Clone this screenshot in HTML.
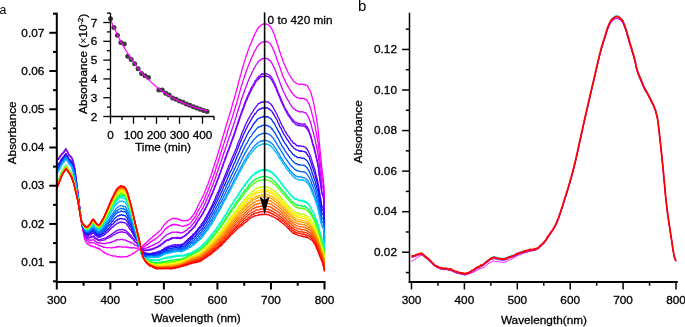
<!DOCTYPE html>
<html><head><meta charset="utf-8"><style>html,body{margin:0;padding:0;background:#fff;overflow:hidden}svg{display:block;will-change:transform}</style></head><body>
<svg width="685" height="327" viewBox="0 0 685 327">
<rect width="685" height="327" fill="#fff"/>
<g fill="none" stroke-width="1.3" stroke-linejoin="round">
<path stroke="#ff00ff" d="M56.8,166.8L57.3,167.5L57.9,166.4L58.4,166.2L58.9,165.8L59.5,165.3L60.0,165.1L60.5,164.1L61.1,163.7L61.6,162.2L62.2,162.3L62.7,162.4L63.2,162.0L63.8,161.8L64.3,161.1L64.8,160.2L65.4,159.2L65.9,158.5L66.4,159.0L67.0,160.1L67.5,160.8L68.0,161.4L68.6,162.6L69.1,163.7L69.6,164.2L70.2,164.8L70.7,165.2L71.3,166.5L71.8,167.2L72.3,168.4L72.9,170.3L73.4,172.0L73.9,174.0L74.5,176.3L75.0,178.6L75.5,181.8L76.1,186.0L76.6,188.4L77.1,191.9L77.7,195.6L78.2,198.8L78.8,202.5L79.3,206.6L79.8,211.1L80.4,215.3L80.9,219.4L81.4,222.3L82.0,225.5L82.5,228.4L83.0,230.9L83.6,233.8L84.1,236.6L84.6,238.9L85.2,240.2L85.7,241.5L86.2,242.5L86.8,242.9L87.3,244.1L87.9,243.8L88.4,244.3L88.9,245.1L89.5,245.1L90.0,245.6L90.5,245.4L91.1,246.3L91.6,246.2L92.1,246.0L92.7,246.1L93.2,247.0L93.7,246.8L94.3,246.8L94.8,247.2L95.3,246.9L95.9,247.8L96.4,247.6L97.0,248.2L97.5,247.8L98.0,248.4L98.6,248.7L99.1,249.3L99.6,248.8L100.2,249.3L100.7,249.7L101.2,250.0L101.8,250.5L102.3,251.2L102.8,251.6L103.4,252.0L103.9,251.9L104.5,252.9L105.0,253.1L105.5,253.3L106.1,253.4L106.6,253.6L107.1,254.2L107.7,254.6L108.2,254.4L108.7,254.3L109.3,254.7L109.8,255.0L110.3,255.3L110.9,255.4L111.4,255.7L111.9,255.6L112.5,256.1L113.0,256.0L113.6,256.2L114.1,256.1L114.6,256.2L115.2,255.8L115.7,256.1L116.2,256.1L116.8,257.0L117.3,256.7L117.8,256.8L118.4,256.6L118.9,257.2L119.4,256.5L120.0,256.6L120.5,257.1L121.0,257.1L121.6,257.1L122.1,256.9L122.7,256.8L123.2,256.5L123.7,257.0L124.3,256.8L124.8,256.9L125.3,256.6L125.9,256.7L126.4,256.5L126.9,256.9L127.5,256.5L128.0,256.5L128.5,255.7L129.1,255.6L129.6,255.6L130.1,255.3L130.7,254.8L131.2,254.7L131.8,254.5L132.3,253.8L132.8,253.0L133.4,253.3L133.9,253.1L134.4,252.9L135.0,252.6L135.5,251.8L136.0,251.4L136.6,251.2L137.1,250.7L137.6,250.3L138.2,249.8L138.7,249.8L139.3,249.1L139.8,248.4L140.3,248.2L140.9,247.6L141.4,247.2L141.9,246.7L142.5,245.9L143.0,245.8L143.5,245.2L144.1,244.5L144.6,244.1L145.1,243.4L145.7,243.8L146.2,242.6L146.7,242.4L147.3,241.8L147.8,241.1L148.4,240.6L148.9,240.1L149.4,239.8L150.0,239.0L150.5,239.0L151.0,238.5L151.6,237.8L152.1,237.6L152.6,236.5L153.2,236.4L153.7,235.6L154.2,235.7L154.8,235.3L155.3,234.8L155.8,234.2L156.4,234.0L156.9,233.3L157.5,233.0L158.0,232.1L158.5,232.1L159.1,231.2L159.6,231.1L160.1,230.6L160.7,229.9L161.2,229.4L161.7,228.4L162.3,227.5L162.8,226.9L163.3,226.1L163.9,225.1L164.4,224.7L165.0,224.0L165.5,223.4L166.0,223.1L166.6,222.0L167.1,222.1L167.6,221.1L168.2,220.9L168.7,220.3L169.2,220.2L169.8,220.0L170.3,219.4L170.8,219.3L171.4,219.0L171.9,218.7L172.4,218.5L173.0,218.4L173.5,218.5L174.1,218.3L174.6,218.8L175.1,218.4L175.7,218.7L176.2,218.3L176.7,218.4L177.3,219.2L177.8,218.8L178.3,219.0L178.9,219.4L179.4,219.2L179.9,219.7L180.5,220.3L181.0,220.2L181.5,220.3L182.1,220.5L182.6,220.9L183.2,220.4L183.7,220.4L184.2,220.8L184.8,220.7L185.3,220.6L185.8,220.7L186.4,220.2L186.9,220.5L187.4,220.8L188.0,220.7L188.5,220.3L189.0,219.5L189.6,219.6L190.1,219.0L190.6,218.3L191.2,217.8L191.7,216.5L192.3,216.5L192.8,215.4L193.3,214.8L193.9,214.0L194.4,213.5L194.9,211.9L195.5,211.3L196.0,210.2L196.5,209.2L197.1,208.0L197.6,206.5L198.1,205.3L198.7,204.3L199.2,203.2L199.8,202.3L200.3,201.4L200.8,200.3L201.4,199.3L201.9,198.4L202.4,197.2L203.0,195.9L203.5,195.0L204.0,193.9L204.6,192.4L205.1,190.9L205.6,190.0L206.2,188.6L206.7,187.2L207.2,185.5L207.8,184.8L208.3,182.8L208.9,181.2L209.4,180.1L209.9,178.0L210.5,176.7L211.0,175.4L211.5,173.6L212.1,172.4L212.6,170.6L213.1,168.4L213.7,167.4L214.2,165.1L214.7,163.8L215.3,161.9L215.8,160.4L216.3,159.2L216.9,157.1L217.4,155.2L218.0,153.7L218.5,152.0L219.0,149.8L219.6,148.3L220.1,146.7L220.6,144.7L221.2,142.5L221.7,141.0L222.2,138.8L222.8,136.8L223.3,135.4L223.8,133.8L224.4,132.0L224.9,129.9L225.5,127.9L226.0,126.2L226.5,124.3L227.1,122.8L227.6,120.8L228.1,119.2L228.7,117.4L229.2,115.9L229.7,114.2L230.3,112.2L230.8,110.5L231.3,108.7L231.9,106.5L232.4,104.9L232.9,102.4L233.5,101.0L234.0,99.5L234.6,97.3L235.1,95.4L235.6,93.7L236.2,91.4L236.7,89.8L237.2,88.3L237.8,85.4L238.3,83.8L238.8,81.3L239.4,79.7L239.9,77.9L240.4,75.2L241.0,73.9L241.5,71.6L242.0,69.4L242.6,67.9L243.1,66.0L243.7,64.2L244.2,62.3L244.7,60.9L245.3,58.9L245.8,57.2L246.3,55.2L246.9,54.2L247.4,52.8L247.9,50.9L248.5,49.7L249.0,48.1L249.5,46.7L250.1,45.1L250.6,44.2L251.2,42.7L251.7,41.9L252.2,40.2L252.8,38.4L253.3,37.7L253.8,36.4L254.4,35.4L254.9,33.8L255.4,32.8L256.0,32.1L256.5,30.6L257.0,29.8L257.6,28.8L258.1,28.4L258.6,27.1L259.2,26.8L259.7,26.4L260.3,26.0L260.8,25.5L261.3,24.9L261.9,24.9L262.4,24.3L262.9,24.3L263.5,23.9L264.0,23.9L264.5,24.0L265.1,24.4L265.6,23.9L266.1,23.9L266.7,24.1L267.2,24.2L267.7,24.7L268.3,24.9L268.8,25.4L269.4,25.4L269.9,26.2L270.4,27.0L271.0,28.0L271.5,28.6L272.0,29.2L272.6,30.6L273.1,32.1L273.6,32.9L274.2,34.3L274.7,35.9L275.2,37.5L275.8,39.0L276.3,40.7L276.8,42.3L277.4,44.4L277.9,45.5L278.5,47.5L279.0,48.8L279.5,51.4L280.1,52.4L280.6,54.0L281.1,55.9L281.7,57.3L282.2,58.7L282.7,60.2L283.3,61.9L283.8,63.2L284.3,64.2L284.9,65.4L285.4,66.9L286.0,68.1L286.5,69.1L287.0,70.0L287.6,71.5L288.1,72.6L288.6,73.2L289.2,74.5L289.7,75.3L290.2,76.0L290.8,76.8L291.3,78.0L291.8,78.4L292.4,79.7L292.9,79.9L293.4,81.0L294.0,81.6L294.5,81.7L295.1,82.4L295.6,82.9L296.1,83.2L296.7,83.3L297.2,83.6L297.7,83.8L298.3,83.8L298.8,84.3L299.3,84.3L299.9,84.4L300.4,84.1L300.9,84.1L301.5,84.1L302.0,84.4L302.5,84.5L303.1,84.3L303.6,84.6L304.2,84.4L304.7,84.5L305.2,85.0L305.8,85.1L306.3,85.4L306.8,85.4L307.4,85.7L307.9,86.9L308.4,87.7L309.0,89.0L309.5,89.3L310.0,90.5L310.6,92.0L311.1,93.1L311.7,95.5L312.2,97.3L312.7,99.4L313.3,101.9L313.8,103.8L314.3,106.3L314.9,109.5L315.4,112.5L315.9,115.2L316.5,118.6L317.0,122.0L317.5,125.2L318.1,129.3L318.6,134.6L319.1,140.4L319.7,146.6L320.2,151.8L320.8,157.2L321.3,162.6L321.8,167.6L322.4,172.3L322.9,175.8L323.4,180.3L324.0,187.4L324.5,223.9"/>
<path stroke="#f200ff" d="M56.8,168.7L57.3,168.5L57.9,167.8L58.4,167.2L58.9,166.4L59.5,166.1L60.0,165.5L60.5,164.6L61.1,164.0L61.6,163.2L62.2,162.4L62.7,162.2L63.2,161.3L63.8,161.4L64.3,160.5L64.8,159.7L65.4,158.7L65.9,158.4L66.4,159.0L67.0,159.6L67.5,160.3L68.0,161.4L68.6,162.4L69.1,163.5L69.6,163.7L70.2,164.2L70.7,165.2L71.3,166.0L71.8,166.7L72.3,168.4L72.9,169.7L73.4,171.6L73.9,173.7L74.5,176.0L75.0,178.6L75.5,181.4L76.1,184.7L76.6,188.5L77.1,191.3L77.7,195.0L78.2,198.5L78.8,202.9L79.3,206.0L79.8,210.8L80.4,214.9L80.9,219.2L81.4,222.3L82.0,225.1L82.5,227.5L83.0,230.3L83.6,232.6L84.1,234.9L84.6,237.5L85.2,238.1L85.7,239.2L86.2,240.1L86.8,240.4L87.3,241.3L87.9,241.5L88.4,241.4L88.9,241.8L89.5,242.7L90.0,243.1L90.5,242.7L91.1,242.2L91.6,242.6L92.1,242.6L92.7,242.4L93.2,242.9L93.7,242.8L94.3,242.9L94.8,243.3L95.3,243.6L95.9,244.1L96.4,244.2L97.0,244.6L97.5,244.5L98.0,244.5L98.6,245.5L99.1,246.0L99.6,245.8L100.2,245.7L100.7,245.8L101.2,246.0L101.8,246.6L102.3,246.8L102.8,246.6L103.4,247.3L103.9,247.0L104.5,247.4L105.0,247.3L105.5,247.4L106.1,247.4L106.6,247.5L107.1,247.9L107.7,247.6L108.2,247.7L108.7,247.7L109.3,247.5L109.8,247.8L110.3,247.9L110.9,247.9L111.4,247.8L111.9,247.5L112.5,247.8L113.0,247.3L113.6,247.4L114.1,247.5L114.6,247.6L115.2,247.2L115.7,247.0L116.2,247.5L116.8,246.7L117.3,246.6L117.8,246.8L118.4,246.8L118.9,246.3L119.4,246.5L120.0,247.0L120.5,246.8L121.0,246.9L121.6,246.9L122.1,247.4L122.7,246.7L123.2,247.1L123.7,247.0L124.3,247.1L124.8,246.9L125.3,247.2L125.9,247.4L126.4,247.1L126.9,247.0L127.5,247.5L128.0,247.2L128.5,247.5L129.1,247.8L129.6,247.3L130.1,247.9L130.7,247.4L131.2,247.8L131.8,247.6L132.3,248.0L132.8,248.0L133.4,247.6L133.9,247.9L134.4,247.9L135.0,248.1L135.5,247.9L136.0,248.4L136.6,248.3L137.1,248.0L137.6,248.1L138.2,248.1L138.7,247.8L139.3,247.8L139.8,247.7L140.3,247.2L140.9,247.4L141.4,247.2L141.9,247.5L142.5,247.4L143.0,247.5L143.5,246.9L144.1,247.1L144.6,246.4L145.1,245.8L145.7,245.2L146.2,245.0L146.7,245.1L147.3,244.4L147.8,244.3L148.4,243.6L148.9,243.4L149.4,242.8L150.0,242.1L150.5,242.0L151.0,241.3L151.6,241.5L152.1,241.2L152.6,240.5L153.2,240.0L153.7,240.2L154.2,239.7L154.8,239.6L155.3,239.0L155.8,238.4L156.4,238.2L156.9,237.9L157.5,237.7L158.0,236.9L158.5,236.3L159.1,235.9L159.6,235.5L160.1,235.4L160.7,234.2L161.2,234.0L161.7,233.5L162.3,232.6L162.8,232.6L163.3,231.5L163.9,230.9L164.4,230.1L165.0,229.2L165.5,228.9L166.0,228.8L166.6,228.0L167.1,227.5L167.6,227.1L168.2,227.1L168.7,226.9L169.2,226.1L169.8,225.8L170.3,225.6L170.8,225.7L171.4,224.7L171.9,225.5L172.4,224.8L173.0,224.1L173.5,224.5L174.1,224.4L174.6,224.8L175.1,224.2L175.7,224.9L176.2,224.6L176.7,224.7L177.3,225.0L177.8,224.7L178.3,225.3L178.9,225.2L179.4,225.3L179.9,225.5L180.5,225.6L181.0,225.7L181.5,226.1L182.1,226.3L182.6,226.3L183.2,226.2L183.7,225.8L184.2,226.0L184.8,225.7L185.3,225.7L185.8,225.7L186.4,225.2L186.9,225.4L187.4,225.0L188.0,224.5L188.5,224.8L189.0,224.2L189.6,224.0L190.1,223.3L190.6,223.0L191.2,222.1L191.7,221.5L192.3,220.6L192.8,219.6L193.3,219.2L193.9,218.5L194.4,217.9L194.9,217.0L195.5,216.2L196.0,215.4L196.5,213.9L197.1,212.5L197.6,211.7L198.1,210.9L198.7,209.4L199.2,208.9L199.8,208.0L200.3,207.2L200.8,206.3L201.4,205.2L201.9,203.7L202.4,203.2L203.0,202.3L203.5,201.1L204.0,199.9L204.6,199.1L205.1,197.4L205.6,196.1L206.2,194.9L206.7,193.5L207.2,192.6L207.8,191.4L208.3,189.4L208.9,188.0L209.4,187.2L209.9,185.4L210.5,184.0L211.0,182.4L211.5,181.0L212.1,179.7L212.6,178.0L213.1,176.5L213.7,175.0L214.2,173.9L214.7,172.6L215.3,170.5L215.8,169.1L216.3,167.0L216.9,165.3L217.4,163.8L218.0,162.3L218.5,160.5L219.0,158.6L219.6,157.4L220.1,155.3L220.6,153.7L221.2,152.1L221.7,150.1L222.2,148.9L222.8,146.8L223.3,145.6L223.8,143.8L224.4,142.2L224.9,140.1L225.5,138.7L226.0,136.8L226.5,135.4L227.1,133.2L227.6,131.4L228.1,130.1L228.7,128.1L229.2,126.7L229.7,124.6L230.3,123.5L230.8,122.2L231.3,119.8L231.9,118.5L232.4,117.0L232.9,115.2L233.5,113.7L234.0,111.6L234.6,110.1L235.1,107.7L235.6,106.1L236.2,104.8L236.7,102.9L237.2,100.8L237.8,99.3L238.3,97.0L238.8,95.1L239.4,93.4L239.9,91.5L240.4,89.4L241.0,87.4L241.5,85.5L242.0,84.1L242.6,82.2L243.1,80.8L243.7,78.9L244.2,77.5L244.7,75.5L245.3,74.4L245.8,72.8L246.3,71.1L246.9,69.5L247.4,68.5L247.9,66.9L248.5,65.3L249.0,64.0L249.5,62.9L250.1,61.4L250.6,60.2L251.2,58.5L251.7,57.5L252.2,56.7L252.8,55.7L253.3,54.0L253.8,52.7L254.4,51.8L254.9,50.6L255.4,49.8L256.0,49.1L256.5,47.7L257.0,47.0L257.6,46.1L258.1,45.8L258.6,44.8L259.2,44.4L259.7,43.6L260.3,43.5L260.8,43.1L261.3,42.8L261.9,42.1L262.4,42.1L262.9,42.1L263.5,42.0L264.0,41.9L264.5,41.3L265.1,42.0L265.6,41.8L266.1,41.5L266.7,41.5L267.2,41.9L267.7,41.9L268.3,42.2L268.8,42.5L269.4,43.2L269.9,43.3L270.4,44.3L271.0,44.7L271.5,46.1L272.0,46.6L272.6,48.1L273.1,49.3L273.6,50.1L274.2,51.7L274.7,52.8L275.2,54.5L275.8,55.4L276.3,57.3L276.8,59.1L277.4,60.3L277.9,61.7L278.5,63.6L279.0,64.9L279.5,66.1L280.1,67.9L280.6,69.6L281.1,71.2L281.7,72.4L282.2,74.3L282.7,76.1L283.3,76.9L283.8,78.2L284.3,78.8L284.9,80.4L285.4,81.8L286.0,82.9L286.5,83.6L287.0,84.9L287.6,85.9L288.1,86.7L288.6,87.6L289.2,88.5L289.7,89.4L290.2,90.0L290.8,90.7L291.3,92.3L291.8,92.1L292.4,93.4L292.9,93.8L293.4,94.9L294.0,95.2L294.5,95.8L295.1,96.3L295.6,96.5L296.1,96.9L296.7,97.6L297.2,97.6L297.7,97.6L298.3,97.8L298.8,98.2L299.3,98.3L299.9,98.3L300.4,98.6L300.9,98.6L301.5,98.0L302.0,98.5L302.5,98.4L303.1,98.7L303.6,98.3L304.2,98.3L304.7,99.0L305.2,99.1L305.8,99.7L306.3,99.6L306.8,100.4L307.4,101.5L307.9,101.9L308.4,103.1L309.0,104.1L309.5,105.3L310.0,107.0L310.6,108.5L311.1,110.1L311.7,112.5L312.2,114.7L312.7,116.1L313.3,118.7L313.8,121.0L314.3,123.2L314.9,125.3L315.4,127.9L315.9,130.9L316.5,133.6L317.0,137.0L317.5,139.5L318.1,142.9L318.6,147.3L319.1,152.4L319.7,158.3L320.2,162.0L320.8,167.6L321.3,171.8L321.8,176.3L322.4,179.2L322.9,181.4L323.4,185.2L324.0,191.3L324.5,225.4"/>
<path stroke="#cc00ff" d="M56.8,168.6L57.3,167.9L57.9,167.5L58.4,165.9L58.9,165.3L59.5,164.9L60.0,163.8L60.5,162.8L61.1,162.1L61.6,161.0L62.2,159.9L62.7,159.4L63.2,158.5L63.8,158.1L64.3,157.4L64.8,156.5L65.4,155.9L65.9,155.3L66.4,155.5L67.0,156.7L67.5,157.5L68.0,158.3L68.6,159.7L69.1,160.3L69.6,160.8L70.2,161.6L70.7,162.2L71.3,163.1L71.8,164.2L72.3,165.1L72.9,166.6L73.4,168.1L73.9,170.6L74.5,173.1L75.0,175.3L75.5,178.7L76.1,182.5L76.6,186.3L77.1,189.6L77.7,193.6L78.2,197.4L78.8,201.4L79.3,205.7L79.8,210.1L80.4,214.9L80.9,219.2L81.4,222.1L82.0,224.6L82.5,226.7L83.0,229.0L83.6,231.7L84.1,234.0L84.6,235.6L85.2,236.8L85.7,238.2L86.2,238.3L86.8,239.0L87.3,239.1L87.9,239.6L88.4,239.7L88.9,239.9L89.5,240.3L90.0,240.2L90.5,240.3L91.1,239.9L91.6,240.2L92.1,240.2L92.7,239.7L93.2,239.6L93.7,239.8L94.3,240.1L94.8,241.1L95.3,241.3L95.9,241.6L96.4,241.8L97.0,242.6L97.5,242.4L98.0,242.6L98.6,243.1L99.1,243.0L99.6,242.9L100.2,243.2L100.7,243.0L101.2,243.1L101.8,243.3L102.3,243.4L102.8,243.7L103.4,243.4L103.9,243.8L104.5,243.8L105.0,243.5L105.5,243.7L106.1,243.3L106.6,243.0L107.1,243.2L107.7,243.0L108.2,242.7L108.7,242.6L109.3,243.0L109.8,242.8L110.3,242.0L110.9,242.1L111.4,242.5L111.9,242.1L112.5,241.6L113.0,241.7L113.6,241.2L114.1,241.1L114.6,240.8L115.2,240.9L115.7,240.3L116.2,239.8L116.8,240.3L117.3,239.7L117.8,239.7L118.4,239.7L118.9,239.8L119.4,239.9L120.0,239.8L120.5,239.4L121.0,239.4L121.6,239.3L122.1,239.4L122.7,239.5L123.2,239.9L123.7,240.1L124.3,239.8L124.8,239.8L125.3,240.0L125.9,240.6L126.4,240.5L126.9,241.0L127.5,240.9L128.0,241.5L128.5,241.5L129.1,241.7L129.6,242.0L130.1,241.9L130.7,242.7L131.2,243.2L131.8,242.8L132.3,243.0L132.8,243.3L133.4,243.9L133.9,244.2L134.4,244.6L135.0,245.2L135.5,245.2L136.0,245.2L136.6,245.7L137.1,245.3L137.6,246.3L138.2,246.3L138.7,246.2L139.3,246.8L139.8,247.2L140.3,247.6L140.9,247.8L141.4,247.6L141.9,248.2L142.5,248.4L143.0,248.7L143.5,248.4L144.1,248.5L144.6,248.7L145.1,248.5L145.7,248.2L146.2,247.9L146.7,248.0L147.3,247.7L147.8,247.1L148.4,247.6L148.9,247.4L149.4,246.7L150.0,246.6L150.5,246.4L151.0,246.1L151.6,245.9L152.1,245.5L152.6,245.4L153.2,244.9L153.7,245.1L154.2,244.8L154.8,244.3L155.3,244.1L155.8,243.6L156.4,243.5L156.9,243.3L157.5,242.8L158.0,242.6L158.5,242.5L159.1,242.0L159.6,241.6L160.1,241.1L160.7,240.5L161.2,239.9L161.7,239.4L162.3,238.6L162.8,238.2L163.3,238.0L163.9,237.0L164.4,236.6L165.0,236.5L165.5,235.8L166.0,235.2L166.6,235.0L167.1,234.5L167.6,234.3L168.2,234.0L168.7,233.9L169.2,233.5L169.8,233.4L170.3,232.9L170.8,233.2L171.4,232.6L171.9,232.2L172.4,232.2L173.0,232.2L173.5,232.0L174.1,232.3L174.6,232.3L175.1,232.2L175.7,232.1L176.2,231.9L176.7,232.4L177.3,232.0L177.8,232.6L178.3,232.5L178.9,232.4L179.4,232.2L179.9,232.8L180.5,233.2L181.0,232.6L181.5,232.7L182.1,232.8L182.6,232.7L183.2,232.3L183.7,231.9L184.2,231.5L184.8,231.7L185.3,230.5L185.8,230.7L186.4,230.4L186.9,229.8L187.4,229.6L188.0,228.6L188.5,228.5L189.0,228.3L189.6,227.7L190.1,227.2L190.6,226.7L191.2,225.9L191.7,225.6L192.3,224.4L192.8,224.2L193.3,223.6L193.9,222.7L194.4,222.7L194.9,221.6L195.5,220.4L196.0,219.6L196.5,218.6L197.1,217.5L197.6,216.8L198.1,215.8L198.7,215.1L199.2,214.4L199.8,212.8L200.3,212.5L200.8,211.6L201.4,210.2L201.9,209.4L202.4,208.8L203.0,207.8L203.5,206.6L204.0,205.8L204.6,204.4L205.1,203.3L205.6,202.2L206.2,200.8L206.7,199.7L207.2,198.2L207.8,197.0L208.3,196.5L208.9,194.6L209.4,193.8L209.9,192.5L210.5,190.7L211.0,189.6L211.5,188.2L212.1,186.5L212.6,185.5L213.1,184.1L213.7,182.4L214.2,180.8L214.7,179.5L215.3,178.5L215.8,176.8L216.3,175.2L216.9,173.2L217.4,171.9L218.0,170.4L218.5,168.8L219.0,167.6L219.6,165.8L220.1,164.3L220.6,163.0L221.2,161.2L221.7,159.5L222.2,158.3L222.8,156.3L223.3,154.7L223.8,153.0L224.4,151.9L224.9,150.1L225.5,148.2L226.0,146.7L226.5,145.5L227.1,143.7L227.6,141.9L228.1,140.6L228.7,139.0L229.2,136.9L229.7,136.0L230.3,134.4L230.8,133.1L231.3,131.4L231.9,129.4L232.4,128.2L232.9,126.8L233.5,125.2L234.0,123.3L234.6,121.5L235.1,120.2L235.6,118.2L236.2,116.7L236.7,114.8L237.2,113.1L237.8,111.3L238.3,109.8L238.8,108.0L239.4,106.2L239.9,104.9L240.4,102.8L241.0,101.0L241.5,99.2L242.0,97.8L242.6,96.3L243.1,94.6L243.7,93.2L244.2,91.6L244.7,89.9L245.3,88.5L245.8,87.4L246.3,85.8L246.9,84.8L247.4,82.8L247.9,81.8L248.5,80.3L249.0,79.4L249.5,77.9L250.1,76.6L250.6,75.3L251.2,74.6L251.7,73.0L252.2,72.1L252.8,71.1L253.3,69.8L253.8,68.9L254.4,67.9L254.9,67.0L255.4,65.9L256.0,65.0L256.5,64.2L257.0,63.6L257.6,62.8L258.1,61.9L258.6,61.1L259.2,60.9L259.7,60.1L260.3,60.0L260.8,59.9L261.3,59.2L261.9,59.3L262.4,58.8L262.9,58.5L263.5,58.7L264.0,58.5L264.5,57.9L265.1,58.4L265.6,58.4L266.1,58.3L266.7,58.6L267.2,58.7L267.7,58.8L268.3,59.7L268.8,59.2L269.4,60.2L269.9,60.7L270.4,60.9L271.0,61.7L271.5,62.7L272.0,63.3L272.6,64.5L273.1,65.5L273.6,66.8L274.2,67.8L274.7,68.8L275.2,70.2L275.8,71.5L276.3,72.8L276.8,74.4L277.4,76.0L277.9,77.3L278.5,78.3L279.0,80.1L279.5,81.5L280.1,83.0L280.6,84.4L281.1,85.7L281.7,87.2L282.2,88.5L282.7,90.0L283.3,91.2L283.8,92.1L284.3,93.2L284.9,94.3L285.4,95.6L286.0,96.8L286.5,97.5L287.0,98.5L287.6,99.9L288.1,100.3L288.6,101.2L289.2,101.9L289.7,103.3L290.2,104.2L290.8,104.5L291.3,105.9L291.8,106.4L292.4,107.2L292.9,107.8L293.4,108.7L294.0,108.8L294.5,109.1L295.1,109.6L295.6,110.0L296.1,110.6L296.7,110.4L297.2,110.9L297.7,111.0L298.3,111.7L298.8,111.4L299.3,111.8L299.9,111.6L300.4,111.7L300.9,112.0L301.5,111.8L302.0,111.6L302.5,111.8L303.1,111.9L303.6,112.3L304.2,112.4L304.7,112.7L305.2,112.7L305.8,112.9L306.3,113.6L306.8,114.3L307.4,115.3L307.9,115.9L308.4,117.2L309.0,118.6L309.5,119.8L310.0,121.0L310.6,122.7L311.1,124.1L311.7,126.7L312.2,128.9L312.7,130.7L313.3,132.2L313.8,134.7L314.3,136.4L314.9,138.6L315.4,140.8L315.9,143.7L316.5,146.5L317.0,148.9L317.5,151.5L318.1,154.3L318.6,158.5L319.1,162.7L319.7,168.0L320.2,172.2L320.8,176.6L321.3,180.6L321.8,184.7L322.4,186.7L322.9,187.9L323.4,190.5L324.0,196.3L324.5,228.0"/>
<path stroke="#8800ff" d="M56.8,159.6L57.3,159.2L57.9,158.3L58.4,157.9L58.9,158.2L59.5,157.1L60.0,156.1L60.5,155.4L61.1,154.9L61.6,153.7L62.2,153.5L62.7,153.1L63.2,152.4L63.8,151.7L64.3,150.8L64.8,150.1L65.4,149.6L65.9,148.5L66.4,149.8L67.0,150.7L67.5,151.2L68.0,152.6L68.6,153.5L69.1,154.9L69.6,155.2L70.2,155.8L70.7,156.3L71.3,156.9L71.8,157.4L72.3,158.5L72.9,159.7L73.4,162.0L73.9,164.3L74.5,166.6L75.0,169.5L75.5,174.0L76.1,177.7L76.6,182.1L77.1,186.1L77.7,190.4L78.2,195.0L78.8,199.9L79.3,204.0L79.8,209.3L80.4,213.5L80.9,218.2L81.4,221.1L82.0,223.4L82.5,225.8L83.0,228.5L83.6,230.3L84.1,232.7L84.6,234.5L85.2,235.4L85.7,236.0L86.2,237.1L86.8,237.2L87.3,237.7L87.9,238.2L88.4,238.0L88.9,237.6L89.5,237.9L90.0,237.8L90.5,237.6L91.1,237.7L91.6,237.1L92.1,236.8L92.7,236.6L93.2,236.7L93.7,237.3L94.3,237.7L94.8,238.2L95.3,238.7L95.9,239.1L96.4,239.0L97.0,239.3L97.5,240.1L98.0,240.0L98.6,240.7L99.1,240.6L99.6,240.8L100.2,240.9L100.7,240.4L101.2,240.3L101.8,240.4L102.3,240.4L102.8,240.4L103.4,240.1L103.9,240.1L104.5,239.8L105.0,239.9L105.5,239.3L106.1,239.0L106.6,238.5L107.1,238.3L107.7,238.2L108.2,238.2L108.7,238.1L109.3,237.4L109.8,236.8L110.3,236.4L110.9,237.1L111.4,236.3L111.9,235.9L112.5,235.8L113.0,235.2L113.6,234.9L114.1,234.7L114.6,234.3L115.2,234.3L115.7,233.8L116.2,233.5L116.8,232.9L117.3,233.3L117.8,232.8L118.4,232.4L118.9,232.5L119.4,232.1L120.0,232.4L120.5,232.1L121.0,232.0L121.6,231.7L122.1,232.1L122.7,232.0L123.2,232.4L123.7,232.4L124.3,232.2L124.8,232.5L125.3,232.5L125.9,232.9L126.4,232.9L126.9,233.3L127.5,234.4L128.0,234.3L128.5,235.2L129.1,235.6L129.6,236.3L130.1,236.5L130.7,237.4L131.2,237.8L131.8,238.4L132.3,238.7L132.8,239.1L133.4,239.8L133.9,240.5L134.4,241.3L135.0,242.1L135.5,242.1L136.0,242.7L136.6,243.1L137.1,243.3L137.6,244.2L138.2,244.7L138.7,245.7L139.3,245.6L139.8,246.3L140.3,247.1L140.9,247.6L141.4,248.6L141.9,249.1L142.5,249.1L143.0,249.7L143.5,249.8L144.1,250.0L144.6,250.1L145.1,250.2L145.7,249.8L146.2,250.3L146.7,250.1L147.3,250.2L147.8,250.2L148.4,250.6L148.9,250.3L149.4,249.4L150.0,249.2L150.5,249.5L151.0,249.2L151.6,248.9L152.1,249.1L152.6,248.2L153.2,248.7L153.7,248.4L154.2,248.7L154.8,247.6L155.3,247.7L155.8,247.1L156.4,247.5L156.9,246.9L157.5,246.7L158.0,246.4L158.5,245.7L159.1,245.3L159.6,245.2L160.1,245.3L160.7,244.6L161.2,244.1L161.7,243.9L162.3,243.4L162.8,243.0L163.3,242.9L163.9,242.1L164.4,241.4L165.0,241.5L165.5,240.9L166.0,240.3L166.6,240.5L167.1,239.9L167.6,240.0L168.2,239.5L168.7,239.5L169.2,239.1L169.8,238.8L170.3,238.6L170.8,238.4L171.4,238.7L171.9,237.6L172.4,237.9L173.0,238.0L173.5,237.8L174.1,237.5L174.6,237.8L175.1,237.6L175.7,237.7L176.2,237.4L176.7,237.7L177.3,237.5L177.8,237.5L178.3,237.7L178.9,237.4L179.4,237.7L179.9,238.1L180.5,237.7L181.0,237.7L181.5,237.6L182.1,237.3L182.6,236.6L183.2,236.7L183.7,236.3L184.2,236.1L184.8,235.4L185.3,235.3L185.8,235.0L186.4,234.7L186.9,233.8L187.4,233.3L188.0,233.3L188.5,232.6L189.0,231.7L189.6,230.9L190.1,231.0L190.6,230.3L191.2,229.5L191.7,229.3L192.3,228.7L192.8,228.1L193.3,227.7L193.9,226.8L194.4,226.1L194.9,225.8L195.5,224.6L196.0,223.5L196.5,222.8L197.1,221.8L197.6,221.2L198.1,219.9L198.7,219.6L199.2,218.2L199.8,217.9L200.3,217.2L200.8,216.5L201.4,215.5L201.9,214.7L202.4,213.8L203.0,212.8L203.5,211.6L204.0,210.6L204.6,209.9L205.1,208.4L205.6,207.9L206.2,206.8L206.7,205.7L207.2,204.2L207.8,203.5L208.3,202.3L208.9,200.5L209.4,199.2L209.9,198.0L210.5,197.4L211.0,195.8L211.5,194.3L212.1,193.2L212.6,192.3L213.1,190.7L213.7,189.7L214.2,188.2L214.7,186.1L215.3,185.1L215.8,184.2L216.3,182.8L216.9,181.0L217.4,179.8L218.0,178.1L218.5,176.9L219.0,175.4L219.6,173.8L220.1,172.7L220.6,171.4L221.2,169.8L221.7,168.2L222.2,166.6L222.8,165.1L223.3,163.6L223.8,161.9L224.4,160.8L224.9,158.7L225.5,157.1L226.0,156.0L226.5,154.6L227.1,152.8L227.6,151.5L228.1,150.2L228.7,148.8L229.2,147.4L229.7,146.1L230.3,144.2L230.8,142.6L231.3,141.7L231.9,140.0L232.4,138.5L232.9,137.1L233.5,135.7L234.0,134.1L234.6,132.9L235.1,130.9L235.6,129.4L236.2,127.3L236.7,126.0L237.2,124.7L237.8,123.0L238.3,121.0L238.8,119.4L239.4,118.1L239.9,116.6L240.4,115.3L241.0,113.5L241.5,111.9L242.0,110.5L242.6,108.4L243.1,107.8L243.7,105.9L244.2,104.4L244.7,103.0L245.3,101.3L245.8,100.7L246.3,99.2L246.9,97.7L247.4,96.5L247.9,95.4L248.5,94.2L249.0,92.6L249.5,92.0L250.1,90.7L250.6,89.2L251.2,88.0L251.7,87.1L252.2,86.5L252.8,85.5L253.3,84.5L253.8,83.6L254.4,82.5L254.9,81.2L255.4,80.5L256.0,80.0L256.5,79.2L257.0,78.6L257.6,77.3L258.1,77.5L258.6,76.4L259.2,76.3L259.7,75.8L260.3,75.5L260.8,74.6L261.3,74.6L261.9,73.7L262.4,74.4L262.9,74.2L263.5,73.7L264.0,73.6L264.5,73.8L265.1,74.2L265.6,73.4L266.1,73.6L266.7,73.8L267.2,74.1L267.7,74.1L268.3,74.6L268.8,74.8L269.4,75.2L269.9,75.3L270.4,76.3L271.0,76.9L271.5,77.2L272.0,78.2L272.6,79.2L273.1,80.2L273.6,81.0L274.2,82.5L274.7,83.4L275.2,84.2L275.8,85.9L276.3,87.4L276.8,88.8L277.4,89.8L277.9,91.5L278.5,92.9L279.0,94.1L279.5,95.5L280.1,96.3L280.6,98.2L281.1,98.8L281.7,100.6L282.2,101.6L282.7,102.7L283.3,104.0L283.8,105.0L284.3,106.5L284.9,107.8L285.4,108.4L286.0,109.7L286.5,110.4L287.0,111.0L287.6,112.2L288.1,113.1L288.6,114.1L289.2,114.8L289.7,115.6L290.2,116.7L290.8,117.0L291.3,118.1L291.8,118.5L292.4,119.3L292.9,119.6L293.4,120.3L294.0,121.0L294.5,121.5L295.1,121.8L295.6,122.0L296.1,122.4L296.7,122.9L297.2,123.1L297.7,123.0L298.3,123.9L298.8,123.5L299.3,124.0L299.9,123.5L300.4,124.0L300.9,124.0L301.5,124.2L302.0,124.0L302.5,123.9L303.1,123.8L303.6,124.6L304.2,124.6L304.7,123.8L305.2,124.8L305.8,125.4L306.3,125.8L306.8,127.2L307.4,127.0L307.9,128.3L308.4,129.8L309.0,130.2L309.5,131.9L310.0,133.4L310.6,134.7L311.1,136.6L311.7,139.0L312.2,140.8L312.7,142.9L313.3,144.7L313.8,146.1L314.3,147.9L314.9,150.1L315.4,152.3L315.9,155.0L316.5,157.3L317.0,160.0L317.5,161.6L318.1,164.8L318.6,168.2L319.1,172.6L319.7,177.2L320.2,180.4L320.8,184.7L321.3,188.6L321.8,192.2L322.4,193.9L322.9,194.6L323.4,196.6L324.0,201.3L324.5,231.2"/>
<path stroke="#7700ff" d="M56.8,161.0L57.3,159.9L57.9,159.6L58.4,159.3L58.9,158.5L59.5,157.9L60.0,156.8L60.5,156.7L61.1,155.5L61.6,154.9L62.2,154.0L62.7,154.0L63.2,153.2L63.8,152.4L64.3,152.1L64.8,151.6L65.4,150.3L65.9,149.7L66.4,150.4L67.0,151.2L67.5,152.4L68.0,153.1L68.6,154.5L69.1,155.5L69.6,155.7L70.2,156.3L70.7,157.1L71.3,157.6L71.8,158.4L72.3,159.6L72.9,160.7L73.4,162.6L73.9,165.3L74.5,167.4L75.0,169.6L75.5,173.8L76.1,178.6L76.6,182.7L77.1,186.4L77.7,190.7L78.2,194.9L78.8,199.7L79.3,204.1L79.8,209.0L80.4,213.9L80.9,218.1L81.4,221.0L82.0,223.4L82.5,226.0L83.0,228.0L83.6,229.9L84.1,232.3L84.6,234.0L85.2,234.8L85.7,235.8L86.2,236.6L86.8,236.6L87.3,237.1L87.9,237.5L88.4,236.9L88.9,237.6L89.5,237.2L90.0,237.3L90.5,237.0L91.1,236.6L91.6,236.7L92.1,236.2L92.7,236.1L93.2,236.3L93.7,236.0L94.3,236.6L94.8,237.2L95.3,237.8L95.9,238.1L96.4,238.3L97.0,238.8L97.5,238.8L98.0,240.0L98.6,240.1L99.1,239.7L99.6,240.1L100.2,239.6L100.7,239.6L101.2,239.2L101.8,239.2L102.3,238.8L102.8,238.8L103.4,238.6L103.9,238.6L104.5,238.3L105.0,238.2L105.5,238.1L106.1,237.9L106.6,237.6L107.1,236.9L107.7,237.2L108.2,236.3L108.7,236.2L109.3,235.5L109.8,235.3L110.3,235.1L110.9,234.6L111.4,234.7L111.9,233.8L112.5,233.4L113.0,233.5L113.6,232.6L114.1,232.4L114.6,232.0L115.2,232.0L115.7,231.2L116.2,230.9L116.8,230.7L117.3,230.8L117.8,230.2L118.4,229.9L118.9,229.9L119.4,229.6L120.0,229.9L120.5,229.7L121.0,229.6L121.6,229.7L122.1,229.1L122.7,229.7L123.2,230.0L123.7,229.8L124.3,230.3L124.8,230.1L125.3,230.2L125.9,230.8L126.4,231.1L126.9,231.7L127.5,232.0L128.0,232.7L128.5,232.8L129.1,233.6L129.6,234.3L130.1,235.1L130.7,234.9L131.2,235.6L131.8,236.4L132.3,237.2L132.8,237.9L133.4,238.7L133.9,238.9L134.4,239.9L135.0,241.0L135.5,241.4L136.0,242.5L136.6,242.3L137.1,242.9L137.6,243.2L138.2,243.7L138.7,245.0L139.3,245.3L139.8,245.9L140.3,246.7L140.9,247.8L141.4,248.3L141.9,249.0L142.5,249.4L143.0,250.0L143.5,250.3L144.1,250.5L144.6,250.6L145.1,250.7L145.7,250.6L146.2,250.4L146.7,250.4L147.3,250.2L147.8,250.1L148.4,250.1L148.9,250.4L149.4,249.9L150.0,249.6L150.5,250.0L151.0,249.8L151.6,249.6L152.1,249.4L152.6,249.1L153.2,249.1L153.7,248.6L154.2,248.8L154.8,248.3L155.3,248.2L155.8,248.1L156.4,247.4L156.9,247.4L157.5,247.1L158.0,247.0L158.5,246.5L159.1,246.2L159.6,246.0L160.1,246.1L160.7,245.1L161.2,244.8L161.7,244.5L162.3,244.0L162.8,243.6L163.3,243.1L163.9,243.0L164.4,242.3L165.0,241.8L165.5,241.6L166.0,241.3L166.6,240.3L167.1,240.3L167.6,240.3L168.2,240.1L168.7,240.4L169.2,239.9L169.8,239.4L170.3,238.8L170.8,239.4L171.4,238.9L171.9,238.2L172.4,238.3L173.0,238.2L173.5,238.0L174.1,238.2L174.6,238.2L175.1,238.0L175.7,238.0L176.2,238.4L176.7,237.8L177.3,238.6L177.8,238.4L178.3,237.5L178.9,238.4L179.4,238.2L179.9,238.7L180.5,238.5L181.0,238.4L181.5,238.2L182.1,237.8L182.6,237.3L183.2,237.2L183.7,236.6L184.2,236.7L184.8,235.9L185.3,235.7L185.8,235.0L186.4,235.0L186.9,234.5L187.4,233.7L188.0,233.3L188.5,232.9L189.0,232.5L189.6,231.7L190.1,231.2L190.6,230.6L191.2,230.4L191.7,229.8L192.3,229.0L192.8,228.8L193.3,227.8L193.9,227.4L194.4,226.8L194.9,226.6L195.5,225.6L196.0,224.6L196.5,223.7L197.1,222.9L197.6,221.7L198.1,220.9L198.7,220.2L199.2,219.8L199.8,218.2L200.3,217.8L200.8,216.9L201.4,216.3L201.9,215.3L202.4,214.3L203.0,213.5L203.5,212.3L204.0,211.6L204.6,210.1L205.1,210.0L205.6,208.6L206.2,207.2L206.7,206.3L207.2,205.3L207.8,204.4L208.3,202.6L208.9,202.1L209.4,200.4L209.9,199.2L210.5,197.8L211.0,196.4L211.5,195.7L212.1,194.4L212.6,193.0L213.1,192.0L213.7,190.1L214.2,189.1L214.7,187.6L215.3,186.6L215.8,184.9L216.3,183.7L216.9,182.2L217.4,181.0L218.0,179.1L218.5,178.1L219.0,177.1L219.6,175.0L220.1,173.7L220.6,172.4L221.2,170.2L221.7,169.3L222.2,168.1L222.8,166.5L223.3,164.8L223.8,163.4L224.4,161.6L224.9,160.2L225.5,159.1L226.0,157.5L226.5,155.9L227.1,154.6L227.6,153.2L228.1,151.4L228.7,150.1L229.2,149.1L229.7,147.4L230.3,146.0L230.8,144.5L231.3,143.1L231.9,141.2L232.4,140.3L232.9,138.8L233.5,137.1L234.0,136.1L234.6,134.3L235.1,132.4L235.6,131.3L236.2,129.6L236.7,127.6L237.2,126.2L237.8,124.7L238.3,123.1L238.8,121.7L239.4,119.9L239.9,118.4L240.4,116.2L241.0,115.1L241.5,113.8L242.0,112.2L242.6,110.7L243.1,109.6L243.7,108.0L244.2,106.0L244.7,105.3L245.3,103.8L245.8,102.1L246.3,100.7L246.9,100.0L247.4,98.2L247.9,97.4L248.5,95.7L249.0,94.8L249.5,93.9L250.1,92.5L250.6,91.5L251.2,90.7L251.7,89.0L252.2,88.5L252.8,87.2L253.3,86.5L253.8,85.9L254.4,84.8L254.9,83.7L255.4,82.6L256.0,81.6L256.5,81.2L257.0,80.6L257.6,80.1L258.1,79.3L258.6,78.7L259.2,78.8L259.7,77.5L260.3,77.2L260.8,76.6L261.3,77.1L261.9,76.6L262.4,76.4L262.9,76.6L263.5,76.3L264.0,76.3L264.5,75.9L265.1,75.9L265.6,75.7L266.1,76.2L266.7,76.5L267.2,76.2L267.7,76.4L268.3,76.6L268.8,76.8L269.4,77.6L269.9,77.7L270.4,78.7L271.0,79.0L271.5,79.6L272.0,80.6L272.6,81.4L273.1,82.7L273.6,83.6L274.2,84.5L274.7,85.9L275.2,87.1L275.8,87.5L276.3,89.3L276.8,90.9L277.4,92.2L277.9,93.0L278.5,95.3L279.0,96.0L279.5,97.1L280.1,98.7L280.6,99.8L281.1,101.4L281.7,102.4L282.2,103.6L282.7,104.8L283.3,106.0L283.8,107.1L284.3,107.9L284.9,109.3L285.4,110.4L286.0,111.3L286.5,112.3L287.0,113.5L287.6,114.5L288.1,115.2L288.6,115.7L289.2,116.7L289.7,117.5L290.2,117.5L290.8,118.7L291.3,119.8L291.8,120.6L292.4,120.8L292.9,121.9L293.4,122.0L294.0,122.7L294.5,123.0L295.1,124.0L295.6,124.0L296.1,124.9L296.7,124.8L297.2,124.8L297.7,125.1L298.3,125.8L298.8,125.3L299.3,125.5L299.9,125.7L300.4,125.9L300.9,125.9L301.5,126.0L302.0,125.7L302.5,125.9L303.1,125.8L303.6,126.0L304.2,126.6L304.7,126.6L305.2,126.4L305.8,127.6L306.3,127.8L306.8,128.7L307.4,129.5L307.9,130.2L308.4,131.1L309.0,132.2L309.5,133.5L310.0,134.8L310.6,137.1L311.1,138.4L311.7,140.7L312.2,142.6L312.7,144.4L313.3,146.4L313.8,147.7L314.3,150.1L314.9,152.2L315.4,154.1L315.9,156.7L316.5,159.0L317.0,161.0L317.5,163.6L318.1,166.2L318.6,169.3L319.1,174.3L319.7,178.2L320.2,181.9L320.8,185.6L321.3,189.1L321.8,193.5L322.4,194.6L322.9,195.6L323.4,197.5L324.0,202.4L324.5,232.0"/>
<path stroke="#5d00ff" d="M56.8,165.6L57.3,164.9L57.9,164.6L58.4,163.5L58.9,163.1L59.5,162.6L60.0,162.1L60.5,160.3L61.1,159.5L61.6,158.9L62.2,158.0L62.7,157.9L63.2,156.7L63.8,156.1L64.3,155.3L64.8,154.6L65.4,154.2L65.9,153.5L66.4,153.8L67.0,155.2L67.5,155.6L68.0,156.5L68.6,158.0L69.1,158.6L69.6,159.1L70.2,159.7L70.7,160.6L71.3,161.1L71.8,161.6L72.3,162.6L72.9,164.2L73.4,166.3L73.9,169.0L74.5,171.0L75.0,173.6L75.5,177.4L76.1,181.2L76.6,185.0L77.1,188.4L77.7,192.5L78.2,196.6L78.8,200.7L79.3,205.4L79.8,209.8L80.4,214.0L80.9,218.4L81.4,220.9L82.0,223.2L82.5,225.1L83.0,227.2L83.6,229.7L84.1,231.0L84.6,232.5L85.2,233.3L85.7,234.1L86.2,234.3L86.8,234.9L87.3,235.6L87.9,235.6L88.4,235.8L88.9,234.8L89.5,235.1L90.0,234.9L90.5,235.0L91.1,234.4L91.6,233.8L92.1,233.6L92.7,233.4L93.2,233.4L93.7,233.0L94.3,234.0L94.8,234.8L95.3,235.1L95.9,235.5L96.4,235.9L97.0,236.3L97.5,236.9L98.0,237.0L98.6,237.1L99.1,237.5L99.6,236.7L100.2,236.5L100.7,237.1L101.2,236.5L101.8,235.9L102.3,235.6L102.8,235.3L103.4,235.8L103.9,235.3L104.5,234.8L105.0,234.2L105.5,234.1L106.1,233.2L106.6,232.8L107.1,232.2L107.7,232.2L108.2,231.4L108.7,230.9L109.3,230.5L109.8,229.6L110.3,229.5L110.9,228.5L111.4,228.5L111.9,227.4L112.5,226.9L113.0,227.0L113.6,226.3L114.1,225.8L114.6,225.6L115.2,224.7L115.7,224.3L116.2,224.2L116.8,223.6L117.3,223.2L117.8,223.2L118.4,223.1L118.9,222.3L119.4,222.7L120.0,222.3L120.5,222.0L121.0,222.0L121.6,222.7L122.1,222.4L122.7,222.4L123.2,222.5L123.7,222.4L124.3,222.6L124.8,222.8L125.3,223.0L125.9,223.2L126.4,223.7L126.9,225.0L127.5,224.8L128.0,226.2L128.5,226.7L129.1,228.1L129.6,228.6L130.1,229.5L130.7,229.7L131.2,230.6L131.8,231.7L132.3,232.7L132.8,233.5L133.4,234.8L133.9,235.7L134.4,236.7L135.0,237.2L135.5,238.3L136.0,239.4L136.6,239.9L137.1,240.7L137.6,241.4L138.2,242.7L138.7,243.4L139.3,243.9L139.8,245.5L140.3,246.7L140.9,247.6L141.4,249.0L141.9,250.0L142.5,251.0L143.0,251.6L143.5,251.7L144.1,252.3L144.6,252.8L145.1,252.9L145.7,253.0L146.2,253.1L146.7,253.1L147.3,253.0L147.8,253.8L148.4,253.6L148.9,254.0L149.4,253.5L150.0,253.4L150.5,253.6L151.0,253.6L151.6,253.5L152.1,253.6L152.6,253.0L153.2,252.6L153.7,253.2L154.2,252.5L154.8,252.8L155.3,253.0L155.8,252.4L156.4,252.2L156.9,252.2L157.5,252.1L158.0,251.5L158.5,251.7L159.1,251.3L159.6,251.0L160.1,251.1L160.7,251.1L161.2,250.7L161.7,250.1L162.3,249.6L162.8,249.8L163.3,249.2L163.9,248.3L164.4,248.7L165.0,247.9L165.5,247.6L166.0,247.2L166.6,247.5L167.1,246.8L167.6,247.0L168.2,246.2L168.7,246.6L169.2,246.1L169.8,246.2L170.3,245.8L170.8,246.1L171.4,245.5L171.9,245.3L172.4,245.3L173.0,244.8L173.5,245.0L174.1,244.8L174.6,244.9L175.1,244.5L175.7,245.1L176.2,245.0L176.7,244.9L177.3,244.7L177.8,244.8L178.3,244.6L178.9,244.8L179.4,245.0L179.9,244.9L180.5,244.7L181.0,245.2L181.5,244.1L182.1,244.3L182.6,244.0L183.2,243.5L183.7,243.2L184.2,243.1L184.8,242.4L185.3,241.6L185.8,241.2L186.4,240.7L186.9,240.6L187.4,240.0L188.0,239.1L188.5,238.5L189.0,238.3L189.6,237.9L190.1,237.8L190.6,236.6L191.2,236.8L191.7,235.9L192.3,235.3L192.8,234.2L193.3,234.4L193.9,234.0L194.4,233.3L194.9,232.7L195.5,231.8L196.0,231.3L196.5,230.9L197.1,230.5L197.6,229.2L198.1,228.7L198.7,227.5L199.2,227.5L199.8,226.4L200.3,226.0L200.8,225.3L201.4,224.0L201.9,223.6L202.4,222.9L203.0,221.9L203.5,221.4L204.0,220.4L204.6,219.6L205.1,218.1L205.6,217.5L206.2,216.5L206.7,215.4L207.2,214.7L207.8,213.7L208.3,213.1L208.9,211.5L209.4,210.5L209.9,209.6L210.5,208.2L211.0,207.8L211.5,206.2L212.1,205.5L212.6,204.3L213.1,202.9L213.7,201.4L214.2,200.8L214.7,199.6L215.3,198.5L215.8,196.5L216.3,195.7L216.9,194.5L217.4,192.9L218.0,192.1L218.5,191.4L219.0,189.8L219.6,188.7L220.1,186.6L220.6,186.2L221.2,184.5L221.7,183.4L222.2,182.1L222.8,180.7L223.3,179.4L223.8,178.2L224.4,177.1L224.9,175.6L225.5,174.4L226.0,173.0L226.5,171.5L227.1,170.3L227.6,168.8L228.1,167.7L228.7,165.9L229.2,165.2L229.7,164.0L230.3,162.3L230.8,161.4L231.3,159.9L231.9,158.4L232.4,157.4L232.9,156.2L233.5,154.5L234.0,153.4L234.6,152.3L235.1,151.1L235.6,149.5L236.2,148.5L236.7,146.9L237.2,145.6L237.8,143.9L238.3,142.4L238.8,141.3L239.4,139.9L239.9,138.7L240.4,137.4L241.0,135.8L241.5,134.3L242.0,133.0L242.6,131.7L243.1,130.6L243.7,129.9L244.2,127.8L244.7,126.5L245.3,125.4L245.8,124.3L246.3,123.1L246.9,121.6L247.4,121.1L247.9,119.7L248.5,118.8L249.0,117.8L249.5,117.0L250.1,116.1L250.6,115.3L251.2,113.9L251.7,113.2L252.2,112.5L252.8,111.6L253.3,110.8L253.8,109.3L254.4,109.0L254.9,108.1L255.4,107.7L256.0,107.0L256.5,105.8L257.0,105.5L257.6,104.9L258.1,104.0L258.6,103.4L259.2,103.4L259.7,103.1L260.3,102.8L260.8,102.6L261.3,101.9L261.9,102.4L262.4,102.0L262.9,102.3L263.5,102.0L264.0,101.6L264.5,101.5L265.1,101.5L265.6,101.7L266.1,101.8L266.7,101.9L267.2,102.0L267.7,101.8L268.3,101.9L268.8,102.5L269.4,103.0L269.9,103.5L270.4,103.7L271.0,104.4L271.5,105.4L272.0,105.3L272.6,106.4L273.1,107.3L273.6,108.3L274.2,109.3L274.7,109.9L275.2,111.3L275.8,112.2L276.3,113.1L276.8,113.9L277.4,115.4L277.9,116.7L278.5,117.9L279.0,118.7L279.5,119.8L280.1,121.3L280.6,122.2L281.1,123.5L281.7,125.0L282.2,125.9L282.7,126.5L283.3,127.4L283.8,128.6L284.3,129.8L284.9,130.8L285.4,131.4L286.0,132.4L286.5,133.7L287.0,134.0L287.6,135.2L288.1,135.7L288.6,136.5L289.2,137.2L289.7,137.9L290.2,138.7L290.8,139.9L291.3,140.6L291.8,140.7L292.4,141.5L292.9,142.6L293.4,143.3L294.0,143.1L294.5,143.2L295.1,144.0L295.6,144.6L296.1,144.8L296.7,145.8L297.2,145.6L297.7,145.3L298.3,145.5L298.8,146.4L299.3,145.7L299.9,145.9L300.4,145.9L300.9,146.2L301.5,146.2L302.0,146.5L302.5,146.3L303.1,146.2L303.6,146.8L304.2,146.7L304.7,147.1L305.2,147.1L305.8,147.5L306.3,148.8L306.8,148.7L307.4,149.4L307.9,150.6L308.4,151.6L309.0,152.6L309.5,154.0L310.0,155.1L310.6,156.2L311.1,158.2L311.7,159.9L312.2,161.7L312.7,163.2L313.3,165.1L313.8,166.5L314.3,167.9L314.9,169.8L315.4,172.0L315.9,174.4L316.5,176.6L317.0,178.5L317.5,180.3L318.1,183.2L318.6,185.7L319.1,189.2L319.7,192.8L320.2,196.4L320.8,198.9L321.3,202.5L321.8,206.2L322.4,206.9L322.9,207.0L323.4,208.3L324.0,212.4L324.5,237.5"/>
<path stroke="#3300ff" d="M56.8,167.4L57.3,166.7L57.9,166.1L58.4,165.0L58.9,165.1L59.5,163.9L60.0,162.5L60.5,162.1L61.1,161.3L61.6,159.6L62.2,158.9L62.7,158.8L63.2,158.2L63.8,157.3L64.3,156.6L64.8,155.8L65.4,155.2L65.9,154.1L66.4,155.2L67.0,156.3L67.5,157.1L68.0,157.8L68.6,159.0L69.1,160.3L69.6,159.9L70.2,160.8L70.7,161.7L71.3,162.3L71.8,162.8L72.3,163.9L72.9,165.8L73.4,167.5L73.9,170.0L74.5,172.2L75.0,174.8L75.5,178.8L76.1,182.1L76.6,186.0L77.1,189.1L77.7,193.3L78.2,196.8L78.8,201.3L79.3,205.1L79.8,210.1L80.4,214.1L80.9,218.5L81.4,221.0L82.0,223.0L82.5,225.7L83.0,227.4L83.6,228.4L84.1,230.7L84.6,232.0L85.2,232.6L85.7,233.1L86.2,234.1L86.8,234.3L87.3,234.8L87.9,234.6L88.4,234.2L88.9,234.2L89.5,234.0L90.0,233.7L90.5,233.5L91.1,233.0L91.6,232.7L92.1,232.4L92.7,231.7L93.2,232.1L93.7,231.8L94.3,232.0L94.8,232.7L95.3,233.1L95.9,234.4L96.4,234.5L97.0,235.2L97.5,235.6L98.0,236.1L98.6,236.2L99.1,235.7L99.6,235.7L100.2,235.3L100.7,235.0L101.2,234.8L101.8,234.8L102.3,234.3L102.8,233.8L103.4,233.4L103.9,233.3L104.5,232.9L105.0,232.4L105.5,231.4L106.1,231.1L106.6,230.7L107.1,230.3L107.7,229.4L108.2,229.4L108.7,228.5L109.3,228.0L109.8,227.4L110.3,226.6L110.9,226.0L111.4,224.7L111.9,224.9L112.5,224.2L113.0,224.0L113.6,223.6L114.1,222.4L114.6,221.7L115.2,221.8L115.7,221.1L116.2,220.3L116.8,220.2L117.3,220.5L117.8,219.4L118.4,219.4L118.9,218.9L119.4,219.1L120.0,218.5L120.5,218.4L121.0,218.8L121.6,218.5L122.1,218.8L122.7,218.9L123.2,219.1L123.7,219.1L124.3,219.3L124.8,219.0L125.3,219.6L125.9,220.2L126.4,220.2L126.9,221.1L127.5,221.8L128.0,222.9L128.5,223.7L129.1,224.8L129.6,225.9L130.1,226.5L130.7,227.3L131.2,228.3L131.8,229.2L132.3,230.8L132.8,231.5L133.4,232.8L133.9,233.9L134.4,234.8L135.0,236.0L135.5,237.2L136.0,237.9L136.6,239.2L137.1,240.0L137.6,241.0L138.2,242.5L138.7,243.8L139.3,244.6L139.8,245.7L140.3,247.1L140.9,248.8L141.4,250.2L141.9,251.2L142.5,252.1L143.0,252.4L143.5,252.9L144.1,253.0L144.6,253.5L145.1,253.3L145.7,253.8L146.2,253.8L146.7,254.1L147.3,254.0L147.8,253.9L148.4,254.0L148.9,253.9L149.4,254.3L150.0,254.0L150.5,253.7L151.0,254.0L151.6,254.0L152.1,253.9L152.6,254.0L153.2,253.7L153.7,253.4L154.2,253.5L154.8,253.5L155.3,253.6L155.8,253.6L156.4,252.7L156.9,253.2L157.5,252.9L158.0,252.8L158.5,252.5L159.1,252.4L159.6,252.0L160.1,251.5L160.7,251.7L161.2,251.1L161.7,251.0L162.3,250.5L162.8,250.5L163.3,249.9L163.9,249.9L164.4,249.8L165.0,249.3L165.5,248.9L166.0,248.7L166.6,248.3L167.1,247.7L167.6,248.1L168.2,247.6L168.7,247.5L169.2,247.5L169.8,247.4L170.3,246.9L170.8,246.7L171.4,246.8L171.9,246.6L172.4,246.5L173.0,246.7L173.5,246.2L174.1,246.1L174.6,245.7L175.1,246.4L175.7,246.3L176.2,246.0L176.7,246.2L177.3,246.1L177.8,246.0L178.3,246.0L178.9,246.0L179.4,245.9L179.9,246.4L180.5,245.8L181.0,246.3L181.5,245.2L182.1,245.1L182.6,245.2L183.2,244.5L183.7,244.4L184.2,243.9L184.8,243.4L185.3,243.0L185.8,242.7L186.4,242.1L186.9,241.8L187.4,241.3L188.0,240.9L188.5,240.7L189.0,239.3L189.6,238.9L190.1,239.1L190.6,238.3L191.2,237.9L191.7,238.0L192.3,237.2L192.8,236.5L193.3,235.6L193.9,235.3L194.4,234.7L194.9,234.3L195.5,233.5L196.0,233.4L196.5,232.3L197.1,231.5L197.6,231.3L198.1,230.3L198.7,229.3L199.2,228.6L199.8,228.1L200.3,227.9L200.8,227.1L201.4,226.5L201.9,225.4L202.4,225.1L203.0,224.3L203.5,223.6L204.0,222.4L204.6,221.4L205.1,220.8L205.6,219.9L206.2,218.9L206.7,217.6L207.2,217.3L207.8,216.0L208.3,215.0L208.9,213.9L209.4,212.7L209.9,211.8L210.5,210.9L211.0,209.5L211.5,208.5L212.1,207.7L212.6,206.6L213.1,205.8L213.7,204.4L214.2,203.5L214.7,202.4L215.3,201.1L215.8,200.3L216.3,198.9L216.9,197.7L217.4,196.3L218.0,195.2L218.5,193.9L219.0,192.4L219.6,191.4L220.1,190.6L220.6,189.5L221.2,188.1L221.7,186.8L222.2,185.8L222.8,184.5L223.3,183.2L223.8,181.7L224.4,180.0L224.9,178.6L225.5,178.0L226.0,176.6L226.5,175.6L227.1,174.4L227.6,172.7L228.1,171.5L228.7,170.4L229.2,168.8L229.7,167.8L230.3,166.3L230.8,165.4L231.3,163.8L231.9,162.8L232.4,161.5L232.9,160.1L233.5,159.3L234.0,157.9L234.6,156.5L235.1,155.2L235.6,153.8L236.2,152.7L236.7,151.5L237.2,149.9L237.8,148.5L238.3,147.4L238.8,145.6L239.4,144.4L239.9,143.1L240.4,141.8L241.0,140.8L241.5,138.9L242.0,138.3L242.6,136.8L243.1,135.4L243.7,134.3L244.2,133.2L244.7,132.2L245.3,131.0L245.8,129.8L246.3,128.4L246.9,127.8L247.4,126.4L247.9,125.4L248.5,124.5L249.0,123.6L249.5,122.5L250.1,121.9L250.6,120.6L251.2,119.6L251.7,118.9L252.2,117.8L252.8,117.0L253.3,116.4L253.8,115.3L254.4,114.8L254.9,113.4L255.4,113.5L256.0,112.8L256.5,112.1L257.0,111.3L257.6,110.6L258.1,110.4L258.6,110.0L259.2,109.1L259.7,109.0L260.3,109.0L260.8,108.7L261.3,108.8L261.9,108.2L262.4,107.7L262.9,108.2L263.5,108.1L264.0,107.7L264.5,108.3L265.1,107.4L265.6,108.1L266.1,107.9L266.7,107.9L267.2,107.7L267.7,108.1L268.3,108.8L268.8,109.1L269.4,108.9L269.9,109.9L270.4,109.9L271.0,110.6L271.5,110.8L272.0,111.4L272.6,113.0L273.1,113.1L273.6,113.9L274.2,115.1L274.7,116.0L275.2,117.2L275.8,118.0L276.3,118.9L276.8,119.7L277.4,120.8L277.9,122.3L278.5,123.5L279.0,124.2L279.5,126.2L280.1,127.0L280.6,127.6L281.1,128.3L281.7,130.0L282.2,130.9L282.7,132.2L283.3,133.0L283.8,133.9L284.3,135.0L284.9,135.7L285.4,136.7L286.0,137.4L286.5,138.4L287.0,139.5L287.6,140.0L288.1,140.6L288.6,141.8L289.2,142.1L289.7,143.0L290.2,143.9L290.8,144.6L291.3,145.4L291.8,146.1L292.4,146.3L292.9,146.9L293.4,147.8L294.0,148.2L294.5,148.7L295.1,148.9L295.6,149.1L296.1,149.9L296.7,149.9L297.2,150.2L297.7,150.3L298.3,150.3L298.8,150.9L299.3,151.3L299.9,150.9L300.4,151.3L300.9,150.6L301.5,151.3L302.0,151.2L302.5,151.2L303.1,151.3L303.6,151.6L304.2,151.7L304.7,151.7L305.2,152.3L305.8,152.2L306.3,153.0L306.8,154.2L307.4,154.2L307.9,155.7L308.4,156.2L309.0,156.8L309.5,158.2L310.0,160.0L310.6,161.4L311.1,162.9L311.7,164.5L312.2,166.6L312.7,167.7L313.3,169.4L313.8,171.1L314.3,172.7L314.9,174.0L315.4,176.6L315.9,178.6L316.5,180.2L317.0,182.3L317.5,184.7L318.1,186.8L318.6,189.8L319.1,192.8L319.7,196.5L320.2,199.3L320.8,202.5L321.3,205.7L321.8,208.8L322.4,209.6L322.9,209.9L323.4,211.2L324.0,215.0L324.5,238.9"/>
<path stroke="#0022ff" d="M56.8,168.5L57.3,167.5L57.9,167.0L58.4,166.4L58.9,165.4L59.5,164.3L60.0,163.4L60.5,163.2L61.1,161.8L61.6,161.0L62.2,160.1L62.7,159.6L63.2,158.9L63.8,158.2L64.3,157.4L64.8,156.5L65.4,156.1L65.9,155.3L66.4,156.0L67.0,156.9L67.5,157.4L68.0,158.7L68.6,159.5L69.1,160.4L69.6,160.8L70.2,161.6L70.7,162.1L71.3,163.0L71.8,163.6L72.3,164.9L72.9,166.8L73.4,168.3L73.9,170.3L74.5,173.0L75.0,175.3L75.5,178.6L76.1,182.7L76.6,186.1L77.1,190.2L77.7,193.5L78.2,197.5L78.8,201.5L79.3,205.4L79.8,210.1L80.4,214.6L80.9,219.1L81.4,220.7L82.0,222.8L82.5,225.0L83.0,226.9L83.6,228.3L84.1,229.6L84.6,231.0L85.2,231.5L85.7,232.8L86.2,233.5L86.8,233.4L87.3,233.3L87.9,233.7L88.4,233.4L88.9,233.4L89.5,233.2L90.0,232.8L90.5,232.8L91.1,231.8L91.6,231.2L92.1,230.6L92.7,230.7L93.2,230.6L93.7,231.0L94.3,231.5L94.8,231.5L95.3,231.7L95.9,233.1L96.4,233.4L97.0,233.5L97.5,234.3L98.0,234.4L98.6,234.8L99.1,234.8L99.6,234.3L100.2,234.3L100.7,234.2L101.2,233.3L101.8,233.1L102.3,232.8L102.8,232.5L103.4,231.8L103.9,231.6L104.5,230.9L105.0,230.1L105.5,229.7L106.1,228.8L106.6,228.7L107.1,227.7L107.7,227.1L108.2,226.1L108.7,225.9L109.3,225.0L109.8,224.6L110.3,224.1L110.9,223.4L111.4,222.7L111.9,221.7L112.5,221.5L113.0,220.7L113.6,219.9L114.1,219.2L114.6,218.6L115.2,217.9L115.7,217.9L116.2,217.3L116.8,216.6L117.3,216.1L117.8,216.0L118.4,215.9L118.9,215.5L119.4,215.6L120.0,214.9L120.5,215.3L121.0,214.9L121.6,214.7L122.1,214.8L122.7,215.4L123.2,215.1L123.7,215.4L124.3,215.5L124.8,215.3L125.3,215.8L125.9,216.7L126.4,217.3L126.9,217.7L127.5,218.7L128.0,220.0L128.5,221.1L129.1,221.9L129.6,222.9L130.1,223.6L130.7,224.9L131.2,225.7L131.8,226.7L132.3,228.5L132.8,229.6L133.4,230.4L133.9,232.1L134.4,233.3L135.0,234.3L135.5,236.0L136.0,237.2L136.6,238.7L137.1,239.5L137.6,241.0L138.2,242.3L138.7,244.2L139.3,244.7L139.8,246.1L140.3,248.0L140.9,249.0L141.4,251.3L141.9,252.0L142.5,253.4L143.0,253.0L143.5,254.6L144.1,254.6L144.6,254.7L145.1,254.5L145.7,254.6L146.2,254.8L146.7,254.9L147.3,254.4L147.8,255.1L148.4,254.9L148.9,254.6L149.4,255.3L150.0,255.2L150.5,254.7L151.0,254.8L151.6,255.1L152.1,254.8L152.6,254.3L153.2,254.8L153.7,254.5L154.2,254.6L154.8,254.7L155.3,254.1L155.8,254.2L156.4,254.0L156.9,254.2L157.5,254.0L158.0,253.8L158.5,253.5L159.1,253.5L159.6,253.3L160.1,252.7L160.7,253.0L161.2,252.6L161.7,252.3L162.3,252.0L162.8,251.9L163.3,251.5L163.9,250.8L164.4,250.8L165.0,250.6L165.5,249.7L166.0,250.2L166.6,249.4L167.1,249.3L167.6,249.6L168.2,249.2L168.7,249.0L169.2,248.5L169.8,248.5L170.3,248.6L170.8,248.6L171.4,248.6L171.9,248.1L172.4,248.3L173.0,247.9L173.5,247.8L174.1,247.6L174.6,247.4L175.1,247.6L175.7,247.5L176.2,247.6L176.7,247.3L177.3,247.3L177.8,247.1L178.3,247.1L178.9,247.6L179.4,247.8L179.9,247.3L180.5,247.1L181.0,247.4L181.5,246.7L182.1,246.9L182.6,246.7L183.2,246.2L183.7,246.3L184.2,246.0L184.8,245.3L185.3,245.1L185.8,244.5L186.4,244.0L186.9,244.2L187.4,243.3L188.0,242.5L188.5,242.8L189.0,241.8L189.6,241.5L190.1,241.3L190.6,240.2L191.2,239.8L191.7,239.7L192.3,239.3L192.8,238.4L193.3,238.0L193.9,237.8L194.4,237.1L194.9,236.7L195.5,236.2L196.0,235.4L196.5,235.0L197.1,234.1L197.6,233.7L198.1,233.1L198.7,232.5L199.2,231.6L199.8,230.9L200.3,230.4L200.8,230.1L201.4,229.1L201.9,228.8L202.4,228.1L203.0,227.1L203.5,226.0L204.0,225.3L204.6,224.5L205.1,223.5L205.6,222.7L206.2,222.1L206.7,221.0L207.2,220.3L207.8,219.3L208.3,218.3L208.9,217.5L209.4,216.8L209.9,215.6L210.5,214.6L211.0,213.6L211.5,212.6L212.1,211.8L212.6,210.8L213.1,209.3L213.7,208.2L214.2,207.2L214.7,206.2L215.3,204.7L215.8,203.9L216.3,202.9L216.9,201.6L217.4,200.7L218.0,199.4L218.5,198.4L219.0,197.2L219.6,196.1L220.1,195.1L220.6,193.7L221.2,192.4L221.7,191.7L222.2,190.4L222.8,189.3L223.3,187.6L223.8,186.7L224.4,185.2L224.9,184.4L225.5,182.8L226.0,181.9L226.5,180.7L227.1,179.2L227.6,178.3L228.1,177.1L228.7,175.6L229.2,174.6L229.7,173.1L230.3,171.6L230.8,171.2L231.3,169.9L231.9,169.0L232.4,167.7L232.9,166.1L233.5,165.0L234.0,163.8L234.6,162.5L235.1,161.6L235.6,160.6L236.2,158.7L236.7,157.6L237.2,156.2L237.8,155.2L238.3,153.7L238.8,152.8L239.4,151.4L239.9,150.2L240.4,148.8L241.0,147.3L241.5,146.3L242.0,145.9L242.6,144.1L243.1,142.9L243.7,141.6L244.2,140.6L244.7,139.7L245.3,138.6L245.8,137.5L246.3,136.5L246.9,135.0L247.4,134.2L247.9,133.3L248.5,132.1L249.0,130.9L249.5,130.5L250.1,129.6L250.6,128.7L251.2,128.1L251.7,127.1L252.2,126.4L252.8,125.2L253.3,124.5L253.8,123.6L254.4,123.3L254.9,122.2L255.4,122.0L256.0,121.2L256.5,120.2L257.0,119.7L257.6,119.2L258.1,118.6L258.6,118.4L259.2,118.3L259.7,118.0L260.3,117.8L260.8,117.3L261.3,117.3L261.9,117.1L262.4,117.1L262.9,117.1L263.5,116.1L264.0,116.4L264.5,117.0L265.1,116.4L265.6,116.7L266.1,117.1L266.7,116.7L267.2,116.7L267.7,116.8L268.3,116.9L268.8,117.6L269.4,117.8L269.9,118.0L270.4,118.4L271.0,119.0L271.5,119.6L272.0,120.0L272.6,121.2L273.1,122.1L273.6,122.1L274.2,123.3L274.7,124.0L275.2,125.2L275.8,126.3L276.3,127.3L276.8,128.1L277.4,129.3L277.9,130.3L278.5,131.3L279.0,132.1L279.5,133.2L280.1,134.0L280.6,135.6L281.1,136.5L281.7,137.2L282.2,138.4L282.7,140.0L283.3,140.3L283.8,141.3L284.3,142.3L284.9,143.2L285.4,144.1L286.0,144.6L286.5,145.5L287.0,146.4L287.6,147.0L288.1,147.8L288.6,149.0L289.2,149.8L289.7,150.5L290.2,150.8L290.8,151.7L291.3,152.1L291.8,152.9L292.4,153.6L292.9,154.4L293.4,154.8L294.0,154.7L294.5,155.8L295.1,156.2L295.6,156.4L296.1,156.4L296.7,157.0L297.2,157.5L297.7,157.5L298.3,157.6L298.8,157.7L299.3,157.6L299.9,157.3L300.4,157.6L300.9,157.9L301.5,158.1L302.0,158.3L302.5,158.1L303.1,158.0L303.6,158.3L304.2,158.7L304.7,158.7L305.2,159.2L305.8,159.6L306.3,160.1L306.8,160.6L307.4,161.3L307.9,161.9L308.4,163.1L309.0,164.1L309.5,164.9L310.0,166.3L310.6,167.6L311.1,169.6L311.7,171.0L312.2,172.8L312.7,174.5L313.3,175.8L313.8,177.6L314.3,179.1L314.9,180.6L315.4,182.1L315.9,184.5L316.5,186.1L317.0,188.3L317.5,189.6L318.1,192.1L318.6,194.8L319.1,197.8L319.7,201.6L320.2,204.5L320.8,207.6L321.3,210.4L321.8,213.1L322.4,213.9L322.9,214.1L323.4,215.4L324.0,219.1L324.5,241.3"/>
<path stroke="#004cff" d="M56.8,169.7L57.3,169.0L57.9,168.3L58.4,167.2L58.9,166.3L59.5,165.9L60.0,164.8L60.5,164.2L61.1,163.0L61.6,161.8L62.2,161.1L62.7,160.3L63.2,159.7L63.8,158.8L64.3,158.3L64.8,157.7L65.4,156.6L65.9,155.6L66.4,156.7L67.0,157.3L67.5,158.4L68.0,159.3L68.6,159.9L69.1,161.2L69.6,161.9L70.2,162.2L70.7,163.0L71.3,163.9L71.8,164.3L72.3,166.5L72.9,167.1L73.4,168.7L73.9,171.4L74.5,174.2L75.0,175.8L75.5,179.1L76.1,183.2L76.6,187.2L77.1,190.3L77.7,194.0L78.2,197.7L78.8,201.6L79.3,205.8L79.8,210.8L80.4,214.7L80.9,218.5L81.4,220.4L82.0,223.0L82.5,225.1L83.0,226.5L83.6,227.8L84.1,229.6L84.6,230.3L85.2,231.3L85.7,231.7L86.2,232.2L86.8,232.6L87.3,232.5L87.9,232.3L88.4,232.6L88.9,232.2L89.5,231.6L90.0,231.5L90.5,231.3L91.1,230.6L91.6,230.2L92.1,229.6L92.7,229.9L93.2,229.0L93.7,228.8L94.3,229.6L94.8,230.2L95.3,231.0L95.9,231.7L96.4,231.9L97.0,232.5L97.5,233.0L98.0,233.2L98.6,233.6L99.1,233.4L99.6,233.1L100.2,232.7L100.7,232.5L101.2,231.8L101.8,231.5L102.3,231.6L102.8,231.1L103.4,230.2L103.9,229.8L104.5,228.9L105.0,228.6L105.5,227.7L106.1,227.1L106.6,226.4L107.1,225.6L107.7,224.8L108.2,224.1L108.7,223.5L109.3,222.6L109.8,221.8L110.3,221.2L110.9,220.6L111.4,219.8L111.9,219.1L112.5,218.4L113.0,217.6L113.6,216.3L114.1,216.0L114.6,215.5L115.2,214.8L115.7,214.1L116.2,213.4L116.8,212.9L117.3,213.1L117.8,212.0L118.4,212.4L118.9,211.9L119.4,211.8L120.0,211.8L120.5,211.7L121.0,210.8L121.6,210.9L122.1,211.5L122.7,211.7L123.2,211.2L123.7,211.9L124.3,211.7L124.8,211.5L125.3,212.1L125.9,212.5L126.4,213.5L126.9,214.8L127.5,215.6L128.0,216.9L128.5,217.6L129.1,219.1L129.6,219.9L130.1,221.1L130.7,222.3L131.2,223.2L131.8,224.7L132.3,226.1L132.8,227.1L133.4,228.8L133.9,230.6L134.4,231.5L135.0,233.5L135.5,234.7L136.0,236.1L136.6,237.8L137.1,239.5L137.6,241.0L138.2,242.6L138.7,244.4L139.3,245.5L139.8,247.5L140.3,249.3L140.9,250.5L141.4,252.6L141.9,254.1L142.5,254.8L143.0,255.4L143.5,255.7L144.1,255.4L144.6,256.1L145.1,255.7L145.7,255.8L146.2,255.6L146.7,255.9L147.3,255.9L147.8,255.9L148.4,255.7L148.9,255.6L149.4,255.4L150.0,256.2L150.5,255.5L151.0,255.6L151.6,255.7L152.1,255.9L152.6,255.6L153.2,256.0L153.7,255.3L154.2,255.8L154.8,255.5L155.3,255.5L155.8,255.3L156.4,255.6L156.9,255.0L157.5,255.0L158.0,254.5L158.5,254.7L159.1,254.6L159.6,254.8L160.1,254.2L160.7,253.5L161.2,253.7L161.7,253.5L162.3,253.1L162.8,252.6L163.3,252.9L163.9,251.8L164.4,251.8L165.0,251.5L165.5,251.4L166.0,250.8L166.6,251.1L167.1,250.6L167.6,250.6L168.2,250.8L168.7,250.4L169.2,250.1L169.8,250.2L170.3,250.1L170.8,249.8L171.4,249.9L171.9,249.8L172.4,249.4L173.0,249.5L173.5,249.1L174.1,249.0L174.6,248.8L175.1,248.9L175.7,249.1L176.2,248.9L176.7,249.2L177.3,248.8L177.8,249.0L178.3,248.5L178.9,249.0L179.4,248.8L179.9,249.0L180.5,248.6L181.0,248.5L181.5,248.8L182.1,247.9L182.6,248.0L183.2,248.2L183.7,247.8L184.2,247.7L184.8,247.4L185.3,246.6L185.8,246.7L186.4,245.7L186.9,245.8L187.4,245.1L188.0,244.2L188.5,244.2L189.0,243.7L189.6,242.9L190.1,243.0L190.6,242.4L191.2,242.3L191.7,241.8L192.3,241.3L192.8,240.9L193.3,240.6L193.9,240.0L194.4,239.4L194.9,238.9L195.5,238.5L196.0,238.1L196.5,237.2L197.1,236.5L197.6,236.3L198.1,236.1L198.7,235.0L199.2,234.2L199.8,233.6L200.3,233.5L200.8,232.4L201.4,232.3L201.9,231.2L202.4,230.8L203.0,229.7L203.5,229.1L204.0,228.5L204.6,227.5L205.1,227.0L205.6,226.1L206.2,225.3L206.7,224.5L207.2,223.3L207.8,222.4L208.3,221.8L208.9,221.1L209.4,219.9L209.9,219.0L210.5,218.0L211.0,217.2L211.5,216.3L212.1,214.9L212.6,214.4L213.1,213.3L213.7,212.7L214.2,211.3L214.7,210.4L215.3,209.3L215.8,208.0L216.3,207.3L216.9,206.0L217.4,205.1L218.0,204.1L218.5,203.3L219.0,201.7L219.6,200.6L220.1,199.8L220.6,198.6L221.2,197.8L221.7,196.3L222.2,195.4L222.8,193.9L223.3,192.9L223.8,191.6L224.4,190.7L224.9,189.8L225.5,188.2L226.0,187.2L226.5,185.5L227.1,184.7L227.6,183.3L228.1,182.4L228.7,181.4L229.2,180.6L229.7,179.1L230.3,177.8L230.8,176.8L231.3,175.6L231.9,174.5L232.4,173.7L232.9,172.2L233.5,171.3L234.0,170.0L234.6,168.5L235.1,168.1L235.6,166.6L236.2,165.3L236.7,163.9L237.2,163.0L237.8,162.0L238.3,160.4L238.8,159.3L239.4,158.6L239.9,157.0L240.4,156.3L241.0,155.3L241.5,153.8L242.0,152.7L242.6,151.8L243.1,149.8L243.7,149.4L244.2,148.0L244.7,146.9L245.3,145.5L245.8,145.1L246.3,143.6L246.9,143.3L247.4,142.1L247.9,141.2L248.5,140.4L249.0,139.2L249.5,138.0L250.1,137.1L250.6,136.6L251.2,136.2L251.7,135.3L252.2,134.2L252.8,133.4L253.3,132.7L253.8,132.2L254.4,131.7L254.9,130.7L255.4,130.2L256.0,129.3L256.5,129.2L257.0,128.4L257.6,127.8L258.1,127.2L258.6,126.8L259.2,127.2L259.7,126.9L260.3,126.3L260.8,126.3L261.3,126.5L261.9,125.4L262.4,125.5L262.9,125.3L263.5,125.4L264.0,125.1L264.5,125.2L265.1,125.3L265.6,124.9L266.1,125.6L266.7,125.3L267.2,125.9L267.7,125.4L268.3,126.0L268.8,126.5L269.4,126.9L269.9,126.9L270.4,126.8L271.0,127.6L271.5,128.7L272.0,129.4L272.6,128.9L273.1,130.4L273.6,131.4L274.2,131.8L274.7,132.5L275.2,133.2L275.8,134.5L276.3,135.5L276.8,136.2L277.4,137.5L277.9,138.2L278.5,139.2L279.0,140.0L279.5,141.4L280.1,142.3L280.6,143.1L281.1,144.0L281.7,145.4L282.2,146.2L282.7,146.9L283.3,148.0L283.8,148.2L284.3,149.5L284.9,150.2L285.4,151.3L286.0,152.1L286.5,152.9L287.0,153.5L287.6,154.6L288.1,154.9L288.6,156.1L289.2,156.5L289.7,157.4L290.2,158.2L290.8,158.4L291.3,159.2L291.8,160.1L292.4,160.8L292.9,161.0L293.4,161.9L294.0,162.1L294.5,162.9L295.1,163.1L295.6,163.6L296.1,163.8L296.7,163.6L297.2,163.8L297.7,164.5L298.3,164.6L298.8,165.1L299.3,164.7L299.9,164.6L300.4,165.2L300.9,165.2L301.5,165.0L302.0,165.3L302.5,165.2L303.1,165.0L303.6,165.4L304.2,165.5L304.7,165.5L305.2,166.1L305.8,166.4L306.3,167.0L306.8,167.8L307.4,167.9L307.9,169.4L308.4,169.9L309.0,171.1L309.5,172.1L310.0,173.4L310.6,174.5L311.1,175.9L311.7,177.4L312.2,179.6L312.7,180.5L313.3,182.1L313.8,183.6L314.3,184.9L314.9,186.4L315.4,188.2L315.9,190.1L316.5,191.5L317.0,193.9L317.5,195.5L318.1,197.9L318.6,200.0L319.1,203.4L319.7,206.3L320.2,209.4L320.8,212.0L321.3,214.9L321.8,217.8L322.4,218.5L322.9,218.6L323.4,219.5L324.0,222.8L324.5,243.3"/>
<path stroke="#0066ff" d="M56.8,170.2L57.3,170.0L57.9,169.2L58.4,168.1L58.9,167.6L59.5,166.3L60.0,165.4L60.5,164.8L61.1,163.5L61.6,162.3L62.2,161.6L62.7,161.2L63.2,160.5L63.8,159.6L64.3,159.1L64.8,158.0L65.4,157.4L65.9,156.7L66.4,157.5L67.0,158.0L67.5,159.2L68.0,159.9L68.6,161.3L69.1,161.9L69.6,162.3L70.2,163.0L70.7,163.6L71.3,164.4L71.8,165.1L72.3,166.7L72.9,168.3L73.4,170.2L73.9,172.4L74.5,174.4L75.0,176.5L75.5,180.2L76.1,183.8L76.6,187.2L77.1,190.6L77.7,194.2L78.2,198.1L78.8,202.0L79.3,206.1L79.8,210.7L80.4,214.8L80.9,218.7L81.4,220.4L82.0,222.4L82.5,224.7L83.0,226.3L83.6,227.5L84.1,229.1L84.6,229.7L85.2,230.8L85.7,231.5L86.2,231.5L86.8,231.8L87.3,232.1L87.9,231.8L88.4,232.2L88.9,231.6L89.5,231.3L90.0,231.1L90.5,230.1L91.1,229.2L91.6,229.4L92.1,228.6L92.7,227.8L93.2,228.0L93.7,228.2L94.3,228.9L94.8,229.3L95.3,230.3L95.9,230.5L96.4,231.0L97.0,231.5L97.5,232.2L98.0,232.4L98.6,232.5L99.1,232.7L99.6,232.5L100.2,232.4L100.7,231.6L101.2,231.0L101.8,230.2L102.3,230.2L102.8,229.8L103.4,228.6L103.9,228.0L104.5,227.8L105.0,227.0L105.5,226.5L106.1,225.4L106.6,224.3L107.1,223.7L107.7,223.3L108.2,222.3L108.7,221.7L109.3,220.7L109.8,220.1L110.3,219.0L110.9,218.1L111.4,217.5L111.9,216.7L112.5,215.9L113.0,215.1L113.6,214.7L114.1,213.9L114.6,213.2L115.2,212.2L115.7,211.8L116.2,211.1L116.8,210.8L117.3,210.6L117.8,210.0L118.4,209.5L118.9,209.3L119.4,209.1L120.0,208.8L120.5,208.5L121.0,208.4L121.6,208.6L122.1,208.8L122.7,208.9L123.2,208.0L123.7,209.0L124.3,209.0L124.8,209.3L125.3,210.0L125.9,209.9L126.4,211.0L126.9,212.1L127.5,212.8L128.0,214.3L128.5,215.3L129.1,216.9L129.6,217.9L130.1,218.8L130.7,220.3L131.2,221.8L131.8,223.0L132.3,224.2L132.8,226.2L133.4,227.7L133.9,228.8L134.4,230.5L135.0,232.2L135.5,233.9L136.0,235.4L136.6,237.0L137.1,238.9L137.6,241.1L138.2,242.4L138.7,244.6L139.3,245.7L139.8,248.0L140.3,249.6L140.9,251.5L141.4,253.4L141.9,254.4L142.5,255.7L143.0,255.9L143.5,256.5L144.1,256.7L144.6,256.3L145.1,256.5L145.7,256.7L146.2,256.8L146.7,256.1L147.3,256.2L147.8,256.1L148.4,256.4L148.9,256.5L149.4,256.5L150.0,256.1L150.5,256.3L151.0,256.1L151.6,256.8L152.1,256.0L152.6,256.4L153.2,256.9L153.7,256.5L154.2,256.1L154.8,255.8L155.3,256.7L155.8,256.4L156.4,256.0L156.9,256.2L157.5,255.9L158.0,255.9L158.5,255.4L159.1,255.6L159.6,255.2L160.1,255.1L160.7,254.7L161.2,254.5L161.7,254.0L162.3,253.9L162.8,253.3L163.3,253.8L163.9,253.2L164.4,252.7L165.0,252.6L165.5,253.0L166.0,252.1L166.6,252.1L167.1,251.2L167.6,251.6L168.2,251.3L168.7,251.6L169.2,251.1L169.8,251.7L170.3,251.2L170.8,250.9L171.4,251.1L171.9,250.3L172.4,250.4L173.0,250.0L173.5,250.6L174.1,250.4L174.6,250.0L175.1,250.2L175.7,249.8L176.2,249.8L176.7,250.1L177.3,249.9L177.8,249.7L178.3,249.8L178.9,249.8L179.4,249.9L179.9,249.8L180.5,249.5L181.0,249.2L181.5,249.9L182.1,249.7L182.6,249.4L183.2,248.8L183.7,249.0L184.2,248.0L184.8,247.8L185.3,248.5L185.8,247.5L186.4,247.2L186.9,247.1L187.4,247.1L188.0,246.2L188.5,246.0L189.0,245.2L189.6,245.0L190.1,245.0L190.6,244.0L191.2,243.6L191.7,243.3L192.3,243.3L192.8,242.7L193.3,242.5L193.9,242.2L194.4,242.1L194.9,241.1L195.5,241.1L196.0,239.9L196.5,239.9L197.1,238.9L197.6,238.5L198.1,238.2L198.7,237.6L199.2,237.0L199.8,236.0L200.3,235.7L200.8,235.3L201.4,234.4L201.9,234.3L202.4,233.6L203.0,232.8L203.5,231.6L204.0,231.2L204.6,230.4L205.1,229.6L205.6,229.0L206.2,227.8L206.7,227.1L207.2,226.7L207.8,225.9L208.3,224.8L208.9,224.2L209.4,223.1L209.9,222.1L210.5,221.4L211.0,220.4L211.5,219.7L212.1,218.8L212.6,218.0L213.1,216.5L213.7,216.0L214.2,214.9L214.7,213.9L215.3,212.8L215.8,212.0L216.3,211.3L216.9,209.5L217.4,209.2L218.0,207.8L218.5,207.2L219.0,205.7L219.6,205.1L220.1,203.4L220.6,202.6L221.2,202.1L221.7,200.2L222.2,200.0L222.8,198.5L223.3,197.1L223.8,196.4L224.4,194.9L224.9,194.1L225.5,193.1L226.0,191.6L226.5,190.8L227.1,189.8L227.6,188.3L228.1,187.5L228.7,186.7L229.2,185.5L229.7,183.6L230.3,182.6L230.8,182.4L231.3,180.8L231.9,179.6L232.4,178.9L232.9,177.6L233.5,176.9L234.0,175.7L234.6,174.2L235.1,173.4L235.6,172.3L236.2,171.2L236.7,170.4L237.2,169.2L237.8,167.9L238.3,166.7L238.8,165.8L239.4,164.0L239.9,163.7L240.4,162.5L241.0,161.3L241.5,159.9L242.0,159.3L242.6,157.9L243.1,157.1L243.7,156.1L244.2,154.8L244.7,153.7L245.3,152.7L245.8,152.2L246.3,150.8L246.9,149.8L247.4,149.1L247.9,148.2L248.5,147.4L249.0,146.6L249.5,145.5L250.1,144.5L250.6,144.1L251.2,143.2L251.7,142.3L252.2,142.1L252.8,140.7L253.3,140.3L253.8,139.4L254.4,139.2L254.9,138.7L255.4,137.9L256.0,137.3L256.5,137.1L257.0,136.1L257.6,135.9L258.1,135.8L258.6,135.1L259.2,134.9L259.7,134.6L260.3,134.4L260.8,134.3L261.3,134.2L261.9,133.7L262.4,133.6L262.9,133.4L263.5,133.6L264.0,133.2L264.5,133.1L265.1,133.6L265.6,133.3L266.1,132.9L266.7,133.6L267.2,133.7L267.7,133.8L268.3,134.1L268.8,134.0L269.4,134.5L269.9,134.9L270.4,135.4L271.0,135.6L271.5,136.2L272.0,136.9L272.6,137.5L273.1,137.7L273.6,138.8L274.2,139.5L274.7,140.0L275.2,141.2L275.8,141.8L276.3,143.1L276.8,143.6L277.4,145.2L277.9,145.5L278.5,146.6L279.0,147.6L279.5,148.1L280.1,149.1L280.6,150.0L281.1,150.8L281.7,151.9L282.2,152.8L282.7,153.8L283.3,154.3L283.8,155.3L284.3,156.6L284.9,157.4L285.4,158.2L286.0,159.0L286.5,159.3L287.0,160.3L287.6,160.8L288.1,162.0L288.6,162.7L289.2,163.0L289.7,164.4L290.2,164.9L290.8,165.8L291.3,166.1L291.8,165.9L292.4,167.3L292.9,167.4L293.4,167.8L294.0,168.8L294.5,169.3L295.1,169.4L295.6,169.7L296.1,170.5L296.7,170.6L297.2,170.2L297.7,171.0L298.3,170.9L298.8,170.8L299.3,171.3L299.9,171.3L300.4,171.5L300.9,171.6L301.5,171.6L302.0,172.0L302.5,171.8L303.1,171.8L303.6,171.7L304.2,172.2L304.7,172.4L305.2,172.1L305.8,172.9L306.3,173.4L306.8,174.0L307.4,174.6L307.9,175.5L308.4,176.3L309.0,177.2L309.5,178.3L310.0,179.3L310.6,180.7L311.1,181.5L311.7,183.8L312.2,184.5L312.7,186.2L313.3,187.4L313.8,188.6L314.3,190.8L314.9,191.5L315.4,193.4L315.9,195.5L316.5,197.3L317.0,198.9L317.5,201.0L318.1,202.2L318.6,205.1L319.1,207.7L319.7,210.8L320.2,213.6L320.8,216.2L321.3,219.0L321.8,221.1L322.4,222.1L322.9,222.3L323.4,223.3L324.0,226.5L324.5,245.8"/>
<path stroke="#0088ff" d="M56.8,172.0L57.3,171.6L57.9,170.8L58.4,169.8L58.9,169.0L59.5,168.0L60.0,166.7L60.5,165.7L61.1,164.8L61.6,164.1L62.2,162.8L62.7,162.3L63.2,161.4L63.8,160.9L64.3,160.2L64.8,159.3L65.4,158.7L65.9,157.9L66.4,158.4L67.0,159.2L67.5,159.8L68.0,161.0L68.6,162.2L69.1,162.6L69.6,163.1L70.2,164.4L70.7,165.0L71.3,165.4L71.8,166.3L72.3,168.1L72.9,169.0L73.4,171.1L73.9,173.3L74.5,175.4L75.0,178.1L75.5,181.5L76.1,184.6L76.6,187.9L77.1,191.2L77.7,194.6L78.2,198.4L78.8,202.2L79.3,206.5L79.8,210.7L80.4,214.6L80.9,218.8L81.4,220.9L82.0,222.6L82.5,224.4L83.0,226.1L83.6,227.5L84.1,228.0L84.6,229.5L85.2,229.9L85.7,231.0L86.2,231.2L86.8,231.5L87.3,231.4L87.9,231.7L88.4,230.8L88.9,230.7L89.5,230.2L90.0,230.1L90.5,229.0L91.1,229.1L91.6,227.6L92.1,227.5L92.7,227.1L93.2,227.0L93.7,226.8L94.3,227.9L94.8,228.6L95.3,229.3L95.9,229.5L96.4,230.0L97.0,230.8L97.5,231.0L98.0,231.1L98.6,231.5L99.1,231.5L99.6,231.5L100.2,230.5L100.7,230.2L101.2,230.1L101.8,229.4L102.3,229.3L102.8,228.0L103.4,227.8L103.9,226.9L104.5,225.8L105.0,225.7L105.5,224.4L106.1,223.8L106.6,223.1L107.1,221.8L107.7,221.2L108.2,220.6L108.7,219.5L109.3,218.9L109.8,218.1L110.3,217.1L110.9,216.0L111.4,215.7L111.9,214.8L112.5,213.5L113.0,213.3L113.6,212.2L114.1,211.5L114.6,210.9L115.2,210.1L115.7,209.2L116.2,208.6L116.8,207.9L117.3,207.5L117.8,207.0L118.4,206.8L118.9,206.6L119.4,206.0L120.0,205.8L120.5,205.6L121.0,205.8L121.6,205.8L122.1,205.8L122.7,206.3L123.2,205.9L123.7,206.4L124.3,206.6L124.8,206.7L125.3,206.4L125.9,207.7L126.4,208.0L126.9,209.8L127.5,210.5L128.0,211.3L128.5,213.0L129.1,214.2L129.6,215.8L130.1,217.3L130.7,218.0L131.2,219.3L131.8,220.8L132.3,222.1L132.8,224.2L133.4,225.7L133.9,228.1L134.4,229.4L135.0,231.0L135.5,232.6L136.0,234.2L136.6,236.1L137.1,238.3L137.6,240.3L138.2,242.2L138.7,244.2L139.3,246.0L139.8,247.7L140.3,250.1L140.9,252.4L141.4,254.0L141.9,254.6L142.5,256.0L143.0,257.1L143.5,257.4L144.1,257.3L144.6,257.4L145.1,257.4L145.7,257.8L146.2,257.5L146.7,257.0L147.3,256.8L147.8,256.8L148.4,256.5L148.9,256.9L149.4,256.8L150.0,256.9L150.5,256.6L151.0,257.0L151.6,256.4L152.1,257.1L152.6,256.7L153.2,256.7L153.7,256.5L154.2,257.1L154.8,257.0L155.3,256.9L155.8,256.6L156.4,256.5L156.9,257.2L157.5,256.6L158.0,256.3L158.5,256.1L159.1,255.9L159.6,255.9L160.1,255.6L160.7,255.9L161.2,255.0L161.7,255.6L162.3,254.8L162.8,254.7L163.3,254.2L163.9,254.2L164.4,253.5L165.0,253.4L165.5,253.1L166.0,252.8L166.6,252.6L167.1,252.8L167.6,252.4L168.2,252.3L168.7,252.1L169.2,252.2L169.8,252.7L170.3,252.0L170.8,251.8L171.4,251.8L171.9,251.7L172.4,251.4L173.0,251.5L173.5,251.1L174.1,250.9L174.6,251.1L175.1,250.9L175.7,251.3L176.2,251.2L176.7,251.0L177.3,251.1L177.8,250.8L178.3,250.8L178.9,250.4L179.4,250.9L179.9,250.5L180.5,251.0L181.0,250.8L181.5,250.5L182.1,250.5L182.6,251.0L183.2,250.3L183.7,249.9L184.2,250.2L184.8,249.7L185.3,249.4L185.8,249.0L186.4,248.5L186.9,248.8L187.4,248.3L188.0,247.4L188.5,247.2L189.0,246.8L189.6,246.8L190.1,246.3L190.6,246.7L191.2,245.7L191.7,245.7L192.3,245.4L192.8,245.0L193.3,244.1L193.9,243.6L194.4,243.7L194.9,243.2L195.5,242.3L196.0,242.3L196.5,241.5L197.1,240.9L197.6,240.3L198.1,240.1L198.7,240.2L199.2,239.1L199.8,238.4L200.3,238.2L200.8,237.7L201.4,237.2L201.9,236.3L202.4,235.7L203.0,234.9L203.5,234.3L204.0,233.3L204.6,232.8L205.1,232.2L205.6,231.7L206.2,230.8L206.7,230.0L207.2,228.9L207.8,228.3L208.3,227.7L208.9,226.6L209.4,225.9L209.9,225.3L210.5,224.2L211.0,223.7L211.5,222.6L212.1,221.3L212.6,220.6L213.1,219.8L213.7,218.9L214.2,218.0L214.7,217.5L215.3,216.4L215.8,215.5L216.3,214.3L216.9,213.3L217.4,212.1L218.0,211.6L218.5,210.8L219.0,209.5L219.6,208.6L220.1,207.6L220.6,206.6L221.2,205.5L221.7,204.7L222.2,203.5L222.8,202.3L223.3,201.4L223.8,200.3L224.4,199.5L224.9,198.1L225.5,197.3L226.0,196.4L226.5,195.2L227.1,194.2L227.6,193.1L228.1,192.1L228.7,190.6L229.2,189.7L229.7,188.8L230.3,187.8L230.8,186.9L231.3,185.6L231.9,184.8L232.4,183.8L232.9,182.9L233.5,181.4L234.0,180.4L234.6,179.4L235.1,178.3L235.6,178.0L236.2,176.4L236.7,175.2L237.2,174.2L237.8,173.6L238.3,172.1L238.8,171.0L239.4,170.2L239.9,169.3L240.4,168.1L241.0,167.6L241.5,165.9L242.0,165.1L242.6,164.0L243.1,163.0L243.7,162.0L244.2,160.6L244.7,160.3L245.3,159.2L245.8,158.7L246.3,157.5L246.9,156.9L247.4,155.4L247.9,154.7L248.5,154.0L249.0,152.9L249.5,152.5L250.1,151.5L250.6,150.9L251.2,150.2L251.7,149.3L252.2,148.7L252.8,147.9L253.3,147.5L253.8,147.0L254.4,145.7L254.9,145.4L255.4,145.0L256.0,144.3L256.5,144.1L257.0,143.4L257.6,143.4L258.1,142.6L258.6,142.3L259.2,142.0L259.7,141.6L260.3,141.5L260.8,140.9L261.3,141.0L261.9,141.3L262.4,141.1L262.9,140.4L263.5,140.8L264.0,140.5L264.5,140.7L265.1,140.3L265.6,140.4L266.1,140.5L266.7,140.8L267.2,140.9L267.7,140.7L268.3,141.3L268.8,141.9L269.4,141.4L269.9,141.8L270.4,142.7L271.0,142.8L271.5,143.2L272.0,143.8L272.6,144.1L273.1,144.8L273.6,145.9L274.2,146.5L274.7,147.0L275.2,147.8L275.8,148.9L276.3,149.4L276.8,150.7L277.4,151.1L277.9,152.6L278.5,153.0L279.0,153.5L279.5,154.5L280.1,155.9L280.6,157.3L281.1,157.4L281.7,158.1L282.2,159.2L282.7,160.0L283.3,161.2L283.8,161.8L284.3,162.8L284.9,163.6L285.4,164.2L286.0,164.5L286.5,165.5L287.0,166.5L287.6,167.1L288.1,168.0L288.6,168.6L289.2,169.1L289.7,170.2L290.2,170.4L290.8,171.3L291.3,171.5L291.8,172.6L292.4,172.9L292.9,173.7L293.4,173.9L294.0,174.9L294.5,175.0L295.1,175.5L295.6,176.0L296.1,176.0L296.7,176.2L297.2,176.5L297.7,176.8L298.3,176.9L298.8,177.0L299.3,176.7L299.9,176.9L300.4,176.8L300.9,177.0L301.5,176.9L302.0,177.3L302.5,177.4L303.1,177.5L303.6,177.8L304.2,177.7L304.7,178.0L305.2,178.2L305.8,178.6L306.3,178.9L306.8,179.9L307.4,180.1L307.9,180.9L308.4,181.9L309.0,182.7L309.5,183.4L310.0,184.4L310.6,185.8L311.1,187.0L311.7,188.7L312.2,189.8L312.7,191.1L313.3,192.5L313.8,194.0L314.3,195.6L314.9,196.5L315.4,198.5L315.9,199.9L316.5,201.8L317.0,203.2L317.5,205.2L318.1,207.1L318.6,209.9L319.1,212.0L319.7,214.9L320.2,217.6L320.8,220.0L321.3,222.1L321.8,224.9L322.4,225.4L322.9,226.1L323.4,227.0L324.0,229.9L324.5,248.0"/>
<path stroke="#00bbff" d="M56.8,173.7L57.3,173.1L57.9,171.7L58.4,171.4L58.9,170.4L59.5,169.4L60.0,168.5L60.5,167.3L61.1,166.3L61.6,164.9L62.2,164.2L62.7,163.3L63.2,162.6L63.8,162.0L64.3,161.3L64.8,160.0L65.4,160.2L65.9,158.9L66.4,159.6L67.0,160.2L67.5,161.1L68.0,161.9L68.6,162.9L69.1,163.7L69.6,164.6L70.2,165.1L70.7,165.6L71.3,166.9L71.8,167.5L72.3,169.3L72.9,170.3L73.4,172.5L73.9,174.4L74.5,177.0L75.0,179.0L75.5,182.5L76.1,185.6L76.6,188.8L77.1,191.3L77.7,195.3L78.2,198.9L78.8,202.4L79.3,206.4L79.8,211.0L80.4,214.8L80.9,218.6L81.4,220.4L82.0,222.3L82.5,224.4L83.0,225.5L83.6,226.2L84.1,227.4L84.6,228.8L85.2,229.4L85.7,229.9L86.2,230.5L86.8,231.1L87.3,230.3L87.9,230.5L88.4,230.0L88.9,229.6L89.5,229.1L90.0,228.6L90.5,227.6L91.1,227.3L91.6,226.4L92.1,225.8L92.7,225.0L93.2,225.1L93.7,225.9L94.3,225.6L94.8,226.3L95.3,227.3L95.9,228.4L96.4,228.3L97.0,229.0L97.5,229.8L98.0,230.1L98.6,229.9L99.1,230.2L99.6,229.8L100.2,229.4L100.7,228.6L101.2,228.2L101.8,227.2L102.3,226.8L102.8,225.6L103.4,225.5L103.9,224.6L104.5,223.6L105.0,222.7L105.5,222.4L106.1,221.1L106.6,220.1L107.1,219.1L107.7,218.4L108.2,217.1L108.7,216.2L109.3,215.7L109.8,214.9L110.3,213.7L110.9,212.6L111.4,211.5L111.9,211.1L112.5,210.1L113.0,209.6L113.6,208.5L114.1,207.2L114.6,206.1L115.2,205.6L115.7,205.0L116.2,204.3L116.8,203.2L117.3,202.9L117.8,202.7L118.4,202.5L118.9,202.1L119.4,201.6L120.0,201.0L120.5,201.3L121.0,201.2L121.6,201.1L122.1,201.3L122.7,201.1L123.2,201.7L123.7,201.6L124.3,202.0L124.8,201.9L125.3,202.4L125.9,203.3L126.4,204.1L126.9,205.1L127.5,206.0L128.0,207.6L128.5,209.1L129.1,210.9L129.6,212.4L130.1,213.8L130.7,215.0L131.2,216.3L131.8,218.1L132.3,219.5L132.8,221.8L133.4,223.5L133.9,225.4L134.4,227.4L135.0,229.7L135.5,231.5L136.0,233.1L136.6,235.8L137.1,237.3L137.6,239.4L138.2,241.8L138.7,243.8L139.3,246.0L139.8,248.1L140.3,249.9L140.9,252.1L141.4,254.0L141.9,255.8L142.5,257.1L143.0,257.6L143.5,258.3L144.1,258.3L144.6,258.1L145.1,258.5L145.7,257.9L146.2,257.8L146.7,257.6L147.3,257.5L147.8,257.4L148.4,256.8L148.9,257.7L149.4,257.5L150.0,257.7L150.5,257.2L151.0,257.1L151.6,256.9L152.1,257.5L152.6,257.2L153.2,257.5L153.7,257.4L154.2,257.2L154.8,257.7L155.3,257.4L155.8,257.4L156.4,257.1L156.9,257.0L157.5,257.4L158.0,256.9L158.5,257.1L159.1,257.1L159.6,256.7L160.1,256.4L160.7,256.3L161.2,256.1L161.7,255.3L162.3,255.4L162.8,254.9L163.3,254.6L163.9,254.6L164.4,253.8L165.0,254.1L165.5,253.9L166.0,253.9L166.6,253.7L167.1,253.3L167.6,253.3L168.2,253.1L168.7,253.0L169.2,253.2L169.8,253.0L170.3,252.8L170.8,252.7L171.4,252.7L171.9,252.3L172.4,252.4L173.0,251.9L173.5,252.2L174.1,251.9L174.6,252.3L175.1,251.9L175.7,251.5L176.2,251.7L176.7,251.5L177.3,251.6L177.8,251.6L178.3,251.4L178.9,251.4L179.4,251.4L179.9,251.6L180.5,251.6L181.0,252.1L181.5,251.4L182.1,251.5L182.6,251.3L183.2,250.8L183.7,250.7L184.2,250.5L184.8,250.5L185.3,250.0L185.8,249.8L186.4,249.5L186.9,249.3L187.4,248.5L188.0,248.8L188.5,248.2L189.0,247.9L189.6,247.4L190.1,247.2L190.6,247.1L191.2,246.6L191.7,246.0L192.3,245.7L192.8,245.7L193.3,245.2L193.9,244.9L194.4,244.1L194.9,244.1L195.5,243.2L196.0,242.7L196.5,242.6L197.1,241.5L197.6,241.6L198.1,241.1L198.7,240.4L199.2,240.2L199.8,239.6L200.3,239.4L200.8,238.7L201.4,238.1L201.9,237.8L202.4,236.7L203.0,236.0L203.5,235.5L204.0,234.6L204.6,234.0L205.1,233.6L205.6,232.6L206.2,231.9L206.7,231.4L207.2,230.4L207.8,230.0L208.3,229.6L208.9,228.1L209.4,227.3L209.9,226.1L210.5,225.8L211.0,224.7L211.5,224.3L212.1,223.5L212.6,222.4L213.1,221.4L213.7,220.6L214.2,219.4L214.7,218.5L215.3,218.2L215.8,217.1L216.3,215.7L216.9,214.8L217.4,214.5L218.0,213.4L218.5,211.9L219.0,211.6L219.6,210.1L220.1,209.9L220.6,208.5L221.2,207.7L221.7,206.4L222.2,205.1L222.8,204.3L223.3,203.2L223.8,202.1L224.4,201.0L224.9,200.2L225.5,199.7L226.0,198.6L226.5,197.0L227.1,196.0L227.6,194.9L228.1,194.2L228.7,193.2L229.2,192.5L229.7,191.4L230.3,190.1L230.8,189.2L231.3,188.5L231.9,186.8L232.4,186.1L232.9,185.0L233.5,184.0L234.0,183.1L234.6,182.3L235.1,180.8L235.6,180.1L236.2,179.2L236.7,177.6L237.2,176.9L237.8,175.7L238.3,175.2L238.8,173.4L239.4,172.9L239.9,172.0L240.4,170.8L241.0,169.9L241.5,168.9L242.0,167.6L242.6,166.4L243.1,165.8L243.7,164.8L244.2,163.9L244.7,162.9L245.3,162.4L245.8,160.8L246.3,160.6L246.9,159.6L247.4,158.1L247.9,157.8L248.5,157.2L249.0,156.1L249.5,154.8L250.1,154.6L250.6,154.1L251.2,153.1L251.7,152.4L252.2,151.9L252.8,151.0L253.3,151.0L253.8,149.7L254.4,149.2L254.9,148.7L255.4,148.3L256.0,147.4L256.5,147.1L257.0,146.5L257.6,146.5L258.1,145.9L258.6,145.3L259.2,145.1L259.7,145.4L260.3,144.9L260.8,144.9L261.3,144.6L261.9,144.4L262.4,143.9L262.9,143.8L263.5,144.1L264.0,143.8L264.5,144.2L265.1,144.3L265.6,144.5L266.1,144.3L266.7,143.7L267.2,144.2L267.7,144.3L268.3,144.4L268.8,145.3L269.4,145.2L269.9,145.5L270.4,145.5L271.0,146.2L271.5,147.1L272.0,147.6L272.6,147.7L273.1,148.4L273.6,149.4L274.2,150.1L274.7,150.5L275.2,151.6L275.8,152.0L276.3,152.9L276.8,153.7L277.4,154.0L277.9,155.5L278.5,156.5L279.0,157.2L279.5,158.5L280.1,158.6L280.6,159.5L281.1,160.5L281.7,161.3L282.2,162.2L282.7,163.3L283.3,163.8L283.8,164.6L284.3,165.2L284.9,166.1L285.4,166.7L286.0,167.5L286.5,168.9L287.0,169.3L287.6,169.7L288.1,170.7L288.6,171.3L289.2,171.8L289.7,172.9L290.2,173.2L290.8,173.6L291.3,174.5L291.8,175.3L292.4,175.7L292.9,176.3L293.4,177.0L294.0,177.1L294.5,177.6L295.1,178.4L295.6,178.1L296.1,178.9L296.7,178.9L297.2,179.0L297.7,179.3L298.3,179.8L298.8,180.1L299.3,179.8L299.9,179.7L300.4,180.2L300.9,180.0L301.5,179.7L302.0,180.3L302.5,179.3L303.1,180.2L303.6,180.7L304.2,180.5L304.7,180.9L305.2,180.8L305.8,181.7L306.3,181.7L306.8,182.6L307.4,182.8L307.9,183.3L308.4,184.4L309.0,184.9L309.5,186.2L310.0,186.9L310.6,188.5L311.1,189.8L311.7,191.2L312.2,192.9L312.7,194.0L313.3,195.2L313.8,195.9L314.3,197.6L314.9,199.4L315.4,200.9L315.9,202.3L316.5,204.3L317.0,205.8L317.5,207.6L318.1,209.5L318.6,211.3L319.1,214.6L319.7,216.3L320.2,219.5L320.8,222.1L321.3,224.1L321.8,226.4L322.4,227.0L322.9,227.6L323.4,228.9L324.0,231.8L324.5,248.9"/>
<path stroke="#00ffea" d="M56.8,182.7L57.3,181.5L57.9,180.4L58.4,179.2L58.9,178.8L59.5,177.2L60.0,175.6L60.5,174.7L61.1,173.4L61.6,172.3L62.2,170.9L62.7,170.3L63.2,169.8L63.8,168.4L64.3,167.5L64.8,167.0L65.4,166.4L65.9,165.1L66.4,166.0L67.0,166.2L67.5,167.2L68.0,168.3L68.6,168.9L69.1,169.2L69.6,170.3L70.2,171.4L70.7,172.1L71.3,173.2L71.8,173.6L72.3,175.7L72.9,176.8L73.4,178.5L73.9,180.6L74.5,183.0L75.0,185.1L75.5,187.7L76.1,190.2L76.6,192.8L77.1,195.4L77.7,198.5L78.2,201.7L78.8,205.0L79.3,208.0L79.8,211.9L80.4,215.7L80.9,218.8L81.4,221.1L82.0,222.7L82.5,224.0L83.0,225.0L83.6,226.6L84.1,227.3L84.6,227.8L85.2,229.0L85.7,229.0L86.2,229.1L86.8,229.6L87.3,229.8L87.9,229.5L88.4,229.3L88.9,228.6L89.5,227.8L90.0,227.3L90.5,227.5L91.1,226.3L91.6,225.3L92.1,224.7L92.7,224.7L93.2,223.8L93.7,224.0L94.3,224.7L94.8,225.5L95.3,226.1L95.9,227.3L96.4,227.5L97.0,227.9L97.5,227.7L98.0,229.0L98.6,228.8L99.1,228.5L99.6,228.4L100.2,227.9L100.7,227.1L101.2,227.1L101.8,225.9L102.3,225.4L102.8,224.2L103.4,223.7L103.9,222.9L104.5,222.0L105.0,221.5L105.5,220.0L106.1,219.6L106.6,218.2L107.1,217.3L107.7,216.0L108.2,215.3L108.7,214.5L109.3,213.1L109.8,211.8L110.3,211.5L110.9,209.9L111.4,209.3L111.9,208.3L112.5,207.3L113.0,206.6L113.6,205.1L114.1,204.4L114.6,203.5L115.2,203.1L115.7,201.8L116.2,201.5L116.8,200.3L117.3,200.5L117.8,199.5L118.4,199.6L118.9,199.1L119.4,198.4L120.0,198.0L120.5,197.7L121.0,198.0L121.6,198.1L122.1,197.8L122.7,198.4L123.2,198.5L123.7,198.3L124.3,198.6L124.8,198.9L125.3,199.0L125.9,200.4L126.4,200.8L126.9,201.6L127.5,203.5L128.0,205.2L128.5,206.1L129.1,207.9L129.6,209.2L130.1,210.8L130.7,212.6L131.2,214.2L131.8,216.2L132.3,217.1L132.8,219.9L133.4,221.7L133.9,223.7L134.4,225.4L135.0,227.2L135.5,229.7L136.0,231.5L136.6,233.5L137.1,235.3L137.6,237.9L138.2,239.9L138.7,241.7L139.3,244.5L139.8,246.4L140.3,248.6L140.9,251.1L141.4,253.0L141.9,254.7L142.5,255.9L143.0,256.9L143.5,257.8L144.1,258.3L144.6,258.1L145.1,258.9L145.7,258.8L146.2,259.0L146.7,259.2L147.3,258.8L147.8,259.3L148.4,259.2L148.9,258.9L149.4,258.9L150.0,259.7L150.5,259.7L151.0,259.7L151.6,259.9L152.1,259.4L152.6,259.5L153.2,259.7L153.7,260.1L154.2,259.8L154.8,259.9L155.3,260.0L155.8,259.9L156.4,259.7L156.9,260.0L157.5,260.0L158.0,260.1L158.5,259.4L159.1,259.5L159.6,260.1L160.1,259.3L160.7,259.0L161.2,259.4L161.7,259.2L162.3,258.5L162.8,258.6L163.3,258.7L163.9,258.2L164.4,257.9L165.0,258.0L165.5,257.9L166.0,257.5L166.6,257.4L167.1,256.8L167.6,256.9L168.2,257.0L168.7,257.1L169.2,257.0L169.8,257.3L170.3,256.7L170.8,256.7L171.4,256.6L171.9,256.2L172.4,256.0L173.0,256.6L173.5,256.0L174.1,255.9L174.6,256.1L175.1,256.0L175.7,255.4L176.2,255.6L176.7,255.2L177.3,255.8L177.8,255.8L178.3,255.5L178.9,255.2L179.4,255.0L179.9,254.8L180.5,255.5L181.0,255.8L181.5,255.2L182.1,255.2L182.6,255.3L183.2,255.0L183.7,255.4L184.2,255.5L184.8,254.5L185.3,254.8L185.8,254.8L186.4,254.4L186.9,253.9L187.4,254.2L188.0,253.7L188.5,253.9L189.0,253.3L189.6,253.5L190.1,253.1L190.6,253.1L191.2,252.7L191.7,252.5L192.3,252.3L192.8,251.9L193.3,251.5L193.9,251.4L194.4,251.2L194.9,250.7L195.5,250.1L196.0,250.1L196.5,249.9L197.1,249.6L197.6,249.0L198.1,248.3L198.7,248.5L199.2,247.7L199.8,247.6L200.3,247.4L200.8,246.9L201.4,246.1L201.9,245.9L202.4,244.9L203.0,244.2L203.5,244.3L204.0,243.8L204.6,243.4L205.1,242.3L205.6,242.0L206.2,241.4L206.7,240.8L207.2,239.7L207.8,239.2L208.3,238.6L208.9,238.5L209.4,237.7L209.9,236.8L210.5,236.2L211.0,235.4L211.5,234.4L212.1,234.0L212.6,233.2L213.1,232.7L213.7,232.1L214.2,231.4L214.7,230.6L215.3,230.2L215.8,229.2L216.3,228.3L216.9,227.7L217.4,226.8L218.0,226.5L218.5,225.4L219.0,224.5L219.6,223.4L220.1,222.9L220.6,222.2L221.2,221.4L221.7,220.5L222.2,219.8L222.8,218.7L223.3,218.1L223.8,217.0L224.4,216.4L224.9,215.7L225.5,214.9L226.0,213.4L226.5,212.9L227.1,212.0L227.6,210.5L228.1,210.5L228.7,209.3L229.2,208.8L229.7,207.8L230.3,206.7L230.8,206.0L231.3,204.7L231.9,204.5L232.4,203.6L232.9,202.9L233.5,201.8L234.0,201.1L234.6,200.1L235.1,199.5L235.6,198.3L236.2,197.7L236.7,196.7L237.2,196.0L237.8,195.3L238.3,194.3L238.8,193.4L239.4,192.5L239.9,192.3L240.4,190.7L241.0,190.2L241.5,189.3L242.0,188.5L242.6,188.2L243.1,186.9L243.7,186.2L244.2,185.7L244.7,184.6L245.3,184.1L245.8,183.6L246.3,182.4L246.9,181.7L247.4,181.1L247.9,180.6L248.5,179.5L249.0,179.3L249.5,178.5L250.1,178.0L250.6,177.4L251.2,176.6L251.7,176.4L252.2,175.5L252.8,175.0L253.3,174.6L253.8,174.2L254.4,173.9L254.9,173.2L255.4,172.4L256.0,172.6L256.5,172.3L257.0,171.9L257.6,171.4L258.1,171.1L258.6,170.8L259.2,170.7L259.7,170.8L260.3,170.1L260.8,170.2L261.3,169.9L261.9,169.9L262.4,169.8L262.9,169.6L263.5,169.7L264.0,169.2L264.5,169.3L265.1,169.4L265.6,169.7L266.1,169.5L266.7,169.7L267.2,169.7L267.7,170.0L268.3,170.4L268.8,170.6L269.4,170.6L269.9,170.7L270.4,171.2L271.0,171.7L271.5,172.0L272.0,172.2L272.6,172.9L273.1,173.4L273.6,173.8L274.2,174.2L274.7,175.2L275.2,175.6L275.8,176.1L276.3,176.8L276.8,177.3L277.4,177.8L277.9,178.9L278.5,178.8L279.0,179.9L279.5,180.4L280.1,181.2L280.6,182.5L281.1,183.1L281.7,183.4L282.2,184.1L282.7,184.7L283.3,186.0L283.8,186.4L284.3,186.8L284.9,187.3L285.4,188.1L286.0,189.2L286.5,189.7L287.0,190.3L287.6,191.0L288.1,191.3L288.6,191.9L289.2,192.5L289.7,193.7L290.2,194.3L290.8,195.0L291.3,195.3L291.8,195.7L292.4,196.6L292.9,196.7L293.4,197.2L294.0,197.7L294.5,198.0L295.1,198.7L295.6,199.0L296.1,198.7L296.7,199.4L297.2,199.3L297.7,199.8L298.3,200.4L298.8,199.8L299.3,200.4L299.9,200.4L300.4,200.1L300.9,200.7L301.5,200.5L302.0,200.2L302.5,200.1L303.1,200.9L303.6,200.8L304.2,201.1L304.7,200.9L305.2,201.5L305.8,201.4L306.3,202.3L306.8,202.2L307.4,202.5L307.9,203.3L308.4,204.0L309.0,204.8L309.5,205.7L310.0,205.9L310.6,206.9L311.1,208.1L311.7,209.6L312.2,210.6L312.7,211.4L313.3,212.1L313.8,213.2L314.3,214.5L314.9,216.3L315.4,217.8L315.9,218.7L316.5,220.1L317.0,221.4L317.5,223.4L318.1,224.6L318.6,226.8L319.1,228.8L319.7,231.2L320.2,233.2L320.8,235.3L321.3,237.2L321.8,239.5L322.4,240.3L322.9,240.8L323.4,242.3L324.0,244.7L324.5,256.9"/>
<path stroke="#00ffbf" d="M56.8,183.5L57.3,182.0L57.9,181.3L58.4,179.6L58.9,179.2L59.5,177.8L60.0,176.2L60.5,175.6L61.1,173.9L61.6,172.4L62.2,171.6L62.7,170.2L63.2,169.3L63.8,168.8L64.3,168.0L64.8,167.0L65.4,166.1L65.9,165.5L66.4,166.2L67.0,166.3L67.5,167.4L68.0,168.3L68.6,169.3L69.1,170.6L69.6,170.7L70.2,171.5L70.7,172.4L71.3,173.3L71.8,174.0L72.3,175.7L72.9,177.3L73.4,179.1L73.9,181.3L74.5,183.3L75.0,185.6L75.5,187.7L76.1,190.5L76.6,193.1L77.1,195.1L77.7,198.5L78.2,202.1L78.8,205.2L79.3,208.3L79.8,212.2L80.4,215.6L80.9,219.0L81.4,220.7L82.0,222.2L82.5,223.6L83.0,225.4L83.6,226.3L84.1,227.1L84.6,227.6L85.2,228.3L85.7,228.4L86.2,228.9L86.8,229.0L87.3,229.4L87.9,229.1L88.4,228.4L88.9,228.4L89.5,227.7L90.0,226.7L90.5,226.0L91.1,226.1L91.6,224.8L92.1,224.3L92.7,224.0L93.2,223.5L93.7,223.5L94.3,224.0L94.8,224.9L95.3,225.5L95.9,226.6L96.4,227.0L97.0,227.2L97.5,227.8L98.0,228.6L98.6,228.8L99.1,228.4L99.6,228.0L100.2,227.5L100.7,226.9L101.2,226.1L101.8,225.5L102.3,224.7L102.8,224.1L103.4,223.4L103.9,222.2L104.5,221.5L105.0,220.6L105.5,219.2L106.1,218.3L106.6,216.9L107.1,215.9L107.7,215.4L108.2,214.4L108.7,213.4L109.3,212.6L109.8,210.8L110.3,210.0L110.9,209.2L111.4,207.6L111.9,206.9L112.5,205.9L113.0,205.2L113.6,204.8L114.1,203.1L114.6,202.5L115.2,201.8L115.7,200.5L116.2,199.7L116.8,199.4L117.3,198.7L117.8,198.1L118.4,197.8L118.9,197.5L119.4,196.6L120.0,196.8L120.5,196.2L121.0,196.5L121.6,196.5L122.1,196.2L122.7,196.8L123.2,196.7L123.7,196.9L124.3,196.9L124.8,197.4L125.3,198.2L125.9,199.0L126.4,200.0L126.9,201.0L127.5,202.2L128.0,203.7L128.5,205.3L129.1,206.8L129.6,208.6L130.1,209.9L130.7,211.5L131.2,212.7L131.8,215.0L132.3,216.9L132.8,218.9L133.4,221.0L133.9,222.6L134.4,225.1L135.0,226.5L135.5,229.4L136.0,231.1L136.6,232.9L137.1,235.1L137.6,237.2L138.2,239.9L138.7,241.4L139.3,243.6L139.8,245.6L140.3,248.2L140.9,250.5L141.4,253.0L141.9,254.4L142.5,256.2L143.0,256.9L143.5,257.2L144.1,258.2L144.6,258.3L145.1,258.7L145.7,258.9L146.2,259.4L146.7,259.1L147.3,259.0L147.8,258.9L148.4,259.0L148.9,259.5L149.4,259.4L150.0,259.8L150.5,260.0L151.0,260.0L151.6,259.8L152.1,259.9L152.6,260.6L153.2,260.1L153.7,260.4L154.2,260.2L154.8,260.4L155.3,260.8L155.8,260.8L156.4,260.5L156.9,260.5L157.5,260.4L158.0,260.6L158.5,259.9L159.1,260.7L159.6,259.7L160.1,259.9L160.7,259.9L161.2,259.2L161.7,259.5L162.3,259.2L162.8,259.2L163.3,258.8L163.9,258.6L164.4,258.2L165.0,258.1L165.5,258.3L166.0,258.3L166.6,258.1L167.1,258.0L167.6,257.9L168.2,257.8L168.7,257.5L169.2,257.5L169.8,257.6L170.3,257.3L170.8,257.8L171.4,257.2L171.9,257.6L172.4,257.0L173.0,256.7L173.5,256.7L174.1,256.9L174.6,256.6L175.1,256.6L175.7,256.6L176.2,256.3L176.7,256.5L177.3,256.4L177.8,256.4L178.3,256.0L178.9,256.2L179.4,256.3L179.9,255.8L180.5,256.2L181.0,256.3L181.5,255.9L182.1,256.1L182.6,256.0L183.2,256.0L183.7,255.5L184.2,255.4L184.8,255.2L185.3,255.4L185.8,254.6L186.4,255.1L186.9,255.0L187.4,254.6L188.0,254.8L188.5,254.4L189.0,254.1L189.6,253.7L190.1,253.2L190.6,253.2L191.2,253.1L191.7,252.7L192.3,252.7L192.8,251.8L193.3,251.8L193.9,251.5L194.4,251.4L194.9,251.2L195.5,250.9L196.0,250.5L196.5,250.1L197.1,249.4L197.6,249.4L198.1,248.8L198.7,248.3L199.2,248.1L199.8,247.6L200.3,248.0L200.8,247.0L201.4,246.7L201.9,245.8L202.4,245.4L203.0,245.0L203.5,244.3L204.0,243.7L204.6,242.8L205.1,242.8L205.6,242.0L206.2,241.6L206.7,240.8L207.2,240.2L207.8,239.6L208.3,239.1L208.9,238.1L209.4,237.5L209.9,237.0L210.5,236.6L211.0,235.7L211.5,235.1L212.1,234.2L212.6,233.6L213.1,233.2L213.7,232.2L214.2,231.2L214.7,230.8L215.3,230.4L215.8,229.5L216.3,228.4L216.9,227.6L217.4,227.5L218.0,226.2L218.5,225.2L219.0,224.5L219.6,224.4L220.1,223.3L220.6,222.2L221.2,221.5L221.7,221.0L222.2,220.3L222.8,219.2L223.3,218.2L223.8,217.8L224.4,216.7L224.9,215.5L225.5,214.6L226.0,214.0L226.5,212.9L227.1,212.4L227.6,211.6L228.1,210.8L228.7,210.0L229.2,209.0L229.7,208.2L230.3,206.7L230.8,206.2L231.3,205.0L231.9,205.0L232.4,203.7L232.9,203.2L233.5,202.6L234.0,201.3L234.6,200.8L235.1,199.6L235.6,198.3L236.2,198.1L236.7,197.3L237.2,196.6L237.8,196.0L238.3,194.9L238.8,194.2L239.4,193.1L239.9,192.5L240.4,191.5L241.0,190.7L241.5,189.7L242.0,189.5L242.6,188.6L243.1,187.3L243.7,186.7L244.2,186.3L244.7,184.9L245.3,185.4L245.8,184.1L246.3,183.4L246.9,182.5L247.4,182.2L247.9,181.2L248.5,180.5L249.0,179.6L249.5,179.7L250.1,178.8L250.6,178.1L251.2,177.2L251.7,176.4L252.2,175.9L252.8,175.9L253.3,175.2L253.8,174.8L254.4,174.4L254.9,174.1L255.4,173.5L256.0,173.2L256.5,172.7L257.0,172.5L257.6,171.6L258.1,172.3L258.6,171.8L259.2,171.6L259.7,171.2L260.3,170.9L260.8,170.9L261.3,170.1L261.9,170.6L262.4,170.2L262.9,170.5L263.5,170.6L264.0,169.8L264.5,170.6L265.1,170.7L265.6,170.6L266.1,170.4L266.7,170.2L267.2,170.7L267.7,170.9L268.3,170.9L268.8,171.0L269.4,171.6L269.9,171.6L270.4,172.1L271.0,172.2L271.5,172.6L272.0,172.9L272.6,173.1L273.1,174.2L273.6,174.8L274.2,175.0L274.7,175.6L275.2,176.2L275.8,176.6L276.3,177.4L276.8,177.9L277.4,178.7L277.9,179.4L278.5,180.2L279.0,180.6L279.5,181.4L280.1,181.8L280.6,182.6L281.1,183.6L281.7,184.1L282.2,184.8L282.7,185.5L283.3,186.5L283.8,186.8L284.3,187.5L284.9,188.5L285.4,188.8L286.0,189.5L286.5,190.5L287.0,191.1L287.6,191.4L288.1,192.0L288.6,192.7L289.2,193.8L289.7,194.3L290.2,194.5L290.8,195.5L291.3,195.6L291.8,196.1L292.4,197.1L292.9,197.3L293.4,197.7L294.0,198.2L294.5,198.8L295.1,199.1L295.6,199.4L296.1,199.3L296.7,199.7L297.2,199.8L297.7,200.2L298.3,200.3L298.8,200.4L299.3,200.7L299.9,200.9L300.4,200.8L300.9,201.0L301.5,201.1L302.0,201.3L302.5,201.5L303.1,201.3L303.6,201.6L304.2,201.8L304.7,201.8L305.2,202.3L305.8,202.2L306.3,202.4L306.8,203.2L307.4,203.5L307.9,204.0L308.4,204.7L309.0,205.2L309.5,205.8L310.0,206.9L310.6,207.5L311.1,209.1L311.7,210.1L312.2,210.7L312.7,212.0L313.3,212.9L313.8,213.8L314.3,214.9L314.9,216.7L315.4,218.0L315.9,219.4L316.5,220.9L317.0,222.2L317.5,224.1L318.1,225.2L318.6,227.2L319.1,229.0L319.7,231.8L320.2,233.4L320.8,235.6L321.3,237.7L321.8,239.4L322.4,240.3L322.9,241.5L323.4,242.2L324.0,245.1L324.5,257.1"/>
<path stroke="#00ff55" d="M56.8,184.1L57.3,182.8L57.9,181.7L58.4,180.4L58.9,179.8L59.5,177.9L60.0,176.7L60.5,175.6L61.1,174.2L61.6,173.0L62.2,171.5L62.7,170.7L63.2,170.0L63.8,169.9L64.3,168.1L64.8,167.5L65.4,166.5L65.9,166.0L66.4,166.5L67.0,167.2L67.5,167.7L68.0,168.5L68.6,169.4L69.1,170.2L69.6,170.8L70.2,171.6L70.7,172.6L71.3,173.8L71.8,174.4L72.3,176.3L72.9,177.7L73.4,179.2L73.9,181.9L74.5,183.9L75.0,186.3L75.5,187.9L76.1,190.8L76.6,193.3L77.1,195.8L77.7,198.9L78.2,202.2L78.8,205.0L79.3,208.6L79.8,212.0L80.4,215.6L80.9,218.7L81.4,221.1L82.0,222.5L82.5,223.9L83.0,225.3L83.6,226.1L84.1,226.7L84.6,227.3L85.2,227.8L85.7,228.7L86.2,228.7L86.8,229.1L87.3,228.9L87.9,228.5L88.4,228.0L88.9,227.5L89.5,227.1L90.0,226.6L90.5,225.9L91.1,225.0L91.6,224.3L92.1,223.4L92.7,222.9L93.2,222.5L93.7,223.2L94.3,223.7L94.8,224.4L95.3,225.3L95.9,226.4L96.4,226.2L97.0,226.7L97.5,227.9L98.0,228.2L98.6,227.8L99.1,228.3L99.6,227.5L100.2,227.0L100.7,226.4L101.2,225.5L101.8,225.0L102.3,224.4L102.8,223.4L103.4,222.5L103.9,221.5L104.5,220.4L105.0,219.2L105.5,218.4L106.1,217.5L106.6,216.3L107.1,215.7L107.7,214.5L108.2,213.5L108.7,212.6L109.3,211.0L109.8,210.3L110.3,209.3L110.9,208.2L111.4,206.5L111.9,205.6L112.5,204.8L113.0,203.7L113.6,203.4L114.1,202.2L114.6,201.0L115.2,200.4L115.7,199.6L116.2,198.7L116.8,197.6L117.3,196.9L117.8,197.0L118.4,196.0L118.9,196.2L119.4,195.5L120.0,195.2L120.5,195.1L121.0,194.6L121.6,194.8L122.1,195.1L122.7,195.0L123.2,195.5L123.7,195.4L124.3,195.4L124.8,195.9L125.3,196.0L125.9,197.4L126.4,198.4L126.9,199.5L127.5,200.8L128.0,202.5L128.5,203.6L129.1,205.5L129.6,207.5L130.1,209.0L130.7,210.3L131.2,212.4L131.8,213.9L132.3,216.2L132.8,218.0L133.4,219.9L133.9,222.4L134.4,224.2L135.0,226.3L135.5,228.2L136.0,230.2L136.6,232.4L137.1,234.8L137.6,236.7L138.2,239.0L138.7,241.0L139.3,242.9L139.8,245.2L140.3,247.5L140.9,250.4L141.4,252.8L141.9,254.7L142.5,256.1L143.0,257.3L143.5,258.2L144.1,258.6L144.6,258.7L145.1,259.5L145.7,259.6L146.2,259.5L146.7,260.3L147.3,260.2L147.8,260.9L148.4,261.0L148.9,261.1L149.4,261.0L150.0,261.4L150.5,261.7L151.0,261.6L151.6,261.5L152.1,261.6L152.6,262.3L153.2,262.1L153.7,262.5L154.2,262.3L154.8,262.3L155.3,262.9L155.8,262.2L156.4,263.2L156.9,262.7L157.5,263.1L158.0,262.8L158.5,262.3L159.1,262.2L159.6,262.0L160.1,262.4L160.7,262.5L161.2,262.4L161.7,261.4L162.3,261.7L162.8,262.0L163.3,261.7L163.9,261.6L164.4,261.2L165.0,261.4L165.5,261.6L166.0,261.3L166.6,260.9L167.1,260.9L167.6,261.0L168.2,261.1L168.7,260.5L169.2,260.5L169.8,260.8L170.3,260.7L170.8,260.0L171.4,260.4L171.9,260.0L172.4,260.2L173.0,260.1L173.5,260.1L174.1,259.8L174.6,259.7L175.1,259.9L175.7,259.3L176.2,259.6L176.7,259.6L177.3,259.1L177.8,259.5L178.3,259.2L178.9,259.1L179.4,258.8L179.9,259.4L180.5,259.1L181.0,259.4L181.5,258.6L182.1,258.5L182.6,258.3L183.2,258.1L183.7,258.1L184.2,257.6L184.8,257.8L185.3,257.5L185.8,257.1L186.4,256.6L186.9,256.8L187.4,255.6L188.0,256.2L188.5,256.1L189.0,255.4L189.6,255.4L190.1,254.8L190.6,254.5L191.2,254.7L191.7,254.1L192.3,254.1L192.8,253.6L193.3,253.5L193.9,253.2L194.4,252.8L194.9,252.3L195.5,252.4L196.0,251.8L196.5,251.3L197.1,251.5L197.6,250.8L198.1,250.8L198.7,250.3L199.2,250.0L199.8,249.8L200.3,249.0L200.8,248.7L201.4,248.5L201.9,248.1L202.4,247.5L203.0,246.8L203.5,246.3L204.0,246.2L204.6,245.2L205.1,244.7L205.6,244.3L206.2,243.9L206.7,243.5L207.2,242.5L207.8,242.1L208.3,241.5L208.9,240.2L209.4,240.5L209.9,240.0L210.5,238.8L211.0,238.8L211.5,237.8L212.1,237.1L212.6,236.6L213.1,235.5L213.7,235.1L214.2,234.4L214.7,233.9L215.3,233.3L215.8,232.4L216.3,231.2L216.9,231.0L217.4,230.1L218.0,229.4L218.5,229.0L219.0,227.9L219.6,227.4L220.1,227.0L220.6,226.2L221.2,224.9L221.7,223.8L222.2,223.3L222.8,222.4L223.3,222.2L223.8,221.8L224.4,219.9L224.9,219.2L225.5,219.0L226.0,217.7L226.5,217.0L227.1,216.2L227.6,215.6L228.1,214.4L228.7,213.5L229.2,213.2L229.7,212.0L230.3,211.6L230.8,210.3L231.3,209.7L231.9,208.7L232.4,208.0L232.9,207.7L233.5,206.8L234.0,205.7L234.6,204.8L235.1,203.9L235.6,203.7L236.2,202.6L236.7,201.3L237.2,201.0L237.8,200.5L238.3,199.9L238.8,198.6L239.4,197.8L239.9,197.4L240.4,196.3L241.0,195.5L241.5,194.6L242.0,194.1L242.6,193.6L243.1,193.0L243.7,191.9L244.2,191.7L244.7,190.3L245.3,189.8L245.8,189.4L246.3,189.1L246.9,188.2L247.4,187.7L247.9,186.9L248.5,185.9L249.0,184.9L249.5,185.0L250.1,184.4L250.6,183.1L251.2,183.0L251.7,182.4L252.2,182.2L252.8,181.2L253.3,181.0L253.8,180.4L254.4,180.0L254.9,179.4L255.4,179.3L256.0,179.2L256.5,178.6L257.0,178.5L257.6,178.6L258.1,178.1L258.6,178.1L259.2,177.5L259.7,177.4L260.3,177.2L260.8,177.4L261.3,176.8L261.9,176.8L262.4,176.5L262.9,176.9L263.5,176.7L264.0,176.7L264.5,176.4L265.1,176.7L265.6,176.4L266.1,176.9L266.7,176.6L267.2,176.8L267.7,176.9L268.3,177.1L268.8,177.3L269.4,177.3L269.9,177.5L270.4,177.9L271.0,178.4L271.5,178.9L272.0,179.3L272.6,179.6L273.1,180.0L273.6,180.6L274.2,181.3L274.7,181.7L275.2,181.9L275.8,182.8L276.3,183.2L276.8,183.9L277.4,184.3L277.9,185.1L278.5,185.4L279.0,186.2L279.5,187.1L280.1,187.5L280.6,188.4L281.1,188.9L281.7,189.3L282.2,190.4L282.7,190.7L283.3,191.5L283.8,191.8L284.3,192.7L284.9,193.2L285.4,194.0L286.0,194.4L286.5,195.2L287.0,196.1L287.6,196.5L288.1,197.2L288.6,197.4L289.2,198.6L289.7,199.4L290.2,199.4L290.8,200.4L291.3,201.2L291.8,201.5L292.4,202.0L292.9,202.4L293.4,202.3L294.0,203.2L294.5,203.4L295.1,203.8L295.6,204.4L296.1,204.9L296.7,204.4L297.2,205.1L297.7,205.4L298.3,205.2L298.8,205.7L299.3,205.7L299.9,205.5L300.4,205.9L300.9,205.8L301.5,206.0L302.0,205.7L302.5,206.5L303.1,206.8L303.6,206.3L304.2,206.6L304.7,206.0L305.2,206.9L305.8,207.1L306.3,207.3L306.8,207.7L307.4,208.1L307.9,208.9L308.4,209.4L309.0,209.5L309.5,210.8L310.0,211.3L310.6,212.0L311.1,212.9L311.7,214.2L312.2,215.0L312.7,215.9L313.3,217.1L313.8,218.3L314.3,219.2L314.9,220.6L315.4,221.9L315.9,222.8L316.5,224.4L317.0,226.3L317.5,227.8L318.1,229.2L318.6,230.8L319.1,232.7L319.7,234.9L320.2,236.4L320.8,238.8L321.3,240.9L321.8,242.6L322.4,243.3L322.9,244.3L323.4,245.6L324.0,247.9L324.5,258.8"/>
<path stroke="#55ff00" d="M56.8,184.2L57.3,183.4L57.9,182.1L58.4,180.9L58.9,179.7L59.5,178.1L60.0,177.1L60.5,175.9L61.1,174.9L61.6,173.4L62.2,172.0L62.7,171.3L63.2,170.7L63.8,169.5L64.3,168.8L64.8,167.7L65.4,166.9L65.9,166.0L66.4,167.0L67.0,167.7L67.5,168.0L68.0,168.3L68.6,169.6L69.1,170.5L69.6,171.4L70.2,171.8L70.7,173.0L71.3,174.0L71.8,174.8L72.3,176.6L72.9,178.0L73.4,179.8L73.9,182.0L74.5,184.3L75.0,186.4L75.5,188.7L76.1,191.6L76.6,193.8L77.1,196.0L77.7,199.1L78.2,201.6L78.8,205.6L79.3,208.5L79.8,212.3L80.4,215.9L80.9,219.3L81.4,221.0L82.0,222.3L82.5,223.7L83.0,224.3L83.6,225.8L84.1,226.4L84.6,227.0L85.2,227.7L85.7,228.3L86.2,228.6L86.8,228.8L87.3,228.8L87.9,228.3L88.4,227.6L88.9,227.0L89.5,227.0L90.0,226.1L90.5,225.6L91.1,224.8L91.6,223.9L92.1,222.9L92.7,222.7L93.2,222.5L93.7,222.3L94.3,223.6L94.8,224.1L95.3,224.7L95.9,225.5L96.4,226.1L97.0,226.2L97.5,226.8L98.0,227.4L98.6,227.4L99.1,227.5L99.6,227.2L100.2,226.3L100.7,225.5L101.2,225.3L101.8,223.9L102.3,223.0L102.8,222.5L103.4,222.1L103.9,220.7L104.5,220.1L105.0,218.6L105.5,217.8L106.1,216.8L106.6,215.9L107.1,214.6L107.7,213.5L108.2,212.8L108.7,211.6L109.3,210.5L109.8,209.0L110.3,208.0L110.9,207.1L111.4,205.6L111.9,204.8L112.5,203.9L113.0,202.9L113.6,201.6L114.1,200.9L114.6,200.3L115.2,199.1L115.7,198.2L116.2,197.9L116.8,196.4L117.3,195.8L117.8,195.8L118.4,194.9L118.9,194.6L119.4,194.3L120.0,194.2L120.5,193.4L121.0,193.6L121.6,193.9L122.1,193.7L122.7,193.9L123.2,194.3L123.7,194.1L124.3,194.4L124.8,195.2L125.3,195.2L125.9,195.9L126.4,196.8L126.9,198.0L127.5,199.6L128.0,201.2L128.5,203.2L129.1,204.6L129.6,206.4L130.1,207.7L130.7,209.2L131.2,211.4L131.8,213.7L132.3,215.1L132.8,217.0L133.4,219.4L133.9,221.7L134.4,223.3L135.0,225.8L135.5,227.6L136.0,229.8L136.6,231.7L137.1,234.3L137.6,235.8L138.2,238.2L138.7,239.9L139.3,242.8L139.8,245.4L140.3,247.4L140.9,250.1L141.4,252.1L141.9,254.7L142.5,255.7L143.0,257.1L143.5,257.8L144.1,258.6L144.6,259.5L145.1,259.4L145.7,259.8L146.2,260.0L146.7,260.8L147.3,260.9L147.8,261.1L148.4,261.6L148.9,261.8L149.4,262.0L150.0,262.0L150.5,262.8L151.0,262.2L151.6,262.7L152.1,262.8L152.6,263.1L153.2,262.9L153.7,263.1L154.2,263.4L154.8,263.3L155.3,263.7L155.8,263.5L156.4,263.9L156.9,263.8L157.5,263.4L158.0,263.9L158.5,263.9L159.1,263.7L159.6,263.5L160.1,263.4L160.7,263.4L161.2,263.3L161.7,263.2L162.3,262.5L162.8,263.4L163.3,262.8L163.9,262.6L164.4,262.9L165.0,262.5L165.5,262.4L166.0,263.0L166.6,261.9L167.1,262.1L167.6,262.1L168.2,262.4L168.7,262.2L169.2,262.2L169.8,262.2L170.3,261.7L170.8,262.4L171.4,262.3L171.9,261.9L172.4,261.5L173.0,261.8L173.5,261.3L174.1,261.5L174.6,261.3L175.1,261.2L175.7,261.0L176.2,260.9L176.7,260.9L177.3,261.0L177.8,261.0L178.3,260.3L178.9,260.4L179.4,260.2L179.9,260.5L180.5,260.1L181.0,259.9L181.5,259.6L182.1,259.7L182.6,259.2L183.2,259.6L183.7,259.1L184.2,259.0L184.8,258.8L185.3,258.2L185.8,257.7L186.4,257.8L186.9,257.5L187.4,257.2L188.0,256.9L188.5,256.3L189.0,255.9L189.6,256.2L190.1,255.5L190.6,255.3L191.2,255.3L191.7,255.3L192.3,254.7L192.8,254.7L193.3,254.1L193.9,253.8L194.4,253.3L194.9,253.5L195.5,253.0L196.0,252.8L196.5,252.4L197.1,252.3L197.6,252.0L198.1,251.8L198.7,251.3L199.2,250.9L199.8,250.2L200.3,250.2L200.8,250.0L201.4,249.3L201.9,248.8L202.4,248.6L203.0,247.9L203.5,247.5L204.0,247.0L204.6,246.4L205.1,245.9L205.6,245.5L206.2,244.7L206.7,244.4L207.2,244.1L207.8,243.3L208.3,242.3L208.9,241.9L209.4,241.3L209.9,240.8L210.5,240.4L211.0,239.9L211.5,239.3L212.1,238.3L212.6,237.8L213.1,237.0L213.7,236.6L214.2,235.2L214.7,235.3L215.3,234.1L215.8,233.8L216.3,232.8L216.9,231.9L217.4,231.3L218.0,230.6L218.5,230.2L219.0,229.9L219.6,229.2L220.1,228.1L220.6,227.2L221.2,227.0L221.7,225.6L222.2,225.1L222.8,224.6L223.3,223.5L223.8,222.3L224.4,222.1L224.9,221.1L225.5,220.3L226.0,219.7L226.5,218.5L227.1,217.6L227.6,217.0L228.1,216.0L228.7,215.5L229.2,214.6L229.7,214.2L230.3,212.9L230.8,212.5L231.3,212.1L231.9,210.9L232.4,210.5L232.9,209.6L233.5,208.4L234.0,207.7L234.6,207.3L235.1,206.9L235.6,205.4L236.2,205.1L236.7,203.9L237.2,203.1L237.8,202.5L238.3,201.3L238.8,200.9L239.4,200.4L239.9,199.7L240.4,198.9L241.0,198.1L241.5,197.7L242.0,196.8L242.6,196.0L243.1,195.7L243.7,195.0L244.2,193.9L244.7,193.6L245.3,192.3L245.8,191.8L246.3,191.2L246.9,190.8L247.4,190.3L247.9,189.3L248.5,188.7L249.0,187.9L249.5,188.2L250.1,186.9L250.6,186.2L251.2,186.0L251.7,185.3L252.2,185.0L252.8,184.5L253.3,184.3L253.8,183.3L254.4,183.1L254.9,182.8L255.4,182.5L256.0,182.0L256.5,181.4L257.0,181.1L257.6,181.1L258.1,181.1L258.6,180.6L259.2,180.9L259.7,180.0L260.3,180.0L260.8,180.2L261.3,180.0L261.9,180.0L262.4,179.7L262.9,179.9L263.5,179.6L264.0,179.7L264.5,180.0L265.1,179.6L265.6,179.7L266.1,179.9L266.7,180.0L267.2,180.0L267.7,180.1L268.3,180.3L268.8,180.5L269.4,180.6L269.9,181.0L270.4,180.9L271.0,181.3L271.5,181.6L272.0,182.3L272.6,182.6L273.1,182.9L273.6,183.4L274.2,184.1L274.7,184.6L275.2,184.8L275.8,185.3L276.3,185.7L276.8,186.7L277.4,187.0L277.9,187.6L278.5,188.3L279.0,188.9L279.5,189.6L280.1,190.0L280.6,190.6L281.1,191.7L281.7,192.2L282.2,192.9L282.7,193.3L283.3,194.1L283.8,194.6L284.3,195.0L284.9,196.0L285.4,196.3L286.0,197.1L286.5,197.8L287.0,198.5L287.6,199.1L288.1,199.5L288.6,199.9L289.2,200.9L289.7,201.6L290.2,201.8L290.8,202.5L291.3,203.4L291.8,203.5L292.4,204.3L292.9,204.7L293.4,205.0L294.0,205.7L294.5,206.0L295.1,206.2L295.6,207.0L296.1,207.0L296.7,207.6L297.2,207.4L297.7,207.6L298.3,208.0L298.8,208.0L299.3,208.4L299.9,208.1L300.4,208.4L300.9,208.2L301.5,208.1L302.0,208.5L302.5,208.8L303.1,208.3L303.6,208.9L304.2,208.7L304.7,209.0L305.2,209.0L305.8,209.6L306.3,210.2L306.8,210.3L307.4,210.6L307.9,210.7L308.4,211.8L309.0,212.0L309.5,213.1L310.0,213.5L310.6,214.0L311.1,215.0L311.7,216.2L312.2,217.2L312.7,218.1L313.3,218.9L313.8,220.2L314.3,221.3L314.9,222.4L315.4,223.6L315.9,225.4L316.5,226.5L317.0,228.0L317.5,229.3L318.1,231.0L318.6,232.4L319.1,234.4L319.7,236.5L320.2,237.8L320.8,240.1L321.3,241.9L321.8,244.0L322.4,244.9L322.9,245.7L323.4,247.4L324.0,250.2L324.5,259.5"/>
<path stroke="#bfff00" d="M56.8,185.4L57.3,184.2L57.9,182.7L58.4,181.6L58.9,180.2L59.5,178.7L60.0,177.5L60.5,176.9L61.1,175.3L61.6,173.8L62.2,172.6L62.7,172.2L63.2,171.0L63.8,169.8L64.3,169.2L64.8,168.5L65.4,167.8L65.9,166.4L66.4,166.7L67.0,168.1L67.5,168.4L68.0,169.4L68.6,170.4L69.1,171.3L69.6,171.6L70.2,172.6L70.7,173.7L71.3,174.4L71.8,175.2L72.3,176.4L72.9,178.6L73.4,180.4L73.9,182.6L74.5,184.3L75.0,186.3L75.5,189.0L76.1,191.2L76.6,193.8L77.1,196.3L77.7,199.4L78.2,202.3L78.8,205.3L79.3,208.7L79.8,212.5L80.4,216.3L80.9,219.0L81.4,220.9L82.0,221.8L82.5,223.9L83.0,224.6L83.6,225.6L84.1,226.6L84.6,227.4L85.2,227.8L85.7,227.7L86.2,228.5L86.8,228.4L87.3,228.3L87.9,227.9L88.4,228.1L88.9,227.2L89.5,226.9L90.0,225.8L90.5,225.1L91.1,224.1L91.6,223.3L92.1,222.3L92.7,221.8L93.2,221.7L93.7,221.9L94.3,222.9L94.8,223.5L95.3,224.6L95.9,225.2L96.4,225.6L97.0,225.8L97.5,226.7L98.0,226.9L98.6,227.2L99.1,226.8L99.6,226.5L100.2,226.2L100.7,225.1L101.2,224.5L101.8,223.7L102.3,222.5L102.8,222.1L103.4,221.4L103.9,220.8L104.5,219.6L105.0,218.0L105.5,217.9L106.1,215.8L106.6,215.2L107.1,214.1L107.7,212.5L108.2,212.1L108.7,210.7L109.3,209.7L109.8,208.4L110.3,206.9L110.9,205.6L111.4,205.3L111.9,204.1L112.5,202.2L113.0,201.6L113.6,200.3L114.1,199.4L114.6,198.8L115.2,198.0L115.7,196.7L116.2,196.0L116.8,195.1L117.3,194.8L117.8,193.8L118.4,194.3L118.9,193.8L119.4,193.2L120.0,193.0L120.5,192.5L121.0,192.6L121.6,192.2L122.1,192.5L122.7,192.6L123.2,193.0L123.7,193.1L124.3,193.4L124.8,193.7L125.3,193.9L125.9,195.2L126.4,195.9L126.9,197.2L127.5,198.3L128.0,200.2L128.5,202.3L129.1,203.6L129.6,205.2L130.1,206.8L130.7,208.4L131.2,210.3L131.8,212.3L132.3,214.1L132.8,216.6L133.4,218.5L133.9,220.7L134.4,222.8L135.0,224.9L135.5,227.1L136.0,229.2L136.6,231.3L137.1,233.9L137.6,235.5L138.2,237.5L138.7,240.0L139.3,242.2L139.8,244.5L140.3,246.7L140.9,249.5L141.4,251.6L141.9,254.3L142.5,255.9L143.0,256.7L143.5,258.1L144.1,259.0L144.6,259.3L145.1,260.0L145.7,260.3L146.2,260.6L146.7,261.2L147.3,261.3L147.8,261.8L148.4,262.1L148.9,262.4L149.4,262.9L150.0,263.1L150.5,263.2L151.0,263.1L151.6,263.6L152.1,263.8L152.6,263.7L153.2,263.8L153.7,264.1L154.2,264.3L154.8,264.7L155.3,264.4L155.8,264.3L156.4,264.7L156.9,264.6L157.5,264.9L158.0,264.8L158.5,264.6L159.1,264.6L159.6,264.4L160.1,264.4L160.7,264.5L161.2,264.5L161.7,264.1L162.3,264.4L162.8,264.0L163.3,264.1L163.9,264.3L164.4,264.1L165.0,263.9L165.5,263.1L166.0,263.7L166.6,263.9L167.1,263.3L167.6,263.7L168.2,263.7L168.7,263.3L169.2,263.1L169.8,262.8L170.3,263.2L170.8,263.4L171.4,263.1L171.9,262.7L172.4,262.6L173.0,263.0L173.5,262.4L174.1,262.7L174.6,262.8L175.1,262.3L175.7,262.3L176.2,262.6L176.7,262.4L177.3,262.0L177.8,261.8L178.3,262.1L178.9,261.5L179.4,261.9L179.9,261.8L180.5,261.3L181.0,261.0L181.5,261.3L182.1,261.1L182.6,260.7L183.2,260.4L183.7,260.5L184.2,260.2L184.8,260.1L185.3,260.1L185.8,259.3L186.4,259.3L186.9,258.7L187.4,258.8L188.0,258.1L188.5,258.1L189.0,257.6L189.6,257.9L190.1,257.5L190.6,257.3L191.2,256.5L191.7,256.6L192.3,256.6L192.8,256.8L193.3,256.3L193.9,255.5L194.4,255.7L194.9,255.2L195.5,255.4L196.0,254.7L196.5,254.3L197.1,254.2L197.6,254.2L198.1,254.0L198.7,253.4L199.2,253.5L199.8,253.3L200.3,252.6L200.8,252.5L201.4,252.2L201.9,251.5L202.4,251.0L203.0,250.7L203.5,249.9L204.0,249.1L204.6,248.8L205.1,248.2L205.6,247.7L206.2,247.4L206.7,246.9L207.2,246.6L207.8,246.1L208.3,245.5L208.9,245.1L209.4,243.8L209.9,243.4L210.5,243.5L211.0,242.5L211.5,242.0L212.1,241.4L212.6,240.8L213.1,240.0L213.7,239.9L214.2,239.3L214.7,238.5L215.3,237.6L215.8,237.2L216.3,236.6L216.9,236.0L217.4,235.1L218.0,234.5L218.5,233.6L219.0,232.9L219.6,232.5L220.1,232.2L220.6,231.6L221.2,230.6L221.7,229.8L222.2,229.2L222.8,228.4L223.3,227.7L223.8,226.7L224.4,226.2L224.9,225.2L225.5,224.7L226.0,224.0L226.5,223.2L227.1,222.6L227.6,221.7L228.1,221.4L228.7,220.2L229.2,219.2L229.7,218.4L230.3,218.1L230.8,217.5L231.3,216.2L231.9,216.1L232.4,215.1L232.9,214.4L233.5,213.6L234.0,212.7L234.6,211.9L235.1,212.0L235.6,210.9L236.2,210.6L236.7,209.6L237.2,209.1L237.8,208.1L238.3,207.5L238.8,206.6L239.4,205.8L239.9,205.3L240.4,204.5L241.0,203.7L241.5,203.3L242.0,202.7L242.6,202.2L243.1,201.6L243.7,200.6L244.2,199.8L244.7,199.4L245.3,199.2L245.8,198.4L246.3,197.6L246.9,197.0L247.4,196.6L247.9,195.8L248.5,195.2L249.0,195.0L249.5,194.4L250.1,193.5L250.6,193.3L251.2,192.6L251.7,191.8L252.2,191.4L252.8,191.0L253.3,191.0L253.8,190.5L254.4,190.0L254.9,189.7L255.4,189.2L256.0,188.9L256.5,188.5L257.0,188.2L257.6,188.3L258.1,188.3L258.6,187.7L259.2,187.7L259.7,187.5L260.3,187.5L260.8,187.3L261.3,186.6L261.9,187.5L262.4,186.8L262.9,186.9L263.5,186.7L264.0,187.0L264.5,186.8L265.1,186.9L265.6,186.9L266.1,187.0L266.7,186.6L267.2,186.8L267.7,187.1L268.3,187.3L268.8,187.7L269.4,188.1L269.9,187.9L270.4,188.5L271.0,188.7L271.5,189.1L272.0,189.3L272.6,189.7L273.1,189.7L273.6,190.1L274.2,190.9L274.7,191.2L275.2,191.8L275.8,192.2L276.3,192.9L276.8,193.2L277.4,194.2L277.9,195.0L278.5,194.5L279.0,195.5L279.5,196.1L280.1,196.5L280.6,197.2L281.1,197.6L281.7,198.7L282.2,199.1L282.7,199.3L283.3,200.1L283.8,200.9L284.3,201.7L284.9,201.6L285.4,202.4L286.0,203.1L286.5,204.1L287.0,204.6L287.6,205.3L288.1,206.1L288.6,206.4L289.2,206.9L289.7,206.9L290.2,208.3L290.8,208.3L291.3,209.0L291.8,209.4L292.4,210.1L292.9,210.3L293.4,211.0L294.0,211.2L294.5,211.6L295.1,212.4L295.6,212.5L296.1,212.3L296.7,212.6L297.2,213.4L297.7,213.3L298.3,213.1L298.8,213.5L299.3,213.9L299.9,213.7L300.4,213.9L300.9,214.4L301.5,214.0L302.0,214.2L302.5,214.1L303.1,214.0L303.6,214.1L304.2,214.3L304.7,214.4L305.2,215.2L305.8,215.5L306.3,215.4L306.8,215.8L307.4,216.1L307.9,216.7L308.4,217.0L309.0,217.2L309.5,218.2L310.0,218.8L310.6,219.6L311.1,220.8L311.7,221.3L312.2,222.2L312.7,223.0L313.3,224.2L313.8,224.7L314.3,225.8L314.9,226.7L315.4,228.9L315.9,229.7L316.5,230.8L317.0,232.2L317.5,233.6L318.1,235.2L318.6,236.6L319.1,238.8L319.7,240.6L320.2,241.7L320.8,244.1L321.3,245.6L321.8,247.6L322.4,248.5L322.9,249.7L323.4,250.9L324.0,253.4L324.5,262.3"/>
<path stroke="#ffff00" d="M56.8,185.7L57.3,184.5L57.9,183.4L58.4,181.6L58.9,180.3L59.5,179.9L60.0,178.4L60.5,176.8L61.1,175.3L61.6,174.5L62.2,173.0L62.7,172.1L63.2,171.1L63.8,170.6L64.3,169.3L64.8,168.9L65.4,167.6L65.9,167.1L66.4,167.7L67.0,168.1L67.5,168.8L68.0,169.6L68.6,170.6L69.1,171.4L69.6,171.8L70.2,172.5L70.7,173.8L71.3,174.7L71.8,175.9L72.3,176.9L72.9,179.0L73.4,180.6L73.9,182.4L74.5,185.5L75.0,187.0L75.5,189.6L76.1,191.8L76.6,194.1L77.1,196.8L77.7,199.2L78.2,201.9L78.8,205.5L79.3,208.7L79.8,212.0L80.4,216.0L80.9,219.5L81.4,220.6L82.0,222.3L82.5,223.1L83.0,224.7L83.6,225.0L84.1,226.4L84.6,226.8L85.2,227.8L85.7,227.1L86.2,228.0L86.8,228.2L87.3,228.0L87.9,227.7L88.4,227.2L88.9,226.2L89.5,225.7L90.0,225.6L90.5,224.7L91.1,223.9L91.6,222.9L92.1,222.4L92.7,221.6L93.2,221.7L93.7,221.5L94.3,222.4L94.8,222.8L95.3,223.9L95.9,224.9L96.4,224.8L97.0,226.2L97.5,225.6L98.0,226.2L98.6,226.4L99.1,226.2L99.6,226.0L100.2,225.7L100.7,225.0L101.2,224.0L101.8,223.8L102.3,222.3L102.8,221.6L103.4,220.6L103.9,219.8L104.5,219.0L105.0,217.5L105.5,216.6L106.1,215.4L106.6,214.2L107.1,212.9L107.7,211.7L108.2,211.2L108.7,209.7L109.3,209.0L109.8,207.7L110.3,206.5L110.9,205.2L111.4,204.0L111.9,202.8L112.5,201.8L113.0,200.8L113.6,200.1L114.1,198.7L114.6,198.0L115.2,196.6L115.7,195.9L116.2,194.6L116.8,194.5L117.3,193.6L117.8,193.0L118.4,192.8L118.9,192.3L119.4,191.5L120.0,191.3L120.5,191.3L121.0,191.4L121.6,191.4L122.1,191.7L122.7,191.1L123.2,191.6L123.7,191.7L124.3,191.8L124.8,192.1L125.3,192.8L125.9,193.2L126.4,195.1L126.9,195.6L127.5,197.3L128.0,199.1L128.5,200.7L129.1,202.3L129.6,204.5L130.1,205.9L130.7,207.8L131.2,209.6L131.8,211.4L132.3,213.7L132.8,216.0L133.4,218.0L133.9,219.7L134.4,221.9L135.0,224.2L135.5,226.1L136.0,228.7L136.6,230.9L137.1,233.1L137.6,234.9L138.2,237.1L138.7,239.7L139.3,241.0L139.8,243.8L140.3,246.8L140.9,249.5L141.4,251.4L141.9,253.7L142.5,255.8L143.0,256.9L143.5,257.9L144.1,258.7L144.6,259.1L145.1,260.3L145.7,260.6L146.2,261.3L146.7,261.4L147.3,261.8L147.8,261.6L148.4,262.7L148.9,262.8L149.4,263.2L150.0,263.4L150.5,263.8L151.0,264.1L151.6,264.1L152.1,264.4L152.6,264.1L153.2,264.6L153.7,264.4L154.2,265.1L154.8,265.4L155.3,265.3L155.8,265.3L156.4,264.8L156.9,265.6L157.5,265.2L158.0,265.5L158.5,265.5L159.1,265.1L159.6,265.4L160.1,264.8L160.7,265.0L161.2,264.9L161.7,265.1L162.3,264.9L162.8,264.7L163.3,265.0L163.9,264.8L164.4,264.9L165.0,264.7L165.5,264.6L166.0,265.0L166.6,264.5L167.1,264.6L167.6,264.2L168.2,264.7L168.7,264.4L169.2,264.4L169.8,264.0L170.3,264.2L170.8,263.8L171.4,263.9L171.9,264.2L172.4,264.2L173.0,263.9L173.5,263.6L174.1,263.7L174.6,263.8L175.1,263.4L175.7,263.4L176.2,263.5L176.7,263.1L177.3,263.1L177.8,263.3L178.3,262.9L178.9,262.6L179.4,262.8L179.9,262.9L180.5,262.3L181.0,262.0L181.5,262.1L182.1,261.8L182.6,261.9L183.2,261.4L183.7,261.5L184.2,261.0L184.8,260.7L185.3,260.6L185.8,260.2L186.4,259.9L186.9,259.3L187.4,259.5L188.0,259.4L188.5,259.0L189.0,258.7L189.6,258.2L190.1,257.8L190.6,258.1L191.2,257.6L191.7,257.3L192.3,257.3L192.8,257.0L193.3,256.9L193.9,256.3L194.4,256.1L194.9,256.3L195.5,255.8L196.0,255.9L196.5,255.2L197.1,254.9L197.6,255.3L198.1,254.7L198.7,254.4L199.2,253.6L199.8,253.7L200.3,253.3L200.8,253.2L201.4,252.7L201.9,252.2L202.4,251.8L203.0,251.2L203.5,250.8L204.0,250.6L204.6,249.8L205.1,249.4L205.6,249.2L206.2,248.7L206.7,248.1L207.2,247.1L207.8,246.8L208.3,246.0L208.9,246.4L209.4,245.3L209.9,244.5L210.5,244.4L211.0,243.6L211.5,243.4L212.1,242.5L212.6,242.0L213.1,241.8L213.7,240.6L214.2,240.3L214.7,239.6L215.3,239.5L215.8,238.3L216.3,238.0L216.9,237.0L217.4,236.8L218.0,235.7L218.5,235.4L219.0,234.7L219.6,234.1L220.1,233.8L220.6,232.8L221.2,231.8L221.7,231.1L222.2,230.7L222.8,229.7L223.3,229.3L223.8,228.8L224.4,227.8L224.9,227.0L225.5,226.1L226.0,226.1L226.5,224.6L227.1,223.9L227.6,223.2L228.1,222.9L228.7,222.2L229.2,220.9L229.7,220.5L230.3,219.5L230.8,219.2L231.3,218.1L231.9,217.4L232.4,217.2L232.9,216.2L233.5,215.1L234.0,215.0L234.6,213.8L235.1,213.4L235.6,212.9L236.2,212.2L236.7,211.6L237.2,210.3L237.8,210.4L238.3,209.6L238.8,208.7L239.4,207.8L239.9,207.7L240.4,206.9L241.0,206.2L241.5,205.5L242.0,204.8L242.6,204.4L243.1,203.6L243.7,202.8L244.2,202.6L244.7,202.1L245.3,201.3L245.8,200.5L246.3,199.4L246.9,199.2L247.4,198.7L247.9,198.9L248.5,198.1L249.0,196.9L249.5,196.7L250.1,196.2L250.6,195.3L251.2,194.7L251.7,194.4L252.2,194.1L252.8,194.1L253.3,193.3L253.8,192.7L254.4,192.6L254.9,192.6L255.4,192.5L256.0,191.7L256.5,191.2L257.0,191.3L257.6,190.9L258.1,190.6L258.6,190.6L259.2,190.4L259.7,190.3L260.3,190.2L260.8,189.8L261.3,189.7L261.9,189.8L262.4,190.0L262.9,189.5L263.5,189.4L264.0,189.4L264.5,189.4L265.1,189.5L265.6,189.6L266.1,189.5L266.7,189.5L267.2,189.6L267.7,190.1L268.3,190.5L268.8,190.1L269.4,190.3L269.9,190.6L270.4,190.8L271.0,191.6L271.5,191.7L272.0,191.7L272.6,192.3L273.1,192.6L273.6,192.7L274.2,193.3L274.7,194.0L275.2,194.3L275.8,195.0L276.3,195.2L276.8,196.1L277.4,196.7L277.9,196.5L278.5,197.1L279.0,198.1L279.5,198.3L280.1,199.6L280.6,199.6L281.1,199.9L281.7,200.5L282.2,201.2L282.7,201.9L283.3,202.4L283.8,202.6L284.3,203.7L284.9,204.2L285.4,204.6L286.0,205.6L286.5,205.7L287.0,207.0L287.6,207.3L288.1,207.9L288.6,208.4L289.2,209.3L289.7,209.7L290.2,210.1L290.8,210.9L291.3,211.0L291.8,212.2L292.4,212.3L292.9,212.3L293.4,213.4L294.0,213.5L294.5,214.0L295.1,214.4L295.6,214.4L296.1,215.2L296.7,215.0L297.2,215.6L297.7,215.6L298.3,215.5L298.8,215.9L299.3,215.9L299.9,215.5L300.4,216.0L300.9,216.1L301.5,216.1L302.0,216.2L302.5,216.4L303.1,216.6L303.6,216.6L304.2,216.7L304.7,216.7L305.2,217.1L305.8,217.2L306.3,217.2L306.8,218.3L307.4,218.3L307.9,218.7L308.4,219.2L309.0,219.3L309.5,220.2L310.0,220.7L310.6,221.0L311.1,222.7L311.7,223.4L312.2,224.3L312.7,224.9L313.3,225.7L313.8,226.9L314.3,227.5L314.9,228.5L315.4,230.2L315.9,231.4L316.5,232.8L317.0,233.9L317.5,235.4L318.1,236.6L318.6,238.2L319.1,240.2L319.7,242.2L320.2,244.3L320.8,245.4L321.3,247.1L321.8,249.0L322.4,250.3L322.9,250.9L323.4,252.6L324.0,255.0L324.5,263.0"/>
<path stroke="#ffe100" d="M56.8,186.0L57.3,184.8L57.9,184.1L58.4,182.4L58.9,181.2L59.5,180.1L60.0,178.9L60.5,177.6L61.1,176.1L61.6,174.7L62.2,173.3L62.7,173.0L63.2,171.9L63.8,170.7L64.3,169.7L64.8,169.2L65.4,168.3L65.9,166.9L66.4,168.2L67.0,168.4L67.5,169.1L68.0,170.0L68.6,170.7L69.1,171.5L69.6,172.5L70.2,173.2L70.7,173.7L71.3,175.2L71.8,175.9L72.3,177.3L72.9,179.6L73.4,181.1L73.9,183.4L74.5,185.2L75.0,187.4L75.5,189.4L76.1,192.1L76.6,194.2L77.1,196.6L77.7,199.5L78.2,202.8L78.8,205.4L79.3,208.8L79.8,212.5L80.4,216.3L80.9,219.2L81.4,220.9L82.0,222.3L82.5,223.4L83.0,224.9L83.6,225.0L84.1,226.0L84.6,226.4L85.2,227.4L85.7,228.0L86.2,228.0L86.8,227.8L87.3,227.5L87.9,227.2L88.4,226.8L88.9,226.6L89.5,225.9L90.0,225.1L90.5,224.3L91.1,223.8L91.6,222.9L92.1,222.1L92.7,220.9L93.2,221.1L93.7,221.1L94.3,221.8L94.8,222.6L95.3,223.9L95.9,224.2L96.4,224.6L97.0,225.3L97.5,226.0L98.0,226.1L98.6,226.4L99.1,226.4L99.6,225.9L100.2,224.7L100.7,224.6L101.2,224.0L101.8,222.6L102.3,221.7L102.8,221.0L103.4,220.2L103.9,218.9L104.5,217.6L105.0,216.7L105.5,216.3L106.1,214.9L106.6,213.5L107.1,212.9L107.7,210.9L108.2,210.0L108.7,209.2L109.3,208.1L109.8,206.4L110.3,205.5L110.9,204.2L111.4,203.4L111.9,202.2L112.5,201.0L113.0,199.9L113.6,198.7L114.1,197.9L114.6,196.6L115.2,195.9L115.7,195.1L116.2,194.1L116.8,193.4L117.3,193.0L117.8,192.6L118.4,191.6L118.9,191.2L119.4,190.6L120.0,190.9L120.5,190.4L121.0,190.5L121.6,189.9L122.1,189.9L122.7,190.3L123.2,190.3L123.7,191.1L124.3,191.1L124.8,191.2L125.3,191.6L125.9,192.5L126.4,193.5L126.9,194.9L127.5,196.6L128.0,197.9L128.5,200.0L129.1,201.6L129.6,203.4L130.1,205.5L130.7,207.1L131.2,208.4L131.8,210.9L132.3,212.8L132.8,215.2L133.4,217.1L133.9,219.5L134.4,221.5L135.0,223.7L135.5,226.2L136.0,228.1L136.6,230.1L137.1,232.7L137.6,234.6L138.2,236.8L138.7,238.8L139.3,241.4L139.8,243.4L140.3,245.9L140.9,248.8L141.4,251.2L141.9,253.2L142.5,255.4L143.0,256.6L143.5,257.5L144.1,258.9L144.6,259.3L145.1,259.8L145.7,260.9L146.2,261.1L146.7,261.5L147.3,262.1L147.8,262.4L148.4,263.0L148.9,263.1L149.4,263.6L150.0,263.6L150.5,264.0L151.0,264.2L151.6,264.2L152.1,264.5L152.6,264.9L153.2,265.0L153.7,265.3L154.2,265.2L154.8,265.2L155.3,265.2L155.8,265.5L156.4,266.0L156.9,265.7L157.5,266.1L158.0,266.2L158.5,266.1L159.1,265.8L159.6,266.2L160.1,265.7L160.7,265.8L161.2,265.3L161.7,265.6L162.3,265.7L162.8,265.8L163.3,265.7L163.9,265.4L164.4,265.7L165.0,265.9L165.5,265.4L166.0,265.3L166.6,265.2L167.1,265.2L167.6,265.3L168.2,265.4L168.7,264.7L169.2,264.9L169.8,264.9L170.3,265.1L170.8,265.1L171.4,264.9L171.9,264.6L172.4,264.6L173.0,264.6L173.5,264.3L174.1,264.5L174.6,264.5L175.1,264.3L175.7,264.1L176.2,263.6L176.7,263.3L177.3,264.0L177.8,263.8L178.3,263.5L178.9,263.9L179.4,263.5L179.9,262.9L180.5,263.2L181.0,263.0L181.5,262.4L182.1,262.1L182.6,262.3L183.2,262.0L183.7,261.7L184.2,261.3L184.8,261.6L185.3,260.9L185.8,260.8L186.4,260.3L186.9,259.9L187.4,260.3L188.0,259.3L188.5,259.2L189.0,259.0L189.6,258.5L190.1,258.3L190.6,257.8L191.2,257.9L191.7,257.6L192.3,257.5L192.8,257.2L193.3,257.4L193.9,256.8L194.4,256.7L194.9,256.3L195.5,256.1L196.0,256.3L196.5,255.7L197.1,255.4L197.6,255.1L198.1,255.5L198.7,254.8L199.2,254.9L199.8,254.5L200.3,254.0L200.8,253.6L201.4,253.3L201.9,253.0L202.4,252.5L203.0,251.7L203.5,251.2L204.0,250.9L204.6,250.9L205.1,250.5L205.6,249.9L206.2,249.2L206.7,248.4L207.2,248.2L207.8,247.7L208.3,247.2L208.9,246.7L209.4,246.2L209.9,245.8L210.5,245.2L211.0,244.6L211.5,244.0L212.1,243.5L212.6,242.7L213.1,242.5L213.7,241.6L214.2,241.3L214.7,240.4L215.3,240.2L215.8,239.3L216.3,238.5L216.9,238.0L217.4,237.7L218.0,237.0L218.5,236.6L219.0,235.7L219.6,235.4L220.1,234.5L220.6,233.9L221.2,233.1L221.7,232.5L222.2,231.7L222.8,231.0L223.3,230.1L223.8,229.7L224.4,229.0L224.9,227.9L225.5,228.2L226.0,227.0L226.5,226.2L227.1,224.9L227.6,224.4L228.1,223.7L228.7,223.1L229.2,222.3L229.7,221.3L230.3,221.3L230.8,220.4L231.3,219.4L231.9,219.0L232.4,218.0L232.9,217.3L233.5,216.5L234.0,216.5L234.6,215.4L235.1,214.5L235.6,214.2L236.2,213.2L236.7,212.8L237.2,212.4L237.8,211.1L238.3,211.1L238.8,210.1L239.4,209.5L239.9,209.0L240.4,208.4L241.0,208.0L241.5,206.9L242.0,206.6L242.6,205.4L243.1,205.3L243.7,204.9L244.2,203.9L244.7,203.2L245.3,202.5L245.8,202.3L246.3,201.6L246.9,201.1L247.4,200.3L247.9,199.6L248.5,199.1L249.0,198.9L249.5,198.3L250.1,197.8L250.6,197.4L251.2,197.0L251.7,196.4L252.2,195.8L252.8,195.3L253.3,195.3L253.8,194.6L254.4,194.4L254.9,194.0L255.4,193.6L256.0,193.4L256.5,193.0L257.0,192.8L257.6,192.6L258.1,192.6L258.6,192.8L259.2,192.7L259.7,192.1L260.3,192.0L260.8,192.2L261.3,192.1L261.9,192.2L262.4,191.3L262.9,192.0L263.5,192.0L264.0,191.3L264.5,191.2L265.1,191.6L265.6,191.4L266.1,191.4L266.7,191.7L267.2,191.1L267.7,191.7L268.3,191.9L268.8,192.1L269.4,192.2L269.9,192.8L270.4,192.8L271.0,193.1L271.5,193.3L272.0,193.8L272.6,194.0L273.1,194.6L273.6,194.5L274.2,195.5L274.7,196.0L275.2,196.2L275.8,196.4L276.3,197.2L276.8,197.5L277.4,198.1L277.9,198.5L278.5,198.8L279.0,199.9L279.5,200.3L280.1,200.7L280.6,201.3L281.1,201.7L281.7,202.0L282.2,202.8L282.7,203.6L283.3,203.9L283.8,204.5L284.3,204.8L284.9,206.0L285.4,206.3L286.0,206.8L286.5,207.4L287.0,208.1L287.6,208.9L288.1,209.6L288.6,210.2L289.2,210.5L289.7,211.0L290.2,211.7L290.8,212.4L291.3,212.7L291.8,213.6L292.4,213.2L292.9,214.4L293.4,214.6L294.0,215.1L294.5,215.4L295.1,215.7L295.6,216.3L296.1,215.9L296.7,216.6L297.2,217.2L297.7,216.7L298.3,217.0L298.8,217.3L299.3,217.3L299.9,217.7L300.4,217.1L300.9,217.6L301.5,217.9L302.0,218.2L302.5,218.2L303.1,218.5L303.6,218.2L304.2,218.4L304.7,218.7L305.2,218.7L305.8,218.8L306.3,219.1L306.8,219.5L307.4,219.6L307.9,220.2L308.4,220.5L309.0,221.1L309.5,221.6L310.0,221.7L310.6,223.0L311.1,224.0L311.7,224.8L312.2,225.5L312.7,225.7L313.3,226.4L313.8,228.4L314.3,228.8L314.9,230.1L315.4,230.8L315.9,232.4L316.5,233.9L317.0,234.9L317.5,236.4L318.1,237.9L318.6,240.0L319.1,241.2L319.7,243.0L320.2,244.8L320.8,246.5L321.3,248.0L321.8,249.9L322.4,251.3L322.9,252.1L323.4,254.0L324.0,256.1L324.5,263.8"/>
<path stroke="#ffbf00" d="M56.8,186.3L57.3,185.3L57.9,183.9L58.4,182.7L58.9,181.8L59.5,180.3L60.0,178.9L60.5,178.0L61.1,176.5L61.6,174.7L62.2,173.4L62.7,172.5L63.2,171.8L63.8,171.7L64.3,170.6L64.8,169.9L65.4,169.0L65.9,167.6L66.4,168.5L67.0,169.2L67.5,169.9L68.0,170.6L68.6,171.5L69.1,172.3L69.6,172.6L70.2,173.7L70.7,175.1L71.3,175.7L71.8,176.5L72.3,178.3L72.9,179.7L73.4,181.6L73.9,183.5L74.5,185.5L75.0,187.6L75.5,190.1L76.1,192.2L76.6,194.4L77.1,196.6L77.7,199.7L78.2,203.1L78.8,205.4L79.3,209.3L79.8,212.8L80.4,215.6L80.9,219.2L81.4,220.3L82.0,222.1L82.5,223.3L83.0,224.8L83.6,225.1L84.1,225.6L84.6,226.3L85.2,226.3L85.7,227.1L86.2,227.5L86.8,227.4L87.3,227.5L87.9,227.1L88.4,226.9L88.9,226.6L89.5,225.5L90.0,225.0L90.5,224.1L91.1,223.1L91.6,222.3L92.1,221.7L92.7,220.7L93.2,220.3L93.7,221.1L94.3,221.3L94.8,222.5L95.3,223.3L95.9,223.6L96.4,224.5L97.0,224.8L97.5,225.4L98.0,225.9L98.6,225.7L99.1,225.8L99.6,225.3L100.2,224.8L100.7,224.5L101.2,223.7L101.8,222.4L102.3,221.4L102.8,220.2L103.4,219.4L103.9,218.7L104.5,217.6L105.0,216.4L105.5,215.2L106.1,214.0L106.6,213.1L107.1,211.6L107.7,210.5L108.2,209.6L108.7,207.9L109.3,206.9L109.8,205.6L110.3,204.7L110.9,204.0L111.4,202.1L111.9,201.4L112.5,200.3L113.0,199.3L113.6,198.4L114.1,197.0L114.6,196.2L115.2,195.3L115.7,194.3L116.2,193.3L116.8,192.7L117.3,192.0L117.8,191.1L118.4,190.9L118.9,190.4L119.4,189.8L120.0,190.1L120.5,189.1L121.0,188.9L121.6,189.7L122.1,189.4L122.7,189.4L123.2,189.7L123.7,189.7L124.3,190.1L124.8,190.4L125.3,190.7L125.9,191.6L126.4,192.6L126.9,194.2L127.5,195.7L128.0,197.4L128.5,199.1L129.1,200.8L129.6,202.9L130.1,204.6L130.7,206.5L131.2,208.0L131.8,210.3L132.3,212.6L132.8,214.5L133.4,216.8L133.9,218.9L134.4,221.2L135.0,223.4L135.5,225.8L136.0,227.9L136.6,229.6L137.1,232.1L137.6,234.5L138.2,236.2L138.7,238.4L139.3,240.7L139.8,243.2L140.3,245.6L140.9,248.2L141.4,251.2L141.9,253.1L142.5,255.4L143.0,256.1L143.5,257.4L144.1,258.7L144.6,259.5L145.1,260.2L145.7,260.9L146.2,261.4L146.7,262.1L147.3,261.9L147.8,262.6L148.4,263.2L148.9,263.2L149.4,263.9L150.0,263.4L150.5,264.6L151.0,264.2L151.6,265.1L152.1,265.2L152.6,265.3L153.2,265.1L153.7,265.7L154.2,265.7L154.8,266.5L155.3,266.5L155.8,266.2L156.4,266.5L156.9,266.2L157.5,266.5L158.0,266.3L158.5,266.5L159.1,266.7L159.6,266.1L160.1,266.7L160.7,266.7L161.2,266.2L161.7,266.4L162.3,266.4L162.8,266.3L163.3,265.9L163.9,266.4L164.4,266.4L165.0,266.1L165.5,266.3L166.0,265.9L166.6,265.8L167.1,265.5L167.6,266.0L168.2,266.1L168.7,265.9L169.2,265.5L169.8,265.7L170.3,265.2L170.8,265.7L171.4,265.6L171.9,265.1L172.4,265.5L173.0,265.5L173.5,265.2L174.1,265.0L174.6,264.9L175.1,264.9L175.7,264.7L176.2,264.7L176.7,264.7L177.3,264.3L177.8,264.1L178.3,263.9L178.9,264.3L179.4,264.2L179.9,264.2L180.5,263.9L181.0,263.9L181.5,263.4L182.1,262.6L182.6,263.0L183.2,262.6L183.7,262.6L184.2,262.2L184.8,261.9L185.3,261.5L185.8,261.3L186.4,261.3L186.9,260.5L187.4,260.1L188.0,260.3L188.5,260.0L189.0,259.7L189.6,259.3L190.1,258.8L190.6,259.1L191.2,259.0L191.7,257.9L192.3,258.2L192.8,257.9L193.3,258.1L193.9,257.5L194.4,257.2L194.9,257.3L195.5,257.3L196.0,256.3L196.5,256.5L197.1,256.6L197.6,256.3L198.1,255.9L198.7,256.0L199.2,255.7L199.8,255.4L200.3,254.9L200.8,254.5L201.4,254.3L201.9,254.0L202.4,253.2L203.0,252.9L203.5,252.7L204.0,251.9L204.6,251.5L205.1,251.3L205.6,250.7L206.2,250.5L206.7,249.9L207.2,249.3L207.8,248.8L208.3,248.2L208.9,247.7L209.4,247.3L209.9,246.9L210.5,246.5L211.0,245.8L211.5,245.0L212.1,244.5L212.6,244.6L213.1,243.5L213.7,243.1L214.2,242.4L214.7,241.8L215.3,241.0L215.8,240.4L216.3,240.0L216.9,239.5L217.4,239.3L218.0,238.1L218.5,237.8L219.0,237.0L219.6,236.7L220.1,235.8L220.6,235.0L221.2,234.6L221.7,234.1L222.2,233.2L222.8,232.7L223.3,232.4L223.8,231.2L224.4,230.9L224.9,230.1L225.5,228.9L226.0,228.2L226.5,227.9L227.1,227.3L227.6,226.5L228.1,225.5L228.7,225.2L229.2,224.2L229.7,224.1L230.3,222.8L230.8,222.6L231.3,221.8L231.9,220.8L232.4,220.1L232.9,219.7L233.5,219.1L234.0,217.9L234.6,218.0L235.1,217.0L235.6,216.4L236.2,215.7L236.7,215.2L237.2,214.4L237.8,213.8L238.3,213.4L238.8,212.6L239.4,211.9L239.9,211.3L240.4,210.5L241.0,210.2L241.5,209.3L242.0,208.9L242.6,208.4L243.1,207.3L243.7,207.0L244.2,206.8L244.7,205.9L245.3,205.3L245.8,204.4L246.3,204.3L246.9,203.8L247.4,203.2L247.9,202.4L248.5,202.3L249.0,201.8L249.5,201.3L250.1,200.6L250.6,199.9L251.2,199.7L251.7,198.7L252.2,198.6L252.8,198.5L253.3,198.1L253.8,197.7L254.4,197.3L254.9,197.4L255.4,196.5L256.0,196.2L256.5,196.6L257.0,196.4L257.6,195.9L258.1,195.7L258.6,195.5L259.2,195.6L259.7,195.2L260.3,195.3L260.8,195.1L261.3,194.7L261.9,195.1L262.4,194.6L262.9,194.9L263.5,194.9L264.0,194.8L264.5,194.6L265.1,194.3L265.6,194.5L266.1,194.4L266.7,194.2L267.2,194.9L267.7,195.0L268.3,195.0L268.8,195.6L269.4,195.2L269.9,195.7L270.4,195.8L271.0,196.2L271.5,196.4L272.0,197.2L272.6,196.7L273.1,197.6L273.6,198.0L274.2,197.9L274.7,198.6L275.2,198.9L275.8,199.5L276.3,199.5L276.8,200.4L277.4,201.1L277.9,201.3L278.5,202.1L279.0,202.3L279.5,202.9L280.1,203.2L280.6,203.8L281.1,204.4L281.7,204.7L282.2,205.4L282.7,206.3L283.3,206.7L283.8,207.3L284.3,207.1L284.9,208.1L285.4,208.8L286.0,209.7L286.5,210.0L287.0,210.2L287.6,211.2L288.1,212.0L288.6,212.2L289.2,213.2L289.7,213.5L290.2,214.1L290.8,214.8L291.3,214.8L291.8,216.1L292.4,216.0L292.9,216.6L293.4,217.0L294.0,217.6L294.5,217.5L295.1,218.2L295.6,219.4L296.1,218.7L296.7,219.1L297.2,219.2L297.7,219.3L298.3,219.8L298.8,219.9L299.3,219.9L299.9,220.0L300.4,219.9L300.9,219.8L301.5,220.2L302.0,220.4L302.5,220.6L303.1,220.6L303.6,220.4L304.2,220.9L304.7,220.8L305.2,221.2L305.8,221.4L306.3,221.5L306.8,221.7L307.4,222.0L307.9,222.4L308.4,223.1L309.0,223.5L309.5,224.3L310.0,224.7L310.6,225.2L311.1,225.5L311.7,226.7L312.2,227.1L312.7,228.4L313.3,229.0L313.8,230.0L314.3,231.0L314.9,232.2L315.4,233.2L315.9,234.1L316.5,235.7L317.0,237.3L317.5,238.6L318.1,239.8L318.6,241.5L319.1,243.1L319.7,244.9L320.2,246.1L320.8,248.0L321.3,249.8L321.8,251.6L322.4,252.7L322.9,253.3L323.4,255.4L324.0,258.4L324.5,265.0"/>
<path stroke="#ffa200" d="M56.8,186.9L57.3,185.9L57.9,184.5L58.4,182.8L58.9,181.7L59.5,180.5L60.0,179.6L60.5,178.1L61.1,176.7L61.6,175.3L62.2,173.5L62.7,172.8L63.2,172.3L63.8,171.3L64.3,170.8L64.8,169.5L65.4,169.2L65.9,167.7L66.4,168.8L67.0,168.8L67.5,169.6L68.0,170.7L68.6,171.5L69.1,172.5L69.6,173.2L70.2,174.1L70.7,175.0L71.3,175.7L71.8,176.8L72.3,178.2L72.9,180.1L73.4,181.6L73.9,183.7L74.5,185.8L75.0,188.1L75.5,189.9L76.1,192.7L76.6,194.6L77.1,196.9L77.7,200.0L78.2,202.9L78.8,205.7L79.3,208.5L79.8,212.5L80.4,216.3L80.9,219.1L81.4,220.4L82.0,222.0L82.5,223.0L83.0,223.9L83.6,225.5L84.1,225.4L84.6,226.3L85.2,226.9L85.7,227.2L86.2,227.4L86.8,227.7L87.3,227.5L87.9,227.3L88.4,226.5L88.9,225.8L89.5,225.4L90.0,224.7L90.5,223.5L91.1,223.2L91.6,221.7L92.1,220.8L92.7,220.3L93.2,220.0L93.7,220.8L94.3,220.8L94.8,222.2L95.3,222.6L95.9,223.2L96.4,224.2L97.0,224.6L97.5,225.1L98.0,225.6L98.6,225.8L99.1,225.5L99.6,225.5L100.2,224.9L100.7,223.5L101.2,223.1L101.8,222.2L102.3,221.0L102.8,220.3L103.4,219.3L103.9,218.2L104.5,216.8L105.0,215.8L105.5,214.8L106.1,213.1L106.6,212.3L107.1,211.2L107.7,209.8L108.2,209.0L108.7,208.0L109.3,206.7L109.8,205.3L110.3,203.7L110.9,202.5L111.4,202.1L111.9,200.8L112.5,199.3L113.0,198.2L113.6,197.2L114.1,196.3L114.6,194.8L115.2,194.0L115.7,193.3L116.2,192.2L116.8,191.3L117.3,190.7L117.8,190.4L118.4,190.0L118.9,188.9L119.4,189.0L120.0,188.5L120.5,188.5L121.0,187.7L121.6,188.0L122.1,188.5L122.7,188.4L123.2,188.8L123.7,188.7L124.3,189.1L124.8,189.3L125.3,189.5L125.9,190.9L126.4,191.8L126.9,193.5L127.5,194.6L128.0,196.8L128.5,197.9L129.1,200.1L129.6,202.5L130.1,203.8L130.7,206.0L131.2,207.5L131.8,209.7L132.3,212.2L132.8,214.1L133.4,216.3L133.9,218.4L134.4,221.1L135.0,222.8L135.5,225.1L136.0,227.5L136.6,229.4L137.1,231.8L137.6,233.8L138.2,235.7L138.7,237.9L139.3,240.2L139.8,243.0L140.3,245.4L140.9,247.9L141.4,250.5L141.9,252.9L142.5,255.0L143.0,256.7L143.5,257.7L144.1,259.1L144.6,259.4L145.1,260.0L145.7,261.1L146.2,261.2L146.7,262.0L147.3,262.7L147.8,262.9L148.4,263.3L148.9,263.8L149.4,264.3L150.0,264.5L150.5,264.8L151.0,264.8L151.6,265.4L152.1,265.4L152.6,265.8L153.2,265.7L153.7,265.8L154.2,266.5L154.8,266.5L155.3,266.8L155.8,266.7L156.4,266.6L156.9,266.5L157.5,267.0L158.0,266.8L158.5,266.9L159.1,266.9L159.6,267.1L160.1,267.1L160.7,266.8L161.2,266.7L161.7,266.9L162.3,266.6L162.8,266.9L163.3,266.5L163.9,266.5L164.4,266.6L165.0,266.6L165.5,266.4L166.0,266.3L166.6,266.5L167.1,266.6L167.6,266.1L168.2,266.2L168.7,266.7L169.2,266.5L169.8,266.3L170.3,266.2L170.8,266.6L171.4,266.3L171.9,266.2L172.4,265.6L173.0,266.1L173.5,265.9L174.1,265.9L174.6,265.5L175.1,265.6L175.7,265.4L176.2,265.8L176.7,265.1L177.3,265.0L177.8,264.8L178.3,265.3L178.9,264.8L179.4,264.4L179.9,264.5L180.5,264.4L181.0,264.2L181.5,264.0L182.1,263.8L182.6,263.5L183.2,263.2L183.7,263.1L184.2,262.9L184.8,262.4L185.3,261.9L185.8,261.8L186.4,261.2L186.9,261.8L187.4,261.1L188.0,260.7L188.5,260.7L189.0,260.3L189.6,259.8L190.1,259.4L190.6,259.7L191.2,259.0L191.7,259.0L192.3,258.7L192.8,258.6L193.3,258.6L193.9,257.8L194.4,258.3L194.9,257.8L195.5,257.9L196.0,257.4L196.5,257.4L197.1,256.9L197.6,256.4L198.1,256.5L198.7,256.3L199.2,256.4L199.8,256.2L200.3,256.1L200.8,255.6L201.4,255.3L201.9,254.5L202.4,253.9L203.0,253.8L203.5,253.3L204.0,253.1L204.6,252.4L205.1,251.8L205.6,251.3L206.2,251.2L206.7,250.3L207.2,250.0L207.8,249.6L208.3,249.0L208.9,248.8L209.4,248.4L209.9,247.6L210.5,246.9L211.0,246.4L211.5,247.0L212.1,245.6L212.6,245.3L213.1,245.0L213.7,244.1L214.2,243.5L214.7,242.8L215.3,242.9L215.8,242.1L216.3,241.4L216.9,240.3L217.4,239.7L218.0,239.3L218.5,238.7L219.0,238.5L219.6,237.8L220.1,237.1L220.6,236.6L221.2,236.1L221.7,235.1L222.2,234.4L222.8,234.4L223.3,233.4L223.8,232.2L224.4,232.2L224.9,231.5L225.5,230.8L226.0,230.3L226.5,228.8L227.1,228.3L227.6,227.8L228.1,226.6L228.7,226.8L229.2,225.8L229.7,225.0L230.3,224.5L230.8,223.7L231.3,223.0L231.9,222.5L232.4,221.6L232.9,220.8L233.5,220.7L234.0,219.9L234.6,219.4L235.1,219.1L235.6,218.1L236.2,217.4L236.7,216.4L237.2,216.3L237.8,215.7L238.3,214.6L238.8,214.4L239.4,213.6L239.9,213.2L240.4,213.2L241.0,212.2L241.5,211.6L242.0,210.7L242.6,210.2L243.1,208.9L243.7,209.3L244.2,208.6L244.7,207.9L245.3,206.7L245.8,207.1L246.3,205.8L246.9,206.0L247.4,205.3L247.9,204.3L248.5,204.3L249.0,203.9L249.5,203.1L250.1,202.4L250.6,202.4L251.2,201.6L251.7,201.5L252.2,201.2L252.8,200.4L253.3,199.7L253.8,199.5L254.4,199.7L254.9,199.4L255.4,198.8L256.0,198.5L256.5,198.7L257.0,197.9L257.6,198.0L258.1,197.7L258.6,197.4L259.2,197.2L259.7,197.3L260.3,197.3L260.8,197.3L261.3,197.0L261.9,196.6L262.4,197.1L262.9,197.1L263.5,197.2L264.0,196.7L264.5,196.8L265.1,197.1L265.6,196.7L266.1,196.8L266.7,196.9L267.2,197.3L267.7,197.1L268.3,197.7L268.8,197.6L269.4,197.5L269.9,197.8L270.4,198.3L271.0,198.5L271.5,198.8L272.0,199.2L272.6,199.4L273.1,199.8L273.6,200.2L274.2,200.4L274.7,201.2L275.2,201.5L275.8,201.9L276.3,202.2L276.8,203.0L277.4,202.8L277.9,203.0L278.5,203.3L279.0,204.8L279.5,205.0L280.1,205.6L280.6,206.0L281.1,206.3L281.7,207.0L282.2,207.9L282.7,208.1L283.3,208.1L283.8,209.1L284.3,209.3L284.9,210.3L285.4,210.7L286.0,211.0L286.5,212.3L287.0,212.2L287.6,212.8L288.1,213.8L288.6,214.1L289.2,214.9L289.7,215.3L290.2,216.0L290.8,216.7L291.3,216.6L291.8,217.2L292.4,218.0L292.9,218.3L293.4,218.7L294.0,219.4L294.5,219.3L295.1,219.9L295.6,220.7L296.1,221.2L296.7,221.0L297.2,221.0L297.7,221.3L298.3,221.5L298.8,221.7L299.3,221.8L299.9,221.5L300.4,221.7L300.9,222.0L301.5,222.2L302.0,221.9L302.5,222.4L303.1,222.2L303.6,222.4L304.2,222.8L304.7,222.8L305.2,222.9L305.8,223.3L306.3,223.7L306.8,223.6L307.4,224.0L307.9,224.1L308.4,224.6L309.0,225.0L309.5,226.1L310.0,226.3L310.6,226.6L311.1,227.2L311.7,228.5L312.2,229.0L312.7,229.4L313.3,230.9L313.8,231.9L314.3,232.5L314.9,233.2L315.4,234.6L315.9,235.7L316.5,236.8L317.0,238.5L317.5,239.7L318.1,241.4L318.6,242.6L319.1,244.3L319.7,246.0L320.2,247.7L320.8,249.1L321.3,251.0L321.8,252.4L322.4,253.4L322.9,255.1L323.4,256.5L324.0,259.3L324.5,265.8"/>
<path stroke="#ff8400" d="M56.8,187.1L57.3,186.2L57.9,184.9L58.4,183.9L58.9,182.4L59.5,180.7L60.0,179.4L60.5,178.1L61.1,177.1L61.6,175.6L62.2,174.0L62.7,173.2L63.2,172.4L63.8,171.4L64.3,171.0L64.8,169.8L65.4,168.9L65.9,168.4L66.4,168.9L67.0,169.1L67.5,170.0L68.0,171.1L68.6,171.7L69.1,172.4L69.6,173.2L70.2,173.9L70.7,174.8L71.3,175.6L71.8,177.2L72.3,178.3L72.9,180.4L73.4,181.6L73.9,183.7L74.5,185.6L75.0,187.8L75.5,190.3L76.1,192.5L76.6,194.7L77.1,197.5L77.7,200.3L78.2,202.9L78.8,205.7L79.3,208.8L79.8,212.8L80.4,215.9L80.9,219.3L81.4,220.6L82.0,221.9L82.5,223.3L83.0,224.4L83.6,224.5L84.1,225.5L84.6,225.7L85.2,226.8L85.7,227.1L86.2,227.4L86.8,227.1L87.3,227.2L87.9,227.1L88.4,226.1L88.9,225.9L89.5,225.4L90.0,224.6L90.5,223.9L91.1,222.9L91.6,221.9L92.1,221.2L92.7,220.2L93.2,220.1L93.7,220.1L94.3,220.8L94.8,221.7L95.3,222.8L95.9,223.4L96.4,224.1L97.0,224.6L97.5,224.9L98.0,225.2L98.6,225.3L99.1,225.4L99.6,224.7L100.2,224.7L100.7,223.2L101.2,222.4L101.8,221.9L102.3,220.8L102.8,219.8L103.4,219.0L103.9,218.0L104.5,216.9L105.0,215.6L105.5,214.5L106.1,213.4L106.6,211.9L107.1,210.7L107.7,209.6L108.2,208.3L108.7,206.8L109.3,205.9L109.8,204.8L110.3,203.7L110.9,202.2L111.4,200.8L111.9,200.1L112.5,198.6L113.0,197.9L113.6,197.0L114.1,195.7L114.6,194.1L115.2,193.4L115.7,192.7L116.2,191.5L116.8,190.7L117.3,190.1L117.8,189.9L118.4,188.9L118.9,188.8L119.4,187.8L120.0,188.3L120.5,187.9L121.0,187.7L121.6,187.9L122.1,187.7L122.7,188.1L123.2,188.3L123.7,188.1L124.3,188.9L124.8,188.5L125.3,189.2L125.9,190.4L126.4,191.0L126.9,192.3L127.5,194.3L128.0,195.5L128.5,197.7L129.1,199.6L129.6,201.3L130.1,203.5L130.7,205.0L131.2,207.2L131.8,209.2L132.3,211.3L132.8,213.9L133.4,215.9L133.9,218.4L134.4,220.4L135.0,222.7L135.5,225.2L136.0,227.3L136.6,228.9L137.1,231.0L137.6,233.6L138.2,235.7L138.7,237.9L139.3,240.5L139.8,242.4L140.3,245.2L140.9,248.0L141.4,250.3L141.9,252.9L142.5,255.3L143.0,256.6L143.5,257.8L144.1,258.9L144.6,259.7L145.1,260.5L145.7,261.2L146.2,261.3L146.7,262.2L147.3,262.6L147.8,263.0L148.4,263.3L148.9,264.1L149.4,264.5L150.0,264.7L150.5,265.3L151.0,265.4L151.6,265.2L152.1,265.6L152.6,266.0L153.2,266.3L153.7,266.3L154.2,267.0L154.8,267.0L155.3,266.6L155.8,267.0L156.4,267.2L156.9,267.5L157.5,267.4L158.0,267.6L158.5,267.3L159.1,267.3L159.6,267.4L160.1,267.0L160.7,267.2L161.2,267.6L161.7,267.1L162.3,266.8L162.8,267.2L163.3,266.9L163.9,267.1L164.4,267.3L165.0,267.2L165.5,267.2L166.0,267.4L166.6,267.1L167.1,267.2L167.6,266.6L168.2,267.0L168.7,267.3L169.2,267.3L169.8,266.7L170.3,266.9L170.8,267.2L171.4,267.0L171.9,266.7L172.4,266.7L173.0,266.1L173.5,266.4L174.1,266.5L174.6,266.7L175.1,266.0L175.7,265.9L176.2,266.0L176.7,265.6L177.3,265.7L177.8,265.5L178.3,264.9L178.9,265.6L179.4,265.0L179.9,264.9L180.5,265.1L181.0,264.1L181.5,264.9L182.1,264.2L182.6,264.3L183.2,264.1L183.7,263.5L184.2,263.4L184.8,262.9L185.3,262.8L185.8,262.6L186.4,262.3L186.9,262.2L187.4,261.6L188.0,261.2L188.5,261.2L189.0,260.9L189.6,260.6L190.1,260.8L190.6,260.7L191.2,260.2L191.7,259.7L192.3,259.4L192.8,259.2L193.3,259.3L193.9,259.2L194.4,258.9L194.9,258.8L195.5,258.5L196.0,258.2L196.5,258.2L197.1,258.4L197.6,257.4L198.1,257.0L198.7,257.6L199.2,257.4L199.8,256.7L200.3,257.0L200.8,256.6L201.4,255.9L201.9,255.1L202.4,254.9L203.0,255.0L203.5,253.8L204.0,254.0L204.6,253.3L205.1,253.3L205.6,252.4L206.2,252.0L206.7,252.0L207.2,251.5L207.8,250.6L208.3,250.2L208.9,250.1L209.4,249.4L209.9,248.8L210.5,248.7L211.0,248.4L211.5,247.5L212.1,247.0L212.6,246.4L213.1,246.1L213.7,245.6L214.2,245.1L214.7,244.4L215.3,243.5L215.8,243.3L216.3,242.9L216.9,241.9L217.4,241.7L218.0,240.9L218.5,240.2L219.0,239.5L219.6,239.5L220.1,239.0L220.6,238.4L221.2,237.6L221.7,236.7L222.2,236.6L222.8,235.8L223.3,235.2L223.8,234.6L224.4,233.7L224.9,232.7L225.5,232.5L226.0,231.9L226.5,231.3L227.1,230.5L227.6,229.6L228.1,229.2L228.7,228.1L229.2,227.7L229.7,227.3L230.3,226.5L230.8,225.6L231.3,225.2L231.9,224.7L232.4,223.8L232.9,223.4L233.5,222.7L234.0,221.8L234.6,221.2L235.1,220.7L235.6,220.3L236.2,219.2L236.7,219.0L237.2,217.8L237.8,218.0L238.3,217.4L238.8,216.7L239.4,215.8L239.9,215.7L240.4,214.9L241.0,214.6L241.5,213.8L242.0,213.0L242.6,212.5L243.1,212.3L243.7,211.6L244.2,211.0L244.7,210.7L245.3,210.1L245.8,209.5L246.3,208.9L246.9,208.4L247.4,207.2L247.9,207.5L248.5,206.9L249.0,206.1L249.5,205.8L250.1,205.9L250.6,205.0L251.2,204.3L251.7,204.1L252.2,203.8L252.8,203.3L253.3,202.7L253.8,202.6L254.4,202.5L254.9,202.3L255.4,202.1L256.0,201.5L256.5,201.1L257.0,201.0L257.6,200.6L258.1,200.9L258.6,200.2L259.2,200.8L259.7,200.1L260.3,200.3L260.8,200.2L261.3,200.3L261.9,200.1L262.4,199.8L262.9,200.1L263.5,199.8L264.0,200.0L264.5,200.2L265.1,199.7L265.6,200.0L266.1,199.9L266.7,199.6L267.2,199.7L267.7,200.4L268.3,200.3L268.8,200.3L269.4,200.8L269.9,201.2L270.4,200.9L271.0,200.9L271.5,201.5L272.0,202.1L272.6,202.5L273.1,202.8L273.6,203.1L274.2,203.4L274.7,203.9L275.2,204.3L275.8,204.3L276.3,205.0L276.8,205.3L277.4,205.8L277.9,205.9L278.5,206.4L279.0,207.1L279.5,208.0L280.1,207.8L280.6,208.5L281.1,209.2L281.7,209.4L282.2,210.1L282.7,210.8L283.3,210.7L283.8,211.3L284.3,212.9L284.9,212.5L285.4,213.4L286.0,213.5L286.5,214.8L287.0,215.0L287.6,215.8L288.1,216.3L288.6,216.8L289.2,217.3L289.7,218.2L290.2,218.6L290.8,219.0L291.3,219.8L291.8,220.0L292.4,220.8L292.9,221.0L293.4,221.7L294.0,222.2L294.5,222.2L295.1,222.2L295.6,222.6L296.1,222.8L296.7,223.2L297.2,223.5L297.7,223.6L298.3,224.1L298.8,224.0L299.3,224.3L299.9,223.9L300.4,224.2L300.9,224.5L301.5,224.5L302.0,224.3L302.5,224.7L303.1,224.7L303.6,224.8L304.2,225.0L304.7,224.6L305.2,225.2L305.8,225.7L306.3,225.9L306.8,225.4L307.4,226.2L307.9,226.8L308.4,227.4L309.0,227.2L309.5,227.2L310.0,228.1L310.6,228.9L311.1,229.2L311.7,230.3L312.2,231.1L312.7,231.8L313.3,232.7L313.8,233.8L314.3,234.4L314.9,235.0L315.4,236.9L315.9,238.0L316.5,238.8L317.0,240.3L317.5,241.6L318.1,242.9L318.6,244.3L319.1,246.0L319.7,247.5L320.2,249.1L320.8,250.9L321.3,252.2L321.8,254.0L322.4,255.6L322.9,256.3L323.4,258.4L324.0,260.6L324.5,266.8"/>
<path stroke="#ff6600" d="M56.8,187.3L57.3,186.6L57.9,185.1L58.4,183.8L58.9,182.6L59.5,180.7L60.0,180.2L60.5,178.6L61.1,177.2L61.6,175.4L62.2,174.4L62.7,173.7L63.2,172.6L63.8,172.0L64.3,171.1L64.8,169.6L65.4,169.4L65.9,168.3L66.4,168.9L67.0,170.0L67.5,170.3L68.0,171.4L68.6,172.3L69.1,172.5L69.6,173.4L70.2,174.1L70.7,175.7L71.3,175.8L71.8,176.8L72.3,179.0L72.9,180.3L73.4,182.2L73.9,184.0L74.5,186.1L75.0,188.2L75.5,190.4L76.1,192.9L76.6,195.2L77.1,197.3L77.7,200.0L78.2,203.1L78.8,205.9L79.3,209.3L79.8,212.6L80.4,216.1L80.9,219.3L81.4,220.9L82.0,221.6L82.5,223.0L83.0,224.3L83.6,224.6L84.1,225.5L84.6,225.8L85.2,226.5L85.7,227.2L86.2,227.2L86.8,226.7L87.3,226.8L87.9,226.7L88.4,226.3L88.9,225.8L89.5,225.0L90.0,224.0L90.5,223.2L91.1,222.1L91.6,221.8L92.1,220.8L92.7,219.8L93.2,219.9L93.7,219.8L94.3,220.8L94.8,221.4L95.3,222.6L95.9,222.8L96.4,223.7L97.0,224.4L97.5,224.7L98.0,225.4L98.6,224.6L99.1,225.1L99.6,224.8L100.2,224.5L100.7,223.0L101.2,222.1L101.8,221.6L102.3,220.7L102.8,219.4L103.4,218.3L103.9,217.9L104.5,216.7L105.0,215.1L105.5,213.7L106.1,213.2L106.6,211.6L107.1,210.0L107.7,209.3L108.2,207.8L108.7,206.6L109.3,205.5L109.8,204.6L110.3,202.9L110.9,201.7L111.4,200.3L111.9,199.7L112.5,198.1L113.0,196.6L113.6,196.1L114.1,195.4L114.6,193.9L115.2,193.3L115.7,191.9L116.2,190.9L116.8,190.2L117.3,189.3L117.8,189.2L118.4,188.5L118.9,187.9L119.4,187.7L120.0,187.4L120.5,187.0L121.0,187.0L121.6,187.1L122.1,187.2L122.7,187.3L123.2,187.4L123.7,187.5L124.3,188.3L124.8,188.3L125.3,188.7L125.9,189.2L126.4,190.4L126.9,192.2L127.5,193.8L128.0,195.5L128.5,197.2L129.1,199.4L129.6,201.3L130.1,202.9L130.7,204.6L131.2,206.4L131.8,208.6L132.3,211.2L132.8,213.6L133.4,215.3L133.9,218.3L134.4,220.3L135.0,222.6L135.5,224.5L136.0,226.8L136.6,229.0L137.1,231.2L137.6,233.7L138.2,235.7L138.7,238.0L139.3,239.9L139.8,242.8L140.3,245.4L140.9,247.2L141.4,250.6L141.9,252.8L142.5,255.1L143.0,256.6L143.5,257.8L144.1,259.1L144.6,260.1L145.1,260.7L145.7,261.3L146.2,261.9L146.7,262.6L147.3,263.1L147.8,263.7L148.4,263.8L148.9,264.5L149.4,264.7L150.0,265.1L150.5,265.7L151.0,265.6L151.6,266.2L152.1,265.6L152.6,266.4L153.2,266.5L153.7,267.1L154.2,266.9L154.8,266.8L155.3,267.3L155.8,267.5L156.4,267.4L156.9,267.6L157.5,267.5L158.0,268.0L158.5,267.5L159.1,267.7L159.6,267.4L160.1,267.6L160.7,267.7L161.2,267.4L161.7,267.8L162.3,267.7L162.8,267.8L163.3,267.4L163.9,267.4L164.4,267.2L165.0,267.8L165.5,267.5L166.0,267.7L166.6,267.3L167.1,267.6L167.6,267.8L168.2,267.0L168.7,267.2L169.2,267.0L169.8,267.1L170.3,267.2L170.8,267.3L171.4,267.1L171.9,267.2L172.4,267.2L173.0,267.6L173.5,266.8L174.1,266.8L174.6,266.9L175.1,266.5L175.7,266.5L176.2,266.7L176.7,266.1L177.3,266.4L177.8,265.7L178.3,265.7L178.9,265.7L179.4,265.9L179.9,265.5L180.5,265.3L181.0,265.4L181.5,265.0L182.1,264.9L182.6,264.8L183.2,264.0L183.7,264.1L184.2,263.9L184.8,263.8L185.3,263.0L185.8,263.3L186.4,262.4L186.9,262.3L187.4,262.8L188.0,262.2L188.5,261.4L189.0,261.6L189.6,261.5L190.1,261.0L190.6,261.1L191.2,260.7L191.7,260.8L192.3,260.2L192.8,260.0L193.3,259.9L193.9,260.1L194.4,259.8L194.9,259.7L195.5,258.7L196.0,259.4L196.5,259.0L197.1,259.2L197.6,258.4L198.1,258.8L198.7,258.4L199.2,258.1L199.8,258.0L200.3,257.2L200.8,257.3L201.4,256.8L201.9,256.6L202.4,256.1L203.0,255.5L203.5,255.2L204.0,255.0L204.6,254.7L205.1,253.7L205.6,253.6L206.2,253.1L206.7,252.7L207.2,252.0L207.8,251.9L208.3,251.7L208.9,251.4L209.4,250.6L209.9,250.5L210.5,249.5L211.0,248.9L211.5,249.2L212.1,248.4L212.6,248.0L213.1,246.7L213.7,247.0L214.2,246.0L214.7,245.3L215.3,245.3L215.8,244.7L216.3,243.9L216.9,244.3L217.4,243.3L218.0,242.7L218.5,242.5L219.0,241.8L219.6,241.0L220.1,240.5L220.6,240.4L221.2,239.2L221.7,238.5L222.2,237.9L222.8,237.6L223.3,237.2L223.8,236.4L224.4,235.7L224.9,235.0L225.5,234.5L226.0,233.7L226.5,233.2L227.1,232.6L227.6,231.4L228.1,231.1L228.7,230.6L229.2,229.6L229.7,229.0L230.3,228.6L230.8,227.8L231.3,226.9L231.9,226.8L232.4,225.9L232.9,225.0L233.5,224.6L234.0,223.9L234.6,223.9L235.1,223.0L235.6,221.9L236.2,221.7L236.7,220.9L237.2,220.7L237.8,220.0L238.3,219.3L238.8,218.7L239.4,218.4L239.9,217.6L240.4,217.5L241.0,217.1L241.5,216.5L242.0,215.7L242.6,215.3L243.1,214.9L243.7,214.2L244.2,213.6L244.7,212.9L245.3,212.5L245.8,212.4L246.3,211.7L246.9,210.8L247.4,210.3L247.9,210.3L248.5,209.6L249.0,209.3L249.5,208.8L250.1,208.3L250.6,207.7L251.2,207.3L251.7,207.0L252.2,206.8L252.8,206.4L253.3,205.3L253.8,205.5L254.4,204.8L254.9,204.6L255.4,204.6L256.0,204.5L256.5,204.7L257.0,204.1L257.6,203.5L258.1,204.1L258.6,203.8L259.2,203.2L259.7,203.4L260.3,203.1L260.8,203.2L261.3,203.0L261.9,203.1L262.4,203.1L262.9,203.0L263.5,202.8L264.0,202.9L264.5,203.4L265.1,202.9L265.6,202.6L266.1,203.0L266.7,203.4L267.2,203.2L267.7,203.6L268.3,203.1L268.8,203.5L269.4,203.7L269.9,204.0L270.4,204.0L271.0,204.4L271.5,204.4L272.0,204.8L272.6,205.6L273.1,205.8L273.6,206.0L274.2,206.2L274.7,206.7L275.2,207.3L275.8,207.6L276.3,207.8L276.8,207.9L277.4,208.8L277.9,209.2L278.5,209.4L279.0,209.9L279.5,210.3L280.1,210.8L280.6,211.2L281.1,211.6L281.7,212.4L282.2,212.5L282.7,213.3L283.3,213.9L283.8,214.4L284.3,214.7L284.9,215.2L285.4,216.1L286.0,216.3L286.5,217.0L287.0,217.8L287.6,218.2L288.1,218.6L288.6,218.9L289.2,219.8L289.7,220.5L290.2,221.1L290.8,221.6L291.3,221.8L291.8,222.7L292.4,223.0L292.9,223.6L293.4,223.8L294.0,224.1L294.5,224.3L295.1,224.6L295.6,225.3L296.1,225.7L296.7,225.5L297.2,225.8L297.7,226.1L298.3,226.3L298.8,226.3L299.3,226.7L299.9,226.7L300.4,226.7L300.9,226.7L301.5,226.8L302.0,227.1L302.5,227.1L303.1,227.1L303.6,227.1L304.2,227.3L304.7,227.7L305.2,227.6L305.8,227.4L306.3,228.5L306.8,228.2L307.4,228.7L307.9,229.2L308.4,229.2L309.0,229.4L309.5,230.3L310.0,230.4L310.6,230.7L311.1,231.7L311.7,232.2L312.2,233.0L312.7,234.1L313.3,234.4L313.8,235.6L314.3,236.2L314.9,237.7L315.4,238.8L315.9,239.8L316.5,240.4L317.0,242.0L317.5,243.3L318.1,244.9L318.6,246.6L319.1,248.2L319.7,249.6L320.2,250.8L320.8,252.0L321.3,254.3L321.8,256.0L322.4,256.7L322.9,258.0L323.4,259.9L324.0,262.7L324.5,267.5"/>
<path stroke="#ff4800" d="M56.8,188.1L57.3,186.0L57.9,185.3L58.4,184.2L58.9,182.9L59.5,180.8L60.0,179.9L60.5,178.6L61.1,177.6L61.6,175.9L62.2,174.6L62.7,173.4L63.2,173.1L63.8,171.7L64.3,171.4L64.8,170.5L65.4,169.4L65.9,168.5L66.4,169.5L67.0,170.1L67.5,170.7L68.0,171.1L68.6,171.7L69.1,172.6L69.6,173.4L70.2,174.3L70.7,175.5L71.3,176.3L71.8,177.4L72.3,179.1L72.9,180.2L73.4,182.3L73.9,184.0L74.5,186.6L75.0,188.5L75.5,190.8L76.1,193.0L76.6,195.2L77.1,197.3L77.7,200.2L78.2,203.2L78.8,205.6L79.3,209.3L79.8,212.4L80.4,216.4L80.9,219.6L81.4,220.4L82.0,222.3L82.5,223.3L83.0,223.9L83.6,224.8L84.1,225.6L84.6,225.9L85.2,226.1L85.7,226.6L86.2,227.0L86.8,227.0L87.3,227.1L87.9,226.4L88.4,226.1L88.9,225.8L89.5,224.9L90.0,224.1L90.5,223.3L91.1,222.4L91.6,221.6L92.1,220.4L92.7,220.0L93.2,220.0L93.7,220.0L94.3,220.2L94.8,221.1L95.3,222.3L95.9,222.7L96.4,223.4L97.0,224.3L97.5,224.5L98.0,225.1L98.6,225.3L99.1,224.9L99.6,224.8L100.2,223.9L100.7,222.8L101.2,221.9L101.8,221.2L102.3,220.1L102.8,219.7L103.4,218.3L103.9,217.5L104.5,215.9L105.0,215.0L105.5,213.8L106.1,212.5L106.6,211.6L107.1,210.8L107.7,209.1L108.2,207.8L108.7,206.2L109.3,205.3L109.8,203.9L110.3,202.8L110.9,201.5L111.4,200.1L111.9,199.1L112.5,197.7L113.0,196.4L113.6,195.4L114.1,194.8L114.6,193.3L115.2,192.3L115.7,191.3L116.2,190.7L116.8,189.6L117.3,189.1L117.8,188.8L118.4,187.9L118.9,187.7L119.4,187.6L120.0,186.9L120.5,187.0L121.0,186.7L121.6,186.6L122.1,187.2L122.7,187.0L123.2,187.1L123.7,187.4L124.3,187.7L124.8,188.1L125.3,188.4L125.9,189.3L126.4,190.1L126.9,191.7L127.5,193.0L128.0,194.9L128.5,196.8L129.1,198.6L129.6,200.8L130.1,202.1L130.7,204.1L131.2,206.4L131.8,208.5L132.3,210.8L132.8,213.3L133.4,215.2L133.9,217.9L134.4,219.9L135.0,222.2L135.5,224.5L136.0,226.6L136.6,228.7L137.1,231.4L137.6,233.8L138.2,235.7L138.7,237.7L139.3,240.0L139.8,242.4L140.3,245.1L140.9,247.6L141.4,250.8L141.9,253.1L142.5,254.6L143.0,257.0L143.5,258.2L144.1,259.1L144.6,259.8L145.1,260.6L145.7,261.4L146.2,261.9L146.7,262.3L147.3,263.2L147.8,263.9L148.4,264.2L148.9,264.6L149.4,264.8L150.0,265.5L150.5,265.3L151.0,265.8L151.6,265.8L152.1,266.4L152.6,266.7L153.2,266.2L153.7,267.5L154.2,267.3L154.8,267.5L155.3,267.7L155.8,268.0L156.4,267.6L156.9,268.1L157.5,268.2L158.0,268.0L158.5,268.1L159.1,268.4L159.6,268.4L160.1,268.1L160.7,267.9L161.2,268.0L161.7,267.9L162.3,267.9L162.8,268.2L163.3,267.8L163.9,267.9L164.4,267.5L165.0,267.8L165.5,268.1L166.0,267.9L166.6,268.4L167.1,268.1L167.6,267.8L168.2,267.8L168.7,267.7L169.2,268.0L169.8,268.1L170.3,268.0L170.8,268.1L171.4,267.4L171.9,267.9L172.4,267.9L173.0,267.1L173.5,267.5L174.1,267.2L174.6,267.1L175.1,267.2L175.7,267.0L176.2,266.6L176.7,266.8L177.3,267.1L177.8,267.0L178.3,266.7L178.9,266.3L179.4,266.0L179.9,265.8L180.5,265.6L181.0,265.4L181.5,265.1L182.1,265.3L182.6,265.0L183.2,265.4L183.7,264.6L184.2,264.0L184.8,264.2L185.3,263.7L185.8,263.7L186.4,263.4L186.9,263.4L187.4,262.9L188.0,262.9L188.5,262.5L189.0,262.5L189.6,262.2L190.1,261.7L190.6,261.9L191.2,261.4L191.7,261.2L192.3,261.4L192.8,261.3L193.3,261.1L193.9,260.5L194.4,260.6L194.9,260.3L195.5,259.8L196.0,260.1L196.5,259.6L197.1,259.7L197.6,259.6L198.1,259.7L198.7,259.4L199.2,258.5L199.8,258.8L200.3,258.8L200.8,258.0L201.4,257.9L201.9,257.5L202.4,257.0L203.0,257.2L203.5,256.7L204.0,256.0L204.6,255.5L205.1,255.1L205.6,254.5L206.2,254.6L206.7,253.7L207.2,254.0L207.8,253.1L208.3,252.6L208.9,252.1L209.4,251.7L209.9,251.4L210.5,251.0L211.0,250.8L211.5,250.0L212.1,249.6L212.6,249.1L213.1,248.8L213.7,248.5L214.2,247.4L214.7,247.6L215.3,246.8L215.8,245.9L216.3,245.4L216.9,245.6L217.4,244.5L218.0,244.3L218.5,243.5L219.0,242.9L219.6,242.4L220.1,242.5L220.6,241.7L221.2,240.8L221.7,240.2L222.2,239.4L222.8,239.0L223.3,238.3L223.8,237.7L224.4,237.2L224.9,237.0L225.5,235.6L226.0,235.3L226.5,234.9L227.1,234.2L227.6,233.7L228.1,232.9L228.7,232.6L229.2,231.4L229.7,231.2L230.3,230.1L230.8,229.9L231.3,229.0L231.9,228.3L232.4,227.9L232.9,227.4L233.5,226.8L234.0,226.3L234.6,225.7L235.1,224.7L235.6,224.8L236.2,224.2L236.7,223.6L237.2,222.9L237.8,222.2L238.3,221.9L238.8,221.1L239.4,221.0L239.9,220.2L240.4,219.7L241.0,219.5L241.5,218.8L242.0,218.3L242.6,217.9L243.1,217.4L243.7,216.5L244.2,216.4L244.7,215.5L245.3,215.0L245.8,214.6L246.3,214.1L246.9,214.1L247.4,213.3L247.9,212.6L248.5,212.1L249.0,211.6L249.5,211.2L250.1,211.0L250.6,210.7L251.2,210.3L251.7,209.7L252.2,209.4L252.8,208.7L253.3,208.9L253.8,208.7L254.4,208.3L254.9,207.4L255.4,207.7L256.0,207.8L256.5,206.9L257.0,207.2L257.6,206.9L258.1,207.0L258.6,206.5L259.2,206.4L259.7,206.6L260.3,206.3L260.8,206.6L261.3,205.8L261.9,206.3L262.4,206.2L262.9,206.2L263.5,206.2L264.0,205.9L264.5,206.1L265.1,205.8L265.6,205.9L266.1,205.8L266.7,205.8L267.2,206.4L267.7,206.3L268.3,206.7L268.8,206.7L269.4,206.6L269.9,206.9L270.4,207.4L271.0,207.3L271.5,207.7L272.0,207.8L272.6,208.8L273.1,208.8L273.6,208.6L274.2,209.6L274.7,209.6L275.2,210.0L275.8,210.4L276.3,210.7L276.8,211.0L277.4,211.5L277.9,211.9L278.5,212.1L279.0,212.5L279.5,212.9L280.1,214.0L280.6,213.7L281.1,214.4L281.7,215.0L282.2,215.2L282.7,215.7L283.3,216.2L283.8,217.1L284.3,217.8L284.9,217.6L285.4,218.4L286.0,219.2L286.5,219.7L287.0,220.2L287.6,220.5L288.1,221.5L288.6,222.0L289.2,221.8L289.7,223.2L290.2,223.3L290.8,223.9L291.3,224.4L291.8,224.7L292.4,225.5L292.9,225.6L293.4,226.3L294.0,226.8L294.5,227.2L295.1,227.5L295.6,227.5L296.1,227.7L296.7,228.2L297.2,228.6L297.7,228.8L298.3,228.8L298.8,228.5L299.3,228.8L299.9,229.1L300.4,228.8L300.9,229.6L301.5,229.8L302.0,229.8L302.5,229.3L303.1,229.9L303.6,229.9L304.2,229.9L304.7,230.1L305.2,230.0L305.8,230.2L306.3,230.6L306.8,230.6L307.4,231.4L307.9,231.0L308.4,231.7L309.0,232.1L309.5,232.3L310.0,232.5L310.6,233.2L311.1,233.7L311.7,234.5L312.2,235.3L312.7,235.5L313.3,236.4L313.8,237.8L314.3,238.3L314.9,239.6L315.4,240.6L315.9,241.4L316.5,242.5L317.0,243.6L317.5,245.0L318.1,246.7L318.6,248.2L319.1,249.7L319.7,251.1L320.2,252.2L320.8,253.9L321.3,255.4L321.8,257.8L322.4,258.4L322.9,260.1L323.4,261.7L324.0,264.0L324.5,268.6"/>
<path stroke="#ff2f00" d="M56.8,188.3L57.3,187.0L57.9,185.5L58.4,184.4L58.9,182.6L59.5,181.8L60.0,180.7L60.5,178.9L61.1,177.7L61.6,176.2L62.2,174.8L62.7,173.7L63.2,172.8L63.8,172.3L64.3,171.8L64.8,171.0L65.4,169.2L65.9,168.7L66.4,169.2L67.0,170.1L67.5,170.6L68.0,171.2L68.6,172.3L69.1,173.0L69.6,173.6L70.2,174.9L70.7,175.8L71.3,176.4L71.8,177.6L72.3,179.2L72.9,181.2L73.4,182.4L73.9,184.4L74.5,186.1L75.0,188.6L75.5,190.9L76.1,192.8L76.6,195.2L77.1,197.1L77.7,200.3L78.2,203.2L78.8,205.8L79.3,208.9L79.8,212.6L80.4,216.0L80.9,219.6L81.4,220.7L82.0,221.9L82.5,222.7L83.0,224.3L83.6,224.4L84.1,225.3L84.6,225.6L85.2,226.2L85.7,227.2L86.2,227.1L86.8,227.0L87.3,227.1L87.9,226.7L88.4,225.9L88.9,225.4L89.5,224.7L90.0,223.9L90.5,223.4L91.1,222.6L91.6,221.5L92.1,220.3L92.7,220.0L93.2,219.6L93.7,219.6L94.3,220.5L94.8,221.4L95.3,222.5L95.9,222.7L96.4,223.3L97.0,224.1L97.5,224.5L98.0,225.2L98.6,225.4L99.1,225.3L99.6,224.4L100.2,224.0L100.7,222.9L101.2,222.1L101.8,220.9L102.3,220.2L102.8,219.6L103.4,218.6L103.9,217.3L104.5,215.9L105.0,214.9L105.5,213.4L106.1,212.2L106.6,211.3L107.1,210.1L107.7,208.9L108.2,207.6L108.7,206.3L109.3,205.0L109.8,204.1L110.3,202.5L110.9,201.3L111.4,199.9L111.9,199.1L112.5,197.4L113.0,196.6L113.6,195.6L114.1,194.5L114.6,193.5L115.2,192.2L115.7,191.0L116.2,190.3L116.8,189.5L117.3,188.8L117.8,188.1L118.4,187.6L118.9,187.9L119.4,186.9L120.0,186.5L120.5,186.4L121.0,186.2L121.6,185.9L122.1,186.3L122.7,186.5L123.2,186.7L123.7,187.3L124.3,187.5L124.8,187.8L125.3,187.6L125.9,188.7L126.4,190.2L126.9,191.4L127.5,193.0L128.0,194.9L128.5,196.4L129.1,198.5L129.6,200.3L130.1,202.5L130.7,204.4L131.2,206.2L131.8,208.4L132.3,210.4L132.8,213.3L133.4,215.0L133.9,217.6L134.4,219.8L135.0,221.9L135.5,224.5L136.0,226.6L136.6,228.7L137.1,231.1L137.6,233.5L138.2,235.3L138.7,237.8L139.3,240.1L139.8,242.4L140.3,245.3L140.9,247.6L141.4,250.4L141.9,252.7L142.5,255.3L143.0,256.7L143.5,258.0L144.1,259.1L144.6,260.1L145.1,260.8L145.7,261.5L146.2,262.4L146.7,263.3L147.3,263.5L147.8,263.4L148.4,264.4L148.9,264.5L149.4,265.3L150.0,265.9L150.5,265.7L151.0,265.9L151.6,266.2L152.1,266.5L152.6,266.8L153.2,266.8L153.7,267.3L154.2,267.4L154.8,267.2L155.3,268.3L155.8,267.9L156.4,267.6L156.9,268.6L157.5,268.7L158.0,268.5L158.5,268.4L159.1,268.0L159.6,268.5L160.1,268.7L160.7,268.0L161.2,268.4L161.7,268.3L162.3,268.3L162.8,268.6L163.3,268.4L163.9,268.1L164.4,268.1L165.0,268.6L165.5,268.2L166.0,268.5L166.6,268.1L167.1,268.3L167.6,268.3L168.2,268.2L168.7,267.8L169.2,268.2L169.8,267.7L170.3,268.1L170.8,268.1L171.4,268.0L171.9,268.0L172.4,267.9L173.0,267.3L173.5,268.0L174.1,267.6L174.6,267.5L175.1,267.4L175.7,267.3L176.2,267.0L176.7,267.3L177.3,266.7L177.8,266.5L178.3,266.8L178.9,266.4L179.4,266.8L179.9,266.1L180.5,265.9L181.0,265.6L181.5,265.8L182.1,265.1L182.6,265.2L183.2,264.9L183.7,264.8L184.2,264.8L184.8,264.8L185.3,264.3L185.8,264.3L186.4,263.7L186.9,264.0L187.4,263.8L188.0,263.2L188.5,263.3L189.0,262.8L189.6,262.6L190.1,262.4L190.6,262.3L191.2,262.3L191.7,262.2L192.3,262.0L192.8,261.6L193.3,261.6L193.9,261.1L194.4,260.8L194.9,261.3L195.5,260.8L196.0,261.1L196.5,260.8L197.1,260.2L197.6,260.7L198.1,260.4L198.7,260.2L199.2,260.3L199.8,260.0L200.3,259.4L200.8,259.3L201.4,258.8L201.9,258.7L202.4,258.7L203.0,257.8L203.5,257.6L204.0,256.8L204.6,256.8L205.1,255.7L205.6,256.2L206.2,255.5L206.7,254.5L207.2,254.5L207.8,254.2L208.3,253.6L208.9,253.1L209.4,253.2L209.9,252.6L210.5,251.8L211.0,251.5L211.5,251.5L212.1,250.8L212.6,250.2L213.1,250.2L213.7,249.2L214.2,248.7L214.7,248.9L215.3,248.2L215.8,247.8L216.3,247.5L216.9,246.8L217.4,246.5L218.0,245.5L218.5,245.1L219.0,245.0L219.6,244.5L220.1,243.4L220.6,243.2L221.2,242.2L221.7,242.1L222.2,241.5L222.8,240.8L223.3,240.5L223.8,239.8L224.4,239.0L224.9,237.9L225.5,238.0L226.0,237.2L226.5,236.9L227.1,236.1L227.6,235.6L228.1,235.0L228.7,234.4L229.2,233.8L229.7,232.8L230.3,232.2L230.8,232.1L231.3,230.9L231.9,230.5L232.4,230.1L232.9,229.8L233.5,228.9L234.0,228.3L234.6,228.2L235.1,227.7L235.6,226.5L236.2,226.4L236.7,225.6L237.2,225.3L237.8,224.8L238.3,223.9L238.8,223.8L239.4,222.8L239.9,222.5L240.4,221.7L241.0,221.7L241.5,221.2L242.0,220.7L242.6,220.2L243.1,219.4L243.7,219.6L244.2,218.4L244.7,218.3L245.3,218.0L245.8,217.5L246.3,216.7L246.9,216.3L247.4,215.8L247.9,215.4L248.5,214.7L249.0,214.5L249.5,214.3L250.1,213.6L250.6,213.3L251.2,212.9L251.7,212.3L252.2,212.2L252.8,212.2L253.3,211.9L253.8,211.5L254.4,211.4L254.9,211.0L255.4,210.7L256.0,210.0L256.5,210.1L257.0,209.8L257.6,209.9L258.1,209.9L258.6,210.1L259.2,209.7L259.7,209.3L260.3,209.6L260.8,209.0L261.3,209.0L261.9,209.1L262.4,209.1L262.9,208.7L263.5,209.1L264.0,209.1L264.5,209.1L265.1,209.3L265.6,209.1L266.1,209.4L266.7,208.9L267.2,209.3L267.7,209.7L268.3,209.2L268.8,209.8L269.4,209.9L269.9,210.1L270.4,210.5L271.0,210.5L271.5,210.6L272.0,211.3L272.6,211.3L273.1,211.7L273.6,211.7L274.2,212.2L274.7,213.0L275.2,212.7L275.8,213.0L276.3,213.7L276.8,214.0L277.4,214.3L277.9,214.7L278.5,215.2L279.0,215.0L279.5,216.0L280.1,216.3L280.6,216.7L281.1,217.2L281.7,217.2L282.2,217.9L282.7,218.1L283.3,219.2L283.8,219.3L284.3,220.0L284.9,220.4L285.4,221.4L286.0,221.7L286.5,222.2L287.0,222.8L287.6,223.1L288.1,223.7L288.6,224.2L289.2,224.8L289.7,225.7L290.2,225.8L290.8,226.7L291.3,226.7L291.8,227.7L292.4,227.7L292.9,228.9L293.4,228.4L294.0,229.1L294.5,229.4L295.1,229.9L295.6,230.2L296.1,230.5L296.7,230.4L297.2,230.9L297.7,231.1L298.3,231.3L298.8,231.6L299.3,231.6L299.9,231.6L300.4,231.9L300.9,231.4L301.5,231.9L302.0,231.9L302.5,231.9L303.1,232.4L303.6,232.1L304.2,232.4L304.7,232.4L305.2,232.6L305.8,232.7L306.3,232.7L306.8,233.1L307.4,233.4L307.9,233.1L308.4,233.9L309.0,234.1L309.5,234.5L310.0,234.8L310.6,235.6L311.1,235.6L311.7,236.1L312.2,237.4L312.7,237.6L313.3,238.5L313.8,239.5L314.3,240.6L314.9,241.6L315.4,242.3L315.9,243.0L316.5,244.3L317.0,245.5L317.5,247.3L318.1,248.6L318.6,249.9L319.1,250.9L319.7,252.9L320.2,254.4L320.8,255.4L321.3,257.0L321.8,258.8L322.4,259.8L322.9,262.0L323.4,263.5L324.0,265.9L324.5,270.0"/>
<path stroke="#ff1500" d="M56.8,188.3L57.3,186.9L57.9,185.9L58.4,184.3L58.9,183.2L59.5,181.9L60.0,180.6L60.5,179.1L61.1,177.7L61.6,176.3L62.2,175.2L62.7,174.1L63.2,173.2L63.8,172.0L64.3,171.4L64.8,170.7L65.4,169.5L65.9,168.7L66.4,169.5L67.0,170.2L67.5,170.3L68.0,171.5L68.6,172.2L69.1,173.3L69.6,173.8L70.2,175.1L70.7,175.7L71.3,176.5L71.8,177.9L72.3,179.5L72.9,180.9L73.4,182.4L73.9,184.6L74.5,186.9L75.0,188.9L75.5,191.0L76.1,193.1L76.6,195.5L77.1,197.7L77.7,200.3L78.2,203.1L78.8,206.1L79.3,209.3L79.8,213.2L80.4,216.3L80.9,219.4L81.4,220.8L82.0,222.3L82.5,223.2L83.0,223.6L83.6,225.1L84.1,225.5L84.6,225.8L85.2,226.6L85.7,226.8L86.2,226.9L86.8,227.1L87.3,227.0L87.9,226.6L88.4,226.2L88.9,225.1L89.5,224.8L90.0,224.2L90.5,223.3L91.1,222.3L91.6,221.0L92.1,220.2L92.7,219.7L93.2,219.5L93.7,219.9L94.3,220.1L94.8,221.4L95.3,221.9L95.9,223.2L96.4,223.3L97.0,224.1L97.5,224.9L98.0,225.5L98.6,225.1L99.1,224.8L99.6,224.5L100.2,224.2L100.7,222.5L101.2,222.1L101.8,221.3L102.3,220.1L102.8,219.4L103.4,217.9L103.9,217.2L104.5,216.1L105.0,214.8L105.5,213.7L106.1,212.4L106.6,210.8L107.1,209.6L107.7,208.5L108.2,207.3L108.7,206.3L109.3,204.7L109.8,203.7L110.3,202.2L110.9,201.2L111.4,200.1L111.9,199.0L112.5,197.5L113.0,196.7L113.6,195.4L114.1,194.1L114.6,193.1L115.2,192.3L115.7,191.1L116.2,189.8L116.8,189.5L117.3,188.6L117.8,188.2L118.4,187.4L118.9,187.3L119.4,186.6L120.0,186.4L120.5,186.1L121.0,186.4L121.6,186.3L122.1,186.4L122.7,186.4L123.2,186.6L123.7,186.9L124.3,186.9L124.8,187.4L125.3,187.7L125.9,188.9L126.4,189.8L126.9,191.3L127.5,192.8L128.0,195.0L128.5,196.5L129.1,198.8L129.6,200.2L130.1,202.4L130.7,203.7L131.2,206.0L131.8,208.0L132.3,210.4L132.8,212.6L133.4,215.4L133.9,217.5L134.4,220.1L135.0,222.0L135.5,224.4L136.0,226.3L136.6,228.6L137.1,230.9L137.6,233.3L138.2,235.3L138.7,237.7L139.3,240.1L139.8,242.5L140.3,245.0L140.9,247.9L141.4,250.6L141.9,253.2L142.5,255.4L143.0,256.8L143.5,258.0L144.1,258.9L144.6,260.2L145.1,261.0L145.7,261.9L146.2,262.2L146.7,263.1L147.3,263.2L147.8,264.1L148.4,264.6L148.9,264.9L149.4,265.2L150.0,265.3L150.5,266.1L151.0,266.3L151.6,266.0L152.1,266.3L152.6,266.5L153.2,267.3L153.7,266.9L154.2,267.6L154.8,267.4L155.3,268.2L155.8,268.2L156.4,268.6L156.9,268.3L157.5,268.1L158.0,268.4L158.5,268.3L159.1,268.3L159.6,268.3L160.1,268.6L160.7,268.6L161.2,268.5L161.7,268.6L162.3,268.3L162.8,268.4L163.3,268.4L163.9,268.3L164.4,268.4L165.0,268.6L165.5,268.3L166.0,268.4L166.6,268.2L167.1,268.5L167.6,267.9L168.2,268.3L168.7,268.4L169.2,268.2L169.8,268.7L170.3,268.9L170.8,268.6L171.4,268.1L171.9,268.3L172.4,268.6L173.0,268.3L173.5,268.1L174.1,267.6L174.6,267.8L175.1,267.3L175.7,267.7L176.2,267.5L176.7,267.3L177.3,267.3L177.8,267.7L178.3,267.3L178.9,266.5L179.4,266.8L179.9,266.4L180.5,266.8L181.0,266.2L181.5,266.3L182.1,266.5L182.6,265.7L183.2,265.7L183.7,265.5L184.2,264.9L184.8,264.8L185.3,265.0L185.8,264.3L186.4,264.8L186.9,264.4L187.4,264.4L188.0,264.1L188.5,263.6L189.0,263.4L189.6,263.1L190.1,263.0L190.6,263.0L191.2,263.1L191.7,262.8L192.3,262.7L192.8,262.5L193.3,262.4L193.9,262.0L194.4,262.1L194.9,261.6L195.5,261.5L196.0,261.5L196.5,261.3L197.1,261.5L197.6,260.9L198.1,261.0L198.7,260.8L199.2,260.7L199.8,260.6L200.3,260.6L200.8,260.5L201.4,260.0L201.9,259.2L202.4,259.2L203.0,258.8L203.5,258.2L204.0,258.3L204.6,257.5L205.1,257.0L205.6,256.5L206.2,256.4L206.7,255.9L207.2,255.8L207.8,255.4L208.3,255.3L208.9,254.1L209.4,254.2L209.9,253.9L210.5,253.4L211.0,252.8L211.5,252.4L212.1,251.9L212.6,251.4L213.1,250.6L213.7,250.9L214.2,250.0L214.7,250.2L215.3,249.2L215.8,248.7L216.3,248.2L216.9,248.1L217.4,247.5L218.0,246.8L218.5,247.1L219.0,246.1L219.6,245.6L220.1,245.3L220.6,244.4L221.2,244.1L221.7,243.2L222.2,242.8L222.8,242.3L223.3,241.7L223.8,241.2L224.4,240.8L224.9,240.5L225.5,239.3L226.0,238.8L226.5,238.4L227.1,237.7L227.6,237.3L228.1,236.5L228.7,235.9L229.2,235.4L229.7,234.9L230.3,234.1L230.8,233.9L231.3,233.2L231.9,232.3L232.4,231.9L232.9,231.2L233.5,230.5L234.0,230.1L234.6,229.5L235.1,229.1L235.6,228.6L236.2,228.2L236.7,227.5L237.2,227.0L237.8,226.9L238.3,226.1L238.8,225.5L239.4,225.2L239.9,225.2L240.4,224.3L241.0,224.3L241.5,223.3L242.0,223.1L242.6,222.3L243.1,222.2L243.7,221.3L244.2,220.8L244.7,220.9L245.3,220.1L245.8,219.4L246.3,219.5L246.9,219.3L247.4,218.3L247.9,218.0L248.5,217.5L249.0,216.9L249.5,217.0L250.1,215.9L250.6,215.9L251.2,215.4L251.7,214.7L252.2,214.6L252.8,214.4L253.3,214.5L253.8,213.5L254.4,213.8L254.9,213.3L255.4,213.2L256.0,212.8L256.5,213.1L257.0,212.8L257.6,212.6L258.1,212.6L258.6,212.8L259.2,212.0L259.7,212.0L260.3,212.2L260.8,211.9L261.3,211.7L261.9,211.7L262.4,211.4L262.9,211.7L263.5,211.7L264.0,211.9L264.5,211.7L265.1,211.7L265.6,211.4L266.1,212.0L266.7,211.9L267.2,211.7L267.7,211.8L268.3,212.3L268.8,212.1L269.4,212.8L269.9,212.3L270.4,213.1L271.0,213.0L271.5,213.4L272.0,214.0L272.6,214.0L273.1,213.7L273.6,214.4L274.2,215.0L274.7,215.3L275.2,215.2L275.8,215.6L276.3,215.9L276.8,216.4L277.4,216.6L277.9,217.0L278.5,217.5L279.0,218.3L279.5,218.3L280.1,218.6L280.6,218.8L281.1,219.1L281.7,219.9L282.2,220.0L282.7,220.8L283.3,221.0L283.8,221.7L284.3,222.1L284.9,223.0L285.4,223.4L286.0,223.6L286.5,224.1L287.0,224.7L287.6,225.5L288.1,226.1L288.6,226.6L289.2,227.1L289.7,227.5L290.2,228.3L290.8,228.6L291.3,229.2L291.8,230.2L292.4,230.4L292.9,230.5L293.4,231.0L294.0,231.2L294.5,232.3L295.1,231.9L295.6,232.4L296.1,232.6L296.7,233.1L297.2,232.8L297.7,233.2L298.3,233.1L298.8,233.7L299.3,233.5L299.9,233.5L300.4,233.4L300.9,233.6L301.5,233.8L302.0,233.9L302.5,234.3L303.1,234.5L303.6,233.9L304.2,234.1L304.7,234.6L305.2,235.1L305.8,234.6L306.3,234.8L306.8,235.3L307.4,235.4L307.9,235.7L308.4,235.7L309.0,236.2L309.5,236.2L310.0,236.7L310.6,237.0L311.1,237.9L311.7,238.2L312.2,239.5L312.7,239.4L313.3,240.8L313.8,241.2L314.3,242.1L314.9,242.8L315.4,244.1L315.9,244.8L316.5,246.0L317.0,247.5L317.5,248.6L318.1,249.9L318.6,251.3L319.1,253.2L319.7,254.2L320.2,255.6L320.8,257.1L321.3,258.7L321.8,259.8L322.4,261.3L322.9,263.3L323.4,265.2L324.0,267.3L324.5,270.7"/>
<path stroke="#ff0000" d="M56.8,188.4L57.3,187.3L57.9,185.9L58.4,184.5L58.9,183.4L59.5,182.1L60.0,180.3L60.5,178.9L61.1,177.5L61.6,176.2L62.2,174.9L62.7,174.0L63.2,173.2L63.8,172.5L64.3,171.3L64.8,170.5L65.4,169.9L65.9,169.0L66.4,169.5L67.0,170.1L67.5,171.1L68.0,171.7L68.6,172.2L69.1,173.1L69.6,173.5L70.2,174.7L70.7,176.3L71.3,177.3L71.8,177.2L72.3,179.5L72.9,181.3L73.4,182.6L73.9,184.8L74.5,186.7L75.0,188.6L75.5,191.1L76.1,192.7L76.6,195.4L77.1,197.7L77.7,200.7L78.2,203.2L78.8,206.1L79.3,209.1L79.8,212.6L80.4,216.2L80.9,219.1L81.4,221.0L82.0,222.4L82.5,223.4L83.0,224.0L83.6,224.1L84.1,225.3L84.6,225.6L85.2,226.1L85.7,226.8L86.2,226.9L86.8,226.8L87.3,227.1L87.9,226.7L88.4,225.6L88.9,225.3L89.5,224.6L90.0,224.0L90.5,223.5L91.1,222.1L91.6,221.3L92.1,220.4L92.7,219.3L93.2,219.0L93.7,219.8L94.3,220.6L94.8,221.1L95.3,222.3L95.9,222.7L96.4,223.7L97.0,223.9L97.5,224.6L98.0,224.7L98.6,224.8L99.1,224.5L99.6,224.5L100.2,224.0L100.7,223.0L101.2,222.1L101.8,221.2L102.3,220.1L102.8,219.1L103.4,218.3L103.9,217.3L104.5,215.9L105.0,215.1L105.5,213.6L106.1,212.6L106.6,211.2L107.1,209.6L107.7,208.7L108.2,207.4L108.7,206.1L109.3,204.7L109.8,203.8L110.3,202.4L110.9,201.5L111.4,199.8L111.9,198.6L112.5,197.5L113.0,196.5L113.6,195.6L114.1,193.8L114.6,193.4L115.2,192.2L115.7,191.2L116.2,190.1L116.8,189.9L117.3,188.3L117.8,188.4L118.4,187.8L118.9,187.3L119.4,186.9L120.0,186.0L120.5,185.7L121.0,185.8L121.6,186.7L122.1,186.1L122.7,186.1L123.2,186.7L123.7,186.4L124.3,186.8L124.8,187.5L125.3,187.9L125.9,188.7L126.4,190.1L126.9,191.5L127.5,192.6L128.0,194.2L128.5,196.2L129.1,198.2L129.6,199.8L130.1,201.7L130.7,203.9L131.2,206.1L131.8,208.0L132.3,210.9L132.8,213.0L133.4,215.2L133.9,217.5L134.4,219.2L135.0,222.0L135.5,224.5L136.0,226.5L136.6,229.0L137.1,230.8L137.6,232.5L138.2,235.1L138.7,237.3L139.3,240.1L139.8,242.6L140.3,245.0L140.9,248.1L141.4,251.1L141.9,252.9L142.5,255.3L143.0,257.1L143.5,258.1L144.1,258.9L144.6,260.1L145.1,261.0L145.7,261.9L146.2,262.6L146.7,262.8L147.3,263.5L147.8,264.0L148.4,264.5L148.9,265.0L149.4,265.6L150.0,265.8L150.5,265.9L151.0,266.2L151.6,266.5L152.1,266.6L152.6,266.5L153.2,267.4L153.7,267.3L154.2,268.1L154.8,267.8L155.3,268.2L155.8,268.5L156.4,268.4L156.9,268.6L157.5,269.0L158.0,268.7L158.5,268.7L159.1,268.5L159.6,268.6L160.1,268.4L160.7,268.8L161.2,268.2L161.7,268.5L162.3,268.6L162.8,268.7L163.3,268.8L163.9,268.5L164.4,268.5L165.0,268.3L165.5,268.5L166.0,268.7L166.6,268.6L167.1,268.7L167.6,268.7L168.2,268.6L168.7,268.2L169.2,268.9L169.8,268.7L170.3,268.7L170.8,268.9L171.4,268.2L171.9,268.7L172.4,268.2L173.0,267.8L173.5,268.3L174.1,268.1L174.6,268.3L175.1,267.9L175.7,268.0L176.2,267.5L176.7,267.9L177.3,267.5L177.8,267.4L178.3,267.2L178.9,266.8L179.4,266.7L179.9,266.9L180.5,266.4L181.0,266.4L181.5,266.2L182.1,266.1L182.6,265.7L183.2,266.0L183.7,266.2L184.2,265.5L184.8,265.6L185.3,265.5L185.8,265.4L186.4,264.7L186.9,264.7L187.4,265.0L188.0,264.8L188.5,264.6L189.0,264.2L189.6,263.8L190.1,264.0L190.6,263.5L191.2,263.5L191.7,263.4L192.3,263.1L192.8,263.2L193.3,263.2L193.9,263.0L194.4,262.7L194.9,262.5L195.5,262.7L196.0,262.5L196.5,262.5L197.1,262.1L197.6,261.8L198.1,262.2L198.7,261.5L199.2,261.7L199.8,261.5L200.3,261.3L200.8,260.9L201.4,260.8L201.9,260.4L202.4,259.9L203.0,259.5L203.5,259.2L204.0,259.0L204.6,258.5L205.1,257.9L205.6,257.8L206.2,257.7L206.7,257.0L207.2,256.4L207.8,256.1L208.3,256.2L208.9,255.4L209.4,254.9L209.9,254.6L210.5,254.8L211.0,254.2L211.5,253.8L212.1,252.9L212.6,252.8L213.1,252.4L213.7,251.6L214.2,251.4L214.7,251.0L215.3,250.3L215.8,249.8L216.3,249.8L216.9,249.6L217.4,249.1L218.0,248.3L218.5,247.9L219.0,247.4L219.6,246.7L220.1,246.5L220.6,246.2L221.2,245.2L221.7,245.3L222.2,244.8L222.8,243.6L223.3,243.0L223.8,242.5L224.4,242.4L224.9,241.5L225.5,241.0L226.0,240.2L226.5,239.6L227.1,239.4L227.6,238.8L228.1,238.4L228.7,237.6L229.2,237.2L229.7,236.3L230.3,235.6L230.8,234.7L231.3,234.6L231.9,234.2L232.4,233.7L232.9,232.9L233.5,232.9L234.0,232.2L234.6,231.6L235.1,231.1L235.6,230.8L236.2,229.8L236.7,229.5L237.2,229.1L237.8,228.5L238.3,228.1L238.8,227.6L239.4,226.9L239.9,227.0L240.4,226.3L241.0,226.1L241.5,225.3L242.0,224.8L242.6,225.1L243.1,224.2L243.7,223.7L244.2,223.1L244.7,223.0L245.3,222.3L245.8,222.1L246.3,221.7L246.9,221.5L247.4,220.7L247.9,220.2L248.5,220.0L249.0,219.2L249.5,218.7L250.1,218.4L250.6,218.3L251.2,217.8L251.7,217.3L252.2,217.2L252.8,216.8L253.3,216.7L253.8,216.3L254.4,215.9L254.9,216.0L255.4,215.7L256.0,215.8L256.5,215.7L257.0,215.3L257.6,215.3L258.1,215.0L258.6,214.8L259.2,215.1L259.7,214.8L260.3,214.6L260.8,214.6L261.3,214.2L261.9,215.0L262.4,214.1L262.9,214.1L263.5,214.3L264.0,214.9L264.5,214.1L265.1,214.5L265.6,214.0L266.1,214.3L266.7,214.7L267.2,214.8L267.7,214.7L268.3,214.5L268.8,214.9L269.4,215.3L269.9,215.7L270.4,215.7L271.0,215.7L271.5,216.0L272.0,216.6L272.6,216.4L273.1,216.7L273.6,217.0L274.2,217.3L274.7,217.6L275.2,217.7L275.8,218.1L276.3,218.8L276.8,219.0L277.4,219.3L277.9,219.2L278.5,220.1L279.0,219.9L279.5,221.1L280.1,220.7L280.6,221.3L281.1,222.1L281.7,222.0L282.2,222.9L282.7,223.2L283.3,223.8L283.8,224.0L284.3,224.4L284.9,224.8L285.4,225.6L286.0,226.2L286.5,226.6L287.0,227.2L287.6,227.3L288.1,228.1L288.6,229.1L289.2,228.9L289.7,229.9L290.2,230.5L290.8,230.9L291.3,231.6L291.8,231.7L292.4,232.6L292.9,232.8L293.4,233.3L294.0,233.1L294.5,233.7L295.1,234.3L295.6,234.2L296.1,234.3L296.7,234.7L297.2,234.9L297.7,235.2L298.3,235.6L298.8,235.6L299.3,235.7L299.9,235.6L300.4,235.8L300.9,235.8L301.5,235.7L302.0,236.4L302.5,236.2L303.1,236.6L303.6,237.0L304.2,236.4L304.7,236.6L305.2,237.0L305.8,236.9L306.3,237.6L306.8,236.7L307.4,237.3L307.9,237.8L308.4,237.9L309.0,238.3L309.5,238.9L310.0,238.8L310.6,239.2L311.1,239.9L311.7,240.0L312.2,240.5L312.7,241.3L313.3,241.7L313.8,242.8L314.3,244.0L314.9,244.3L315.4,245.6L315.9,246.6L316.5,248.0L317.0,249.4L317.5,250.3L318.1,251.7L318.6,252.8L319.1,254.5L319.7,256.0L320.2,257.3L320.8,258.5L321.3,260.0L321.8,261.0L322.4,262.7L322.9,264.7L323.4,266.3L324.0,269.0L324.5,271.5"/>
</g>
<g stroke="#000" stroke-width="2" fill="none" stroke-linecap="butt">
<path d="M56.8,12.8V283 M55.8,282H325.5"/>
<path d="M53.00,281.30H56.8"/>
<path d="M49.30,262.18H56.8"/>
<path d="M53.00,243.06H56.8"/>
<path d="M49.30,223.95H56.8"/>
<path d="M53.00,204.84H56.8"/>
<path d="M49.30,185.72H56.8"/>
<path d="M53.00,166.61H56.8"/>
<path d="M49.30,147.49H56.8"/>
<path d="M53.00,128.38H56.8"/>
<path d="M49.30,109.26H56.8"/>
<path d="M53.00,90.15H56.8"/>
<path d="M49.30,71.03H56.8"/>
<path d="M53.00,51.92H56.8"/>
<path d="M49.30,32.80H56.8"/>
<path d="M53.00,13.68H56.8"/>
<path d="M56.80,282V289.50"/>
<path d="M83.57,282V285.80"/>
<path d="M110.34,282V289.50"/>
<path d="M137.11,282V285.80"/>
<path d="M163.88,282V289.50"/>
<path d="M190.65,282V285.80"/>
<path d="M217.42,282V289.50"/>
<path d="M244.19,282V285.80"/>
<path d="M270.96,282V289.50"/>
<path d="M297.73,282V285.80"/>
<path d="M324.50,282V289.50"/>
</g>
<g font-family="Liberation Sans, sans-serif" font-size="11.8" stroke="#000" stroke-width="0.3" fill="#000">
<text x="44.3" y="265.88" text-anchor="end">0.01</text>
<text x="44.3" y="227.65" text-anchor="end">0.02</text>
<text x="44.3" y="189.42" text-anchor="end">0.03</text>
<text x="44.3" y="151.19" text-anchor="end">0.04</text>
<text x="44.3" y="112.96" text-anchor="end">0.05</text>
<text x="44.3" y="74.73" text-anchor="end">0.06</text>
<text x="44.3" y="36.50" text-anchor="end">0.07</text>
<text x="56.80" y="304" text-anchor="middle">300</text>
<text x="110.34" y="304" text-anchor="middle">400</text>
<text x="163.88" y="304" text-anchor="middle">500</text>
<text x="217.42" y="304" text-anchor="middle">600</text>
<text x="270.96" y="304" text-anchor="middle">700</text>
<text x="324.50" y="304" text-anchor="middle">800</text>
<text x="151.4" y="321.9">Wavelength (nm)</text>
<text transform="translate(15.7,132.8) rotate(-90)" text-anchor="middle">Absorbance</text>
<text x="267.6" y="23.5">0 to 420 min</text>
</g>
<text x="-0.5" y="13.6" font-family="Liberation Sans, sans-serif" font-size="12.3">a</text>
<path d="M264.6,12.4V201" stroke="#000" stroke-width="1.6"/>
<path d="M264.6,214.2L259.8,196.8Q262.5,198.6 264.6,200.6Q266.7,198.6 269.4,196.8Z" fill="#000"/>
<g fill="#3c3c3c">
<circle cx="110.50" cy="18.74" r="2.5"/>
<circle cx="113.95" cy="27.39" r="2.5"/>
<circle cx="117.40" cy="35.28" r="2.5"/>
<circle cx="120.85" cy="42.62" r="2.5"/>
<circle cx="124.30" cy="44.12" r="2.5"/>
<circle cx="127.75" cy="56.15" r="2.5"/>
<circle cx="131.20" cy="59.54" r="2.5"/>
<circle cx="134.65" cy="63.67" r="2.5"/>
<circle cx="138.10" cy="68.75" r="2.5"/>
<circle cx="141.55" cy="73.45" r="2.5"/>
<circle cx="145.00" cy="75.70" r="2.5"/>
<circle cx="148.45" cy="77.58" r="2.5"/>
<circle cx="158.80" cy="89.99" r="2.5"/>
<circle cx="162.25" cy="89.99" r="2.5"/>
<circle cx="165.70" cy="93.19" r="2.5"/>
<circle cx="169.15" cy="95.07" r="2.5"/>
<circle cx="172.60" cy="98.08" r="2.5"/>
<circle cx="176.05" cy="99.20" r="2.5"/>
<circle cx="179.50" cy="101.08" r="2.5"/>
<circle cx="182.95" cy="102.21" r="2.5"/>
<circle cx="186.40" cy="104.09" r="2.5"/>
<circle cx="189.85" cy="105.22" r="2.5"/>
<circle cx="193.30" cy="106.72" r="2.5"/>
<circle cx="196.75" cy="108.04" r="2.5"/>
<circle cx="200.20" cy="109.36" r="2.5"/>
<circle cx="203.65" cy="110.48" r="2.5"/>
<circle cx="207.10" cy="111.61" r="2.5"/>
</g>
<path fill="none" stroke="#ff00ff" stroke-width="1.2" d="M110.5,19.5L111.3,21.4L112.1,23.3L112.9,25.2L113.7,27.0L114.6,28.8L115.4,30.5L116.2,32.2L117.0,33.9L117.8,35.6L118.6,37.2L119.4,38.8L120.2,40.3L121.1,41.9L121.9,43.4L122.7,44.8L123.5,46.3L124.3,47.7L125.1,49.1L125.9,50.5L126.7,51.8L127.5,53.1L128.4,54.4L129.2,55.7L130.0,56.9L130.8,58.1L131.6,59.3L132.4,60.5L133.2,61.6L134.0,62.8L134.9,63.9L135.7,65.0L136.5,66.0L137.3,67.1L138.1,68.1L138.9,69.1L139.7,70.1L140.5,71.1L141.3,72.0L142.2,72.9L143.0,73.9L143.8,74.8L144.6,75.6L145.4,76.5L146.2,77.4L147.0,78.2L147.8,79.0L148.7,79.8L149.5,80.6L150.3,81.4L151.1,82.1L151.9,82.9L152.7,83.6L153.5,84.3L154.3,85.0L155.1,85.7L156.0,86.4L156.8,87.0L157.6,87.7L158.4,88.3L159.2,88.9L160.0,89.5L160.8,90.1L161.6,90.7L162.5,91.3L163.3,91.9L164.1,92.4L164.9,93.0L165.7,93.5L166.5,94.0L167.3,94.6L168.1,95.1L168.9,95.6L169.8,96.1L170.6,96.5L171.4,97.0L172.2,97.5L173.0,97.9L173.8,98.4L174.6,98.8L175.4,99.2L176.3,99.6L177.1,100.0L177.9,100.4L178.7,100.8L179.5,101.2L180.3,101.6L181.1,102.0L181.9,102.4L182.7,102.7L183.6,103.1L184.4,103.4L185.2,103.7L186.0,104.1L186.8,104.4L187.6,104.7L188.4,105.0L189.2,105.4L190.1,105.7L190.9,106.0L191.7,106.2L192.5,106.5L193.3,106.8L194.1,107.1L194.9,107.4L195.7,107.6L196.5,107.9L197.4,108.1L198.2,108.4L199.0,108.6L199.8,108.9L200.6,109.1L201.4,109.3L202.2,109.6L203.0,109.8L203.9,110.0L204.7,110.2L205.5,110.4L206.3,110.6L207.1,110.8"/>
<g stroke="#000" stroke-width="1.3" fill="none">
<path d="M110.5,13.1V117.2 M109.8,116.5H214.2"/>
<path d="M103.30,116.50H110.5"/>
<path d="M106.90,107.10H110.5"/>
<path d="M103.30,97.70H110.5"/>
<path d="M106.90,88.30H110.5"/>
<path d="M103.30,78.90H110.5"/>
<path d="M106.90,69.50H110.5"/>
<path d="M103.30,60.10H110.5"/>
<path d="M106.90,50.70H110.5"/>
<path d="M103.30,41.30H110.5"/>
<path d="M106.90,31.90H110.5"/>
<path d="M103.30,22.50H110.5"/>
<path d="M106.90,13.10H110.5"/>
<path d="M110.50,116.5V123.70"/>
<path d="M122.00,116.5V120.10"/>
<path d="M133.50,116.5V123.70"/>
<path d="M145.00,116.5V120.10"/>
<path d="M156.50,116.5V123.70"/>
<path d="M168.00,116.5V120.10"/>
<path d="M179.50,116.5V123.70"/>
<path d="M191.00,116.5V120.10"/>
<path d="M202.50,116.5V123.70"/>
<path d="M214.00,116.5V120.10"/>
</g>
<g font-family="Liberation Sans, sans-serif" font-size="11.8" stroke="#000" stroke-width="0.3" fill="#000">
<text x="97.4" y="120.50" text-anchor="end">2</text>
<text x="97.4" y="101.70" text-anchor="end">3</text>
<text x="97.4" y="82.90" text-anchor="end">4</text>
<text x="97.4" y="64.10" text-anchor="end">5</text>
<text x="97.4" y="45.30" text-anchor="end">6</text>
<text x="97.4" y="26.50" text-anchor="end">7</text>
<text x="110.50" y="138.6" text-anchor="middle">0</text>
<text x="133.50" y="138.6" text-anchor="middle">100</text>
<text x="156.50" y="138.6" text-anchor="middle">200</text>
<text x="179.50" y="138.6" text-anchor="middle">300</text>
<text x="202.50" y="138.6" text-anchor="middle">400</text>
<text x="163" y="150.9" text-anchor="middle">Time (min)</text>
<text transform="translate(87.2,63.9) rotate(-90)" text-anchor="middle">Absorbance (<tspan font-size="10.5" stroke-width="0">×</tspan>10<tspan dy="-4.2" font-size="7.6">-2</tspan><tspan dy="4.2">)</tspan></text>
</g>
<g fill="none" stroke-width="1" stroke-linejoin="round">
<path stroke="#ff00ff" stroke-width="1.00" d="M411.5,261.3L412.0,261.2L412.6,260.8L413.1,260.4L413.6,260.3L414.1,259.8L414.7,259.2L415.2,259.0L415.7,258.7L416.3,258.2L416.8,257.9L417.3,257.5L417.8,257.6L418.4,257.1L418.9,256.8L419.4,256.4L420.0,256.1L420.5,255.4L421.0,255.4L421.6,255.2L422.1,255.4L422.6,255.7L423.1,255.9L423.7,256.2L424.2,256.8L424.7,256.9L425.3,257.4L425.8,258.2L426.3,257.8L426.8,258.7L427.4,258.9L427.9,259.3L428.4,260.0L429.0,260.5L429.5,260.5L430.0,261.5L430.5,261.4L431.1,262.1L431.6,262.9L432.1,263.2L432.7,263.7L433.2,264.4L433.7,265.2L434.2,265.2L434.8,265.7L435.3,266.5L435.8,266.3L436.4,266.9L436.9,267.3L437.4,267.5L437.9,267.4L438.5,267.6L439.0,267.8L439.5,268.2L440.1,268.5L440.6,268.5L441.1,268.8L441.7,268.9L442.2,269.0L442.7,269.0L443.2,269.3L443.8,269.3L444.3,269.2L444.8,269.1L445.4,269.4L445.9,269.1L446.4,269.1L446.9,269.6L447.5,269.5L448.0,269.5L448.5,269.7L449.1,269.3L449.6,270.2L450.1,270.0L450.6,270.2L451.2,270.5L451.7,270.7L452.2,271.1L452.8,271.1L453.3,271.1L453.8,271.8L454.3,271.8L454.9,271.9L455.4,272.0L455.9,272.5L456.5,272.4L457.0,273.0L457.5,272.7L458.1,273.2L458.6,273.0L459.1,273.1L459.6,273.4L460.2,273.6L460.7,273.6L461.2,273.8L461.8,273.9L462.3,274.1L462.8,274.2L463.3,274.1L463.9,274.4L464.4,274.6L464.9,274.4L465.5,274.7L466.0,274.6L466.5,274.5L467.0,274.5L467.6,274.1L468.1,274.0L468.6,273.6L469.2,273.8L469.7,273.3L470.2,273.6L470.7,273.3L471.3,273.1L471.8,273.3L472.3,272.5L472.9,272.5L473.4,272.5L473.9,271.8L474.5,271.6L475.0,271.6L475.5,271.1L476.0,270.8L476.6,270.7L477.1,270.1L477.6,270.2L478.2,269.6L478.7,269.6L479.2,269.1L479.7,268.7L480.3,268.6L480.8,268.8L481.3,268.3L481.9,268.3L482.4,267.9L482.9,267.5L483.4,267.7L484.0,267.5L484.5,266.9L485.0,266.5L485.6,266.2L486.1,265.5L486.6,265.1L487.1,264.6L487.7,264.2L488.2,264.0L488.7,263.1L489.3,263.0L489.8,262.9L490.3,262.3L490.9,262.3L491.4,262.2L491.9,261.5L492.4,261.4L493.0,261.3L493.5,260.9L494.0,261.1L494.6,261.1L495.1,261.0L495.6,261.5L496.1,261.3L496.7,261.5L497.2,261.4L497.7,261.6L498.3,261.8L498.8,261.8L499.3,262.0L499.8,262.3L500.4,262.3L500.9,262.3L501.4,262.3L502.0,262.3L502.5,262.3L503.0,262.2L503.5,262.4L504.1,262.3L504.6,262.1L505.1,262.0L505.7,261.9L506.2,261.4L506.7,261.4L507.2,260.9L507.8,260.8L508.3,260.7L508.8,260.1L509.4,260.2L509.9,259.7L510.4,259.3L511.0,259.1L511.5,259.2L512.0,258.8L512.5,258.5L513.1,258.3L513.6,258.0L514.1,257.7L514.7,257.7L515.2,256.9L515.7,256.6L516.2,256.4L516.8,256.1L517.3,256.2L517.8,255.7L518.4,254.9L518.9,255.3L519.4,254.7L519.9,254.8L520.5,254.8L521.0,254.3L521.5,253.9L522.1,253.9L522.6,253.5L523.1,253.3L523.6,253.0L524.2,253.1L524.7,252.7L525.2,252.6L525.8,252.4L526.3,252.2L526.8,252.3L527.4,252.0L527.9,251.6L528.4,251.4L528.9,251.3L529.5,251.2L530.0,251.1L530.5,251.1L531.1,250.8L531.6,250.8L532.1,250.7L532.6,250.7L533.2,250.5L533.7,250.6L534.2,250.5L534.8,250.2L535.3,250.2L535.8,249.7L536.3,249.7L536.9,249.4L537.4,248.9L537.9,248.8L538.5,248.2L539.0,247.9L539.5,247.3L540.0,246.7L540.6,246.1L541.1,245.6L541.6,245.3L542.2,245.1L542.7,244.2L543.2,243.4L543.8,243.2L544.3,242.6L544.8,242.0L545.3,241.1L545.9,240.4L546.4,239.7L546.9,239.1L547.5,238.1L548.0,237.3L548.5,236.3L549.0,235.6L549.6,234.9L550.1,234.1L550.6,233.4L551.2,232.6L551.7,231.8L552.2,231.1L552.7,230.3L553.3,229.4L553.8,228.6L554.3,227.7L554.9,226.7L555.4,225.8L555.9,224.7L556.4,223.6L557.0,222.4L557.5,221.1L558.0,219.8L558.6,218.4L559.1,216.9L559.6,215.3L560.1,213.8L560.7,212.2L561.2,210.6L561.7,209.0L562.3,207.3L562.8,205.6L563.3,204.0L563.9,202.3L564.4,200.6L564.9,198.9L565.4,197.3L566.0,195.7L566.5,194.0L567.0,192.3L567.6,190.5L568.1,188.9L568.6,187.1L569.1,185.3L569.7,183.4L570.2,181.7L570.7,179.8L571.3,177.9L571.8,176.0L572.3,174.1L572.8,172.0L573.4,170.1L573.9,168.0L574.4,165.8L575.0,163.6L575.5,161.4L576.0,159.1L576.5,156.8L577.1,154.5L577.6,152.1L578.1,149.8L578.7,147.3L579.2,145.0L579.7,142.5L580.3,140.0L580.8,137.6L581.3,135.2L581.8,132.7L582.4,130.4L582.9,127.9L583.4,125.5L584.0,123.2L584.5,120.9L585.0,118.6L585.5,116.3L586.1,114.0L586.6,111.8L587.1,109.4L587.7,107.2L588.2,104.9L588.7,102.6L589.2,100.3L589.8,98.0L590.3,95.7L590.8,93.5L591.4,91.1L591.9,89.0L592.4,86.6L592.9,84.5L593.5,82.1L594.0,80.0L594.5,77.7L595.1,75.3L595.6,73.1L596.1,70.8L596.6,68.4L597.2,66.2L597.7,63.9L598.2,61.7L598.8,59.5L599.3,57.3L599.8,55.2L600.4,53.1L600.9,51.1L601.4,49.2L601.9,47.3L602.5,45.6L603.0,43.9L603.5,42.3L604.1,40.7L604.6,39.0L605.1,37.3L605.6,35.6L606.2,33.8L606.7,32.1L607.2,30.5L607.8,29.0L608.3,27.7L608.8,26.4L609.3,25.3L609.9,24.2L610.4,23.2L610.9,22.4L611.5,21.7L612.0,21.1L612.5,20.8L613.0,20.2L613.6,19.7L614.1,19.4L614.6,19.0L615.2,18.7L615.7,18.5L616.2,18.5L616.8,18.4L617.3,18.4L617.8,18.7L618.3,18.8L618.9,19.1L619.4,19.4L619.9,19.8L620.5,20.3L621.0,20.7L621.5,21.2L622.0,21.8L622.6,22.6L623.1,23.6L623.6,24.7L624.2,26.1L624.7,27.4L625.2,28.7L625.7,30.2L626.3,31.8L626.8,33.7L627.3,35.6L627.9,37.5L628.4,39.4L628.9,41.2L629.4,42.9L630.0,44.7L630.5,46.4L631.0,48.1L631.6,49.9L632.1,51.6L632.6,53.5L633.2,55.2L633.7,57.1L634.2,59.1L634.7,61.1L635.3,63.2L635.8,65.7L636.3,68.1L636.9,70.4L637.4,72.2L637.9,73.7L638.4,75.1L639.0,76.5L639.5,77.7L640.0,78.9L640.6,80.2L641.1,81.4L641.6,82.7L642.1,84.0L642.7,85.2L643.2,86.5L643.7,87.7L644.3,88.8L644.8,89.9L645.3,90.9L645.8,91.7L646.4,92.6L646.9,93.5L647.4,94.3L648.0,95.2L648.5,96.1L649.0,97.2L649.5,98.2L650.1,99.2L650.6,100.2L651.1,101.3L651.7,102.4L652.2,103.5L652.7,104.6L653.3,105.6L653.8,106.8L654.3,108.0L654.8,109.3L655.4,110.8L655.9,112.5L656.4,114.5L657.0,116.7L657.5,119.2L658.0,122.4L658.5,126.7L659.1,131.5L659.6,136.1L660.1,140.9L660.7,145.7L661.2,150.7L661.7,155.8L662.2,161.0L662.8,166.2L663.3,171.6L663.8,177.3L664.4,183.0L664.9,188.8L665.4,194.3L665.9,199.6L666.5,204.5L667.0,209.0L667.5,213.0L668.1,216.8L668.6,220.6L669.1,224.2L669.7,227.6L670.2,231.0L670.7,234.3L671.2,237.7L671.8,241.3L672.3,245.0L672.8,248.5L673.4,251.8L673.9,254.8L674.4,257.0L674.9,258.7L675.5,260.1L676.0,261.0"/>
<path stroke="#00e0ff" stroke-width="1.00" d="M411.5,256.4L412.0,256.2L412.6,256.5L413.1,256.0L413.6,255.7L414.1,255.4L414.7,255.7L415.2,255.4L415.7,255.0L416.3,254.6L416.8,254.6L417.3,254.4L417.8,254.2L418.4,253.8L418.9,254.4L419.4,253.7L420.0,253.8L420.5,253.6L421.0,253.4L421.6,253.3L422.1,253.7L422.6,254.1L423.1,254.3L423.7,255.0L424.2,255.5L424.7,255.8L425.3,256.2L425.8,256.4L426.3,257.2L426.8,257.7L427.4,258.2L427.9,258.5L428.4,258.7L429.0,259.6L429.5,260.2L430.0,260.4L430.5,261.0L431.1,261.5L431.6,262.1L432.1,262.4L432.7,263.0L433.2,263.4L433.7,264.3L434.2,264.4L434.8,264.6L435.3,265.3L435.8,265.7L436.4,266.0L436.9,266.3L437.4,266.6L437.9,266.8L438.5,267.0L439.0,267.5L439.5,267.4L440.1,267.6L440.6,267.8L441.1,268.0L441.7,268.2L442.2,268.0L442.7,268.3L443.2,268.5L443.8,268.5L444.3,268.4L444.8,268.6L445.4,268.3L445.9,268.4L446.4,268.7L446.9,268.8L447.5,268.7L448.0,268.7L448.5,268.7L449.1,268.7L449.6,268.8L450.1,269.3L450.6,269.5L451.2,269.6L451.7,269.8L452.2,270.3L452.8,270.5L453.3,270.5L453.8,270.7L454.3,270.9L454.9,271.0L455.4,271.3L455.9,271.7L456.5,271.8L457.0,272.0L457.5,272.0L458.1,272.3L458.6,272.3L459.1,272.8L459.6,272.5L460.2,272.5L460.7,272.9L461.2,272.8L461.8,273.1L462.3,273.4L462.8,273.5L463.3,273.6L463.9,273.6L464.4,273.8L464.9,273.6L465.5,273.6L466.0,273.6L466.5,273.4L467.0,273.3L467.6,273.0L468.1,272.8L468.6,272.3L469.2,272.5L469.7,272.0L470.2,271.6L470.7,271.4L471.3,271.2L471.8,271.0L472.3,270.9L472.9,270.4L473.4,269.9L473.9,269.6L474.5,269.2L475.0,268.8L475.5,268.8L476.0,268.3L476.6,268.2L477.1,267.6L477.6,267.5L478.2,267.1L478.7,266.8L479.2,266.4L479.7,266.4L480.3,266.1L480.8,265.9L481.3,265.7L481.9,265.6L482.4,265.3L482.9,264.6L483.4,264.5L484.0,264.0L484.5,263.8L485.0,263.4L485.6,262.9L486.1,262.1L486.6,261.5L487.1,261.3L487.7,260.3L488.2,260.0L488.7,259.4L489.3,259.2L489.8,259.0L490.3,258.6L490.9,258.2L491.4,257.4L491.9,257.6L492.4,257.0L493.0,257.0L493.5,256.6L494.0,256.6L494.6,256.6L495.1,256.8L495.6,256.8L496.1,256.8L496.7,257.2L497.2,257.3L497.7,257.5L498.3,257.8L498.8,257.5L499.3,257.7L499.8,257.4L500.4,257.9L500.9,258.0L501.4,258.3L502.0,258.1L502.5,258.1L503.0,258.1L503.5,258.3L504.1,258.3L504.6,258.0L505.1,257.9L505.7,258.0L506.2,257.7L506.7,257.2L507.2,257.2L507.8,257.1L508.3,256.8L508.8,256.5L509.4,256.6L509.9,256.2L510.4,255.8L511.0,255.9L511.5,255.4L512.0,255.5L512.5,255.1L513.1,255.0L513.6,254.5L514.1,254.7L514.7,254.4L515.2,254.2L515.7,253.8L516.2,253.7L516.8,253.1L517.3,253.2L517.8,252.7L518.4,252.7L518.9,252.3L519.4,252.4L519.9,252.3L520.5,252.0L521.0,252.1L521.5,251.7L522.1,251.3L522.6,251.1L523.1,251.4L523.6,251.2L524.2,251.0L524.7,251.0L525.2,250.5L525.8,250.4L526.3,250.5L526.8,250.2L527.4,250.5L527.9,249.9L528.4,249.9L528.9,249.7L529.5,249.6L530.0,249.9L530.5,249.6L531.1,249.5L531.6,249.4L532.1,249.6L532.6,249.4L533.2,249.5L533.7,249.1L534.2,249.1L534.8,248.7L535.3,248.9L535.8,248.9L536.3,248.4L536.9,248.3L537.4,248.0L537.9,247.7L538.5,247.2L539.0,247.0L539.5,246.7L540.0,246.0L540.6,245.4L541.1,245.7L541.6,244.5L542.2,244.1L542.7,243.5L543.2,242.6L543.8,242.1L544.3,241.4L544.8,240.8L545.3,240.7L545.9,239.9L546.4,238.9L546.9,238.0L547.5,237.3L548.0,236.4L548.5,235.3L549.0,235.0L549.6,234.2L550.1,233.5L550.6,232.6L551.2,232.0L551.7,231.1L552.2,230.5L552.7,229.6L553.3,228.7L553.8,227.8L554.3,227.0L554.9,226.0L555.4,225.0L555.9,224.0L556.4,222.8L557.0,221.6L557.5,220.2L558.0,218.9L558.6,217.5L559.1,216.0L559.6,214.5L560.1,212.9L560.7,211.3L561.2,209.7L561.7,208.0L562.3,206.4L562.8,204.7L563.3,203.0L563.9,201.3L564.4,199.6L564.9,198.0L565.4,196.4L566.0,194.6L566.5,192.9L567.0,191.2L567.6,189.5L568.1,187.7L568.6,185.9L569.1,184.1L569.7,182.4L570.2,180.4L570.7,178.6L571.3,176.7L571.8,174.8L572.3,172.7L572.8,170.9L573.4,168.9L573.9,166.7L574.4,164.6L575.0,162.4L575.5,160.1L576.0,157.9L576.5,155.5L577.1,153.2L577.6,150.9L578.1,148.5L578.7,146.0L579.2,143.5L579.7,141.1L580.3,138.6L580.8,136.1L581.3,133.7L581.8,131.3L582.4,128.9L582.9,126.4L583.4,124.1L584.0,121.7L584.5,119.4L585.0,117.0L585.5,114.7L586.1,112.4L586.6,110.1L587.1,107.8L587.7,105.6L588.2,103.3L588.7,101.0L589.2,98.6L589.8,96.4L590.3,94.1L590.8,91.8L591.4,89.5L591.9,87.2L592.4,84.9L592.9,82.7L593.5,80.4L594.0,78.1L594.5,75.9L595.1,73.6L595.6,71.3L596.1,69.0L596.6,66.6L597.2,64.4L597.7,62.0L598.2,59.8L598.8,57.6L599.3,55.3L599.8,53.2L600.4,51.1L600.9,49.1L601.4,47.1L601.9,45.2L602.5,43.5L603.0,41.7L603.5,40.1L604.1,38.4L604.6,36.7L605.1,35.1L605.6,33.3L606.2,31.6L606.7,29.7L607.2,28.0L607.8,26.4L608.3,25.2L608.8,23.9L609.3,22.8L609.9,21.6L610.4,20.6L610.9,19.7L611.5,19.0L612.0,18.5L612.5,17.9L613.0,17.5L613.6,17.0L614.1,16.5L614.6,16.1L615.2,15.9L615.7,15.6L616.2,15.5L616.8,15.4L617.3,15.4L617.8,15.5L618.3,15.8L618.9,16.1L619.4,16.4L619.9,16.8L620.5,17.3L621.0,17.7L621.5,18.3L622.0,18.8L622.6,19.7L623.1,20.7L623.6,21.9L624.2,23.2L624.7,24.6L625.2,25.9L625.7,27.5L626.3,29.1L626.8,30.9L627.3,32.8L627.9,34.8L628.4,36.7L628.9,38.5L629.4,40.4L630.0,42.1L630.5,43.8L631.0,45.5L631.6,47.3L632.1,49.0L632.6,50.8L633.2,52.7L633.7,54.5L634.2,56.5L634.7,58.5L635.3,60.7L635.8,63.3L636.3,65.7L636.9,67.8L637.4,69.7L637.9,71.3L638.4,72.8L639.0,74.0L639.5,75.4L640.0,76.6L640.6,77.8L641.1,79.1L641.6,80.3L642.1,81.7L642.7,82.9L643.2,84.2L643.7,85.5L644.3,86.5L644.8,87.7L645.3,88.7L645.8,89.7L646.4,90.6L646.9,91.4L647.4,92.4L648.0,93.2L648.5,94.2L649.0,95.2L649.5,96.3L650.1,97.3L650.6,98.5L651.1,99.5L651.7,100.6L652.2,101.8L652.7,103.0L653.3,104.1L653.8,105.2L654.3,106.4L654.8,107.9L655.4,109.3L655.9,111.1L656.4,113.0L657.0,115.3L657.5,118.0L658.0,121.2L658.5,125.4L659.1,130.2L659.6,134.9L660.1,139.7L660.7,144.7L661.2,149.7L661.7,154.8L662.2,160.0L662.8,165.2L663.3,170.7L663.8,176.5L664.4,182.2L664.9,187.9L665.4,193.5L665.9,198.9L666.5,203.8L667.0,208.3L667.5,212.5L668.1,216.3L668.6,220.1L669.1,223.7L669.7,227.1L670.2,230.6L670.7,234.0L671.2,237.3L671.8,240.9L672.3,244.7L672.8,248.3L673.4,251.6L673.9,254.6L674.4,256.9L674.9,258.6L675.5,260.0L676.0,260.9"/>
<path stroke="#8000ff" stroke-width="1.00" d="M411.5,257.3L412.0,257.6L412.6,257.2L413.1,257.0L413.6,257.3L414.1,257.0L414.7,256.3L415.2,256.4L415.7,256.3L416.3,256.2L416.8,255.9L417.3,255.7L417.8,255.3L418.4,255.2L418.9,255.1L419.4,255.0L420.0,255.0L420.5,254.9L421.0,254.4L421.6,254.8L422.1,255.1L422.6,255.1L423.1,255.6L423.7,256.2L424.2,256.5L424.7,256.8L425.3,257.5L425.8,258.3L426.3,258.5L426.8,259.0L427.4,259.2L427.9,260.0L428.4,260.0L429.0,260.7L429.5,261.4L430.0,261.7L430.5,262.0L431.1,262.7L431.6,263.3L432.1,263.9L432.7,264.1L433.2,265.0L433.7,265.2L434.2,265.8L434.8,266.1L435.3,266.4L435.8,266.8L436.4,267.4L436.9,267.8L437.4,267.9L437.9,268.1L438.5,268.1L439.0,268.5L439.5,268.6L440.1,269.0L440.6,269.2L441.1,269.2L441.7,269.1L442.2,269.4L442.7,269.6L443.2,269.4L443.8,269.6L444.3,269.8L444.8,269.6L445.4,269.7L445.9,269.7L446.4,269.4L446.9,269.5L447.5,269.9L448.0,269.8L448.5,270.2L449.1,270.5L449.6,270.2L450.1,270.3L450.6,270.8L451.2,270.7L451.7,271.0L452.2,271.5L452.8,271.6L453.3,271.8L453.8,272.1L454.3,272.1L454.9,272.4L455.4,272.6L455.9,272.9L456.5,273.5L457.0,273.4L457.5,273.1L458.1,273.3L458.6,273.6L459.1,274.0L459.6,273.8L460.2,274.0L460.7,274.3L461.2,274.3L461.8,274.2L462.3,274.4L462.8,274.6L463.3,274.8L463.9,274.7L464.4,275.2L464.9,275.1L465.5,275.0L466.0,275.0L466.5,274.4L467.0,274.0L467.6,274.2L468.1,274.0L468.6,273.5L469.2,273.6L469.7,273.3L470.2,273.1L470.7,272.7L471.3,272.0L471.8,272.1L472.3,271.9L472.9,271.6L473.4,271.3L473.9,270.7L474.5,270.6L475.0,270.2L475.5,269.9L476.0,269.5L476.6,269.2L477.1,269.1L477.6,268.5L478.2,268.3L478.7,267.9L479.2,267.8L479.7,267.7L480.3,267.2L480.8,267.1L481.3,266.8L481.9,266.3L482.4,266.2L482.9,266.1L483.4,265.5L484.0,265.3L484.5,264.8L485.0,264.4L485.6,263.8L486.1,263.6L486.6,263.0L487.1,262.5L487.7,262.3L488.2,261.7L488.7,261.6L489.3,260.7L489.8,260.5L490.3,260.0L490.9,259.8L491.4,259.7L491.9,259.0L492.4,259.2L493.0,258.6L493.5,259.0L494.0,258.8L494.6,258.7L495.1,258.8L495.6,259.1L496.1,259.1L496.7,259.4L497.2,259.6L497.7,259.5L498.3,259.7L498.8,260.1L499.3,259.8L499.8,259.9L500.4,260.2L500.9,260.1L501.4,260.2L502.0,260.1L502.5,260.5L503.0,260.5L503.5,260.3L504.1,260.1L504.6,260.3L505.1,260.0L505.7,259.9L506.2,259.7L506.7,259.5L507.2,259.7L507.8,259.3L508.3,258.8L508.8,258.6L509.4,258.1L509.9,258.2L510.4,257.8L511.0,257.8L511.5,257.4L512.0,257.4L512.5,257.4L513.1,257.1L513.6,256.7L514.1,256.4L514.7,256.5L515.2,255.8L515.7,255.7L516.2,255.5L516.8,255.6L517.3,255.1L517.8,255.0L518.4,254.4L518.9,254.4L519.4,254.1L519.9,253.8L520.5,254.0L521.0,253.7L521.5,253.7L522.1,253.0L522.6,253.2L523.1,253.2L523.6,252.8L524.2,252.6L524.7,252.5L525.2,252.4L525.8,252.2L526.3,252.0L526.8,251.8L527.4,252.2L527.9,251.9L528.4,251.5L528.9,251.6L529.5,251.3L530.0,251.5L530.5,251.1L531.1,251.0L531.6,251.1L532.1,250.8L532.6,250.6L533.2,250.5L533.7,250.5L534.2,250.4L534.8,250.2L535.3,250.3L535.8,250.0L536.3,249.7L536.9,249.4L537.4,249.4L537.9,249.2L538.5,248.5L539.0,247.9L539.5,248.0L540.0,247.3L540.6,246.6L541.1,246.0L541.6,245.8L542.2,245.0L542.7,244.6L543.2,244.0L543.8,243.8L544.3,243.5L544.8,242.4L545.3,241.8L545.9,240.8L546.4,240.2L546.9,239.3L547.5,238.8L548.0,237.6L548.5,237.0L549.0,236.3L549.6,235.4L550.1,234.7L550.6,234.0L551.2,233.2L551.7,232.4L552.2,231.6L552.7,230.9L553.3,230.0L553.8,229.2L554.3,228.3L554.9,227.3L555.4,226.4L555.9,225.3L556.4,224.1L557.0,222.9L557.5,221.7L558.0,220.3L558.6,218.8L559.1,217.4L559.6,215.9L560.1,214.3L560.7,212.7L561.2,211.1L561.7,209.4L562.3,207.8L562.8,206.2L563.3,204.5L563.9,202.8L564.4,201.2L564.9,199.5L565.4,197.8L566.0,196.1L566.5,194.5L567.0,192.7L567.6,191.0L568.1,189.2L568.6,187.5L569.1,185.7L569.7,183.9L570.2,182.1L570.7,180.2L571.3,178.2L571.8,176.4L572.3,174.4L572.8,172.5L573.4,170.5L573.9,168.3L574.4,166.2L575.0,164.1L575.5,161.9L576.0,159.5L576.5,157.3L577.1,155.0L577.6,152.5L578.1,150.2L578.7,147.7L579.2,145.3L579.7,142.9L580.3,140.5L580.8,138.0L581.3,135.5L581.8,133.1L582.4,130.6L582.9,128.3L583.4,125.9L584.0,123.5L584.5,121.2L585.0,118.9L585.5,116.6L586.1,114.3L586.6,112.0L587.1,109.8L587.7,107.3L588.2,105.2L588.7,102.8L589.2,100.5L589.8,98.3L590.3,96.0L590.8,93.7L591.4,91.4L591.9,89.1L592.4,87.0L592.9,84.6L593.5,82.4L594.0,80.2L594.5,77.9L595.1,75.7L595.6,73.3L596.1,71.0L596.6,68.7L597.2,66.4L597.7,64.1L598.2,61.9L598.8,59.6L599.3,57.4L599.8,55.3L600.4,53.2L600.9,51.2L601.4,49.3L601.9,47.6L602.5,45.8L603.0,44.1L603.5,42.4L604.1,40.7L604.6,39.1L605.1,37.5L605.6,35.8L606.2,33.9L606.7,32.2L607.2,30.5L607.8,29.0L608.3,27.7L608.8,26.5L609.3,25.4L609.9,24.4L610.4,23.3L610.9,22.4L611.5,21.7L612.0,21.2L612.5,20.8L613.0,20.3L613.6,19.9L614.1,19.4L614.6,19.1L615.2,18.8L615.7,18.5L616.2,18.4L616.8,18.5L617.3,18.5L617.8,18.6L618.3,18.8L618.9,19.1L619.4,19.3L619.9,19.9L620.5,20.3L621.0,20.7L621.5,21.1L622.0,21.9L622.6,22.6L623.1,23.6L623.6,24.8L624.2,26.1L624.7,27.5L625.2,28.8L625.7,30.2L626.3,31.9L626.8,33.7L627.3,35.6L627.9,37.6L628.4,39.4L628.9,41.3L629.4,43.0L630.0,44.7L630.5,46.5L631.0,48.2L631.6,49.9L632.1,51.6L632.6,53.4L633.2,55.3L633.7,57.1L634.2,59.0L634.7,61.0L635.3,63.2L635.8,65.7L636.3,68.1L636.9,70.4L637.4,72.2L637.9,73.7L638.4,75.2L639.0,76.4L639.5,77.7L640.0,78.9L640.6,80.1L641.1,81.4L641.6,82.7L642.1,83.9L642.7,85.3L643.2,86.5L643.7,87.8L644.3,88.9L644.8,89.9L645.3,90.8L645.8,91.8L646.4,92.7L646.9,93.5L647.4,94.3L648.0,95.3L648.5,96.2L649.0,97.2L649.5,98.3L650.1,99.2L650.6,100.3L651.1,101.4L651.7,102.5L652.2,103.6L652.7,104.7L653.3,105.8L653.8,106.9L654.3,108.1L654.8,109.5L655.4,110.9L655.9,112.6L656.4,114.6L657.0,116.8L657.5,119.4L658.0,122.6L658.5,126.8L659.1,131.6L659.6,136.4L660.1,141.0L660.7,145.9L661.2,151.0L661.7,156.0L662.2,161.2L662.8,166.3L663.3,171.9L663.8,177.5L664.4,183.3L664.9,189.0L665.4,194.6L665.9,199.9L666.5,204.7L667.0,209.2L667.5,213.3L668.1,217.2L668.6,220.9L669.1,224.5L669.7,227.9L670.2,231.3L670.7,234.7L671.2,238.1L671.8,241.6L672.3,245.2L672.8,248.8L673.4,252.1L673.9,255.2L674.4,257.5L674.9,259.1L675.5,260.4L676.0,261.4"/>
<path stroke="#ff0000" stroke-width="1.80" d="M411.5,256.5L412.0,256.2L412.6,255.9L413.1,256.1L413.6,255.9L414.1,255.8L414.7,255.9L415.2,255.5L415.7,255.0L416.3,254.6L416.8,254.7L417.3,254.4L417.8,254.6L418.4,254.0L418.9,253.8L419.4,254.1L420.0,253.8L420.5,253.4L421.0,253.4L421.6,253.3L422.1,253.9L422.6,253.7L423.1,254.8L423.7,254.7L424.2,255.6L424.7,255.8L425.3,256.7L425.8,256.6L426.3,257.1L426.8,257.6L427.4,258.1L427.9,258.5L428.4,258.5L429.0,259.7L429.5,259.8L430.0,260.3L430.5,261.1L431.1,261.4L431.6,262.0L432.1,262.6L432.7,263.1L433.2,263.4L433.7,264.3L434.2,264.6L434.8,265.1L435.3,265.5L435.8,265.7L436.4,265.9L436.9,266.0L437.4,266.7L437.9,267.1L438.5,267.1L439.0,267.0L439.5,267.9L440.1,267.7L440.6,268.1L441.1,267.6L441.7,267.9L442.2,268.4L442.7,268.1L443.2,268.4L443.8,268.2L444.3,268.6L444.8,268.5L445.4,268.5L445.9,268.2L446.4,268.5L446.9,268.8L447.5,268.9L448.0,268.9L448.5,269.3L449.1,269.4L449.6,269.0L450.1,268.7L450.6,269.3L451.2,269.1L451.7,269.8L452.2,270.2L452.8,270.2L453.3,270.3L453.8,270.5L454.3,271.0L454.9,271.2L455.4,271.6L455.9,272.1L456.5,271.6L457.0,271.4L457.5,271.9L458.1,272.1L458.6,272.4L459.1,272.5L459.6,273.0L460.2,272.8L460.7,273.0L461.2,273.1L461.8,272.9L462.3,273.1L462.8,273.3L463.3,273.2L463.9,274.0L464.4,273.5L464.9,273.7L465.5,273.5L466.0,273.6L466.5,273.2L467.0,273.3L467.6,272.8L468.1,272.8L468.6,273.2L469.2,272.1L469.7,271.8L470.2,271.9L470.7,271.9L471.3,271.2L471.8,270.5L472.3,270.6L472.9,270.2L473.4,270.3L473.9,269.3L474.5,269.5L475.0,268.9L475.5,268.4L476.0,267.8L476.6,267.9L477.1,267.5L477.6,267.6L478.2,266.8L478.7,267.2L479.2,266.5L479.7,266.7L480.3,265.6L480.8,265.2L481.3,265.4L481.9,265.2L482.4,265.4L482.9,264.7L483.4,264.6L484.0,263.6L484.5,263.7L485.0,263.2L485.6,262.4L486.1,262.0L486.6,261.9L487.1,261.5L487.7,260.6L488.2,260.4L488.7,260.5L489.3,259.4L489.8,259.1L490.3,259.0L490.9,258.7L491.4,257.9L491.9,258.0L492.4,257.8L493.0,257.5L493.5,257.3L494.0,257.7L494.6,257.5L495.1,257.5L495.6,258.2L496.1,258.0L496.7,258.2L497.2,258.1L497.7,258.5L498.3,258.3L498.8,258.7L499.3,258.8L499.8,258.7L500.4,258.7L500.9,259.0L501.4,259.1L502.0,259.2L502.5,259.1L503.0,258.9L503.5,259.2L504.1,258.9L504.6,258.9L505.1,259.0L505.7,258.4L506.2,258.9L506.7,258.2L507.2,257.9L507.8,257.7L508.3,257.7L508.8,257.2L509.4,256.8L509.9,257.3L510.4,257.1L511.0,256.7L511.5,256.4L512.0,256.0L512.5,256.0L513.1,256.0L513.6,255.9L514.1,255.5L514.7,255.2L515.2,254.9L515.7,254.7L516.2,254.1L516.8,253.7L517.3,254.0L517.8,253.8L518.4,253.3L518.9,253.0L519.4,252.7L519.9,252.8L520.5,252.7L521.0,252.3L521.5,252.2L522.1,252.2L522.6,252.2L523.1,252.0L523.6,251.3L524.2,251.5L524.7,250.7L525.2,251.4L525.8,251.1L526.3,250.7L526.8,250.5L527.4,250.3L527.9,250.6L528.4,250.2L528.9,250.5L529.5,249.5L530.0,249.5L530.5,249.9L531.1,249.7L531.6,249.8L532.1,249.5L532.6,249.9L533.2,249.6L533.7,249.7L534.2,249.2L534.8,248.7L535.3,249.0L535.8,249.0L536.3,248.6L536.9,248.3L537.4,248.0L537.9,248.3L538.5,247.4L539.0,247.1L539.5,246.6L540.0,245.6L540.6,245.8L541.1,245.5L541.6,244.4L542.2,243.9L542.7,243.8L543.2,243.2L543.8,242.7L544.3,241.4L544.8,241.1L545.3,240.4L545.9,240.0L546.4,239.1L546.9,238.1L547.5,237.0L548.0,236.5L548.5,235.8L549.0,235.0L549.6,234.3L550.1,233.5L550.6,232.7L551.2,231.9L551.7,231.1L552.2,230.5L552.7,229.7L553.3,228.7L553.8,227.9L554.3,227.1L554.9,226.2L555.4,225.1L555.9,224.0L556.4,223.0L557.0,221.7L557.5,220.3L558.0,219.0L558.6,217.6L559.1,216.1L559.6,214.6L560.1,213.1L560.7,211.5L561.2,209.8L561.7,208.1L562.3,206.6L562.8,204.9L563.3,203.1L563.9,201.5L564.4,199.8L564.9,198.1L565.4,196.5L566.0,194.9L566.5,193.1L567.0,191.3L567.6,189.8L568.1,187.9L568.6,186.3L569.1,184.4L569.7,182.7L570.2,180.8L570.7,178.8L571.3,177.0L571.8,175.0L572.3,173.2L572.8,171.1L573.4,169.1L573.9,167.0L574.4,164.9L575.0,162.8L575.5,160.5L576.0,158.3L576.5,155.9L577.1,153.6L577.6,151.2L578.1,148.7L578.7,146.2L579.2,143.8L579.7,141.4L580.3,139.1L580.8,136.5L581.3,134.2L581.8,131.7L582.4,129.4L582.9,126.9L583.4,124.6L584.0,122.2L584.5,119.9L585.0,117.5L585.5,115.2L586.1,113.0L586.6,110.7L587.1,108.4L587.7,106.0L588.2,103.7L588.7,101.4L589.2,99.2L589.8,96.9L590.3,94.5L590.8,92.3L591.4,89.9L591.9,87.7L592.4,85.5L592.9,83.3L593.5,81.0L594.0,78.9L594.5,76.5L595.1,74.1L595.6,71.8L596.1,69.6L596.6,67.3L597.2,64.9L597.7,62.7L598.2,60.3L598.8,58.2L599.3,56.0L599.8,53.9L600.4,51.8L600.9,49.7L601.4,47.8L601.9,46.0L602.5,44.2L603.0,42.4L603.5,40.9L604.1,39.2L604.6,37.5L605.1,35.9L605.6,34.2L606.2,32.4L606.7,30.6L607.2,28.9L607.8,27.3L608.3,26.1L608.8,24.9L609.3,23.8L609.9,22.7L610.4,21.6L610.9,20.8L611.5,20.0L612.0,19.5L612.5,19.0L613.0,18.5L613.6,18.1L614.1,17.8L614.6,17.3L615.2,17.1L615.7,16.8L616.2,16.7L616.8,16.6L617.3,16.7L617.8,16.8L618.3,17.0L618.9,17.3L619.4,17.5L619.9,18.0L620.5,18.6L621.0,18.9L621.5,19.5L622.0,20.0L622.6,20.8L623.1,21.9L623.6,23.0L624.2,24.4L624.7,25.7L625.2,27.2L625.7,28.6L626.3,30.2L626.8,32.1L627.3,34.0L627.9,35.9L628.4,37.8L628.9,39.6L629.4,41.4L630.0,43.2L630.5,45.0L631.0,46.8L631.6,48.3L632.1,50.1L632.6,51.9L633.2,53.8L633.7,55.6L634.2,57.5L634.7,59.5L635.3,61.9L635.8,64.3L636.3,66.9L636.9,69.0L637.4,70.7L637.9,72.3L638.4,73.8L639.0,75.1L639.5,76.4L640.0,77.7L640.6,78.7L641.1,80.2L641.6,81.4L642.1,82.7L642.7,84.0L643.2,85.3L643.7,86.5L644.3,87.6L644.8,88.6L645.3,89.8L645.8,90.7L646.4,91.4L646.9,92.4L647.4,93.3L648.0,94.1L648.5,95.2L649.0,96.1L649.5,97.1L650.1,98.2L650.6,99.3L651.1,100.4L651.7,101.5L652.2,102.5L652.7,103.8L653.3,104.8L653.8,105.9L654.3,107.2L654.8,108.6L655.4,110.0L655.9,111.7L656.4,113.8L657.0,116.0L657.5,118.4L658.0,121.8L658.5,126.0L659.1,130.8L659.6,135.5L660.1,140.2L660.7,145.1L661.2,150.1L661.7,155.3L662.2,160.4L662.8,165.6L663.3,171.1L663.8,176.8L664.4,182.6L664.9,188.2L665.4,193.9L665.9,199.2L666.5,204.1L667.0,208.6L667.5,212.6L668.1,216.5L668.6,220.3L669.1,223.8L669.7,227.3L670.2,230.8L670.7,234.1L671.2,237.6L671.8,241.0L672.3,244.8L672.8,248.4L673.4,251.8L673.9,254.6L674.4,256.8L674.9,258.7L675.5,259.9L676.0,261.0"/>
</g>
<g stroke="#000" stroke-width="1.5" fill="none">
<path d="M409.5,12.8V283"/><path stroke-width="2" d="M408.75,282H677.8"/>
<path d="M405.80,272.53H409.5"/>
<path d="M402.10,252.25H409.5"/>
<path d="M405.80,231.97H409.5"/>
<path d="M402.10,211.69H409.5"/>
<path d="M405.80,191.41H409.5"/>
<path d="M402.10,171.13H409.5"/>
<path d="M405.80,150.85H409.5"/>
<path d="M402.10,130.57H409.5"/>
<path d="M405.80,110.29H409.5"/>
<path d="M402.10,90.01H409.5"/>
<path d="M405.80,69.73H409.5"/>
<path d="M402.10,49.45H409.5"/>
<path d="M405.80,29.17H409.5"/>
<path d="M411.50,282V289.40"/>
<path d="M437.95,282V285.70"/>
<path d="M464.40,282V289.40"/>
<path d="M490.85,282V285.70"/>
<path d="M517.30,282V289.40"/>
<path d="M543.75,282V285.70"/>
<path d="M570.20,282V289.40"/>
<path d="M596.65,282V285.70"/>
<path d="M623.10,282V289.40"/>
<path d="M649.55,282V285.70"/>
<path d="M676.00,282V289.40"/>
</g>
<g font-family="Liberation Sans, sans-serif" font-size="11.8" stroke="#000" stroke-width="0.3" fill="#000">
<text x="397" y="255.95" text-anchor="end">0.02</text>
<text x="397" y="215.39" text-anchor="end">0.04</text>
<text x="397" y="174.83" text-anchor="end">0.06</text>
<text x="397" y="134.27" text-anchor="end">0.08</text>
<text x="397" y="93.71" text-anchor="end">0.10</text>
<text x="397" y="53.15" text-anchor="end">0.12</text>
<text x="411.50" y="303.8" text-anchor="middle">300</text>
<text x="464.40" y="303.8" text-anchor="middle">400</text>
<text x="517.30" y="303.8" text-anchor="middle">500</text>
<text x="570.20" y="303.8" text-anchor="middle">600</text>
<text x="623.10" y="303.8" text-anchor="middle">700</text>
<text x="676.00" y="303.8" text-anchor="middle">800</text>
<text x="500.9" y="324">Wavelength(nm)</text>
<text transform="translate(361.5,131.7) rotate(-90)" text-anchor="middle">Absorbance</text>
</g>
<text x="358" y="10.6" font-family="Liberation Sans, sans-serif" font-size="15">b</text>
</svg>
</body></html>
